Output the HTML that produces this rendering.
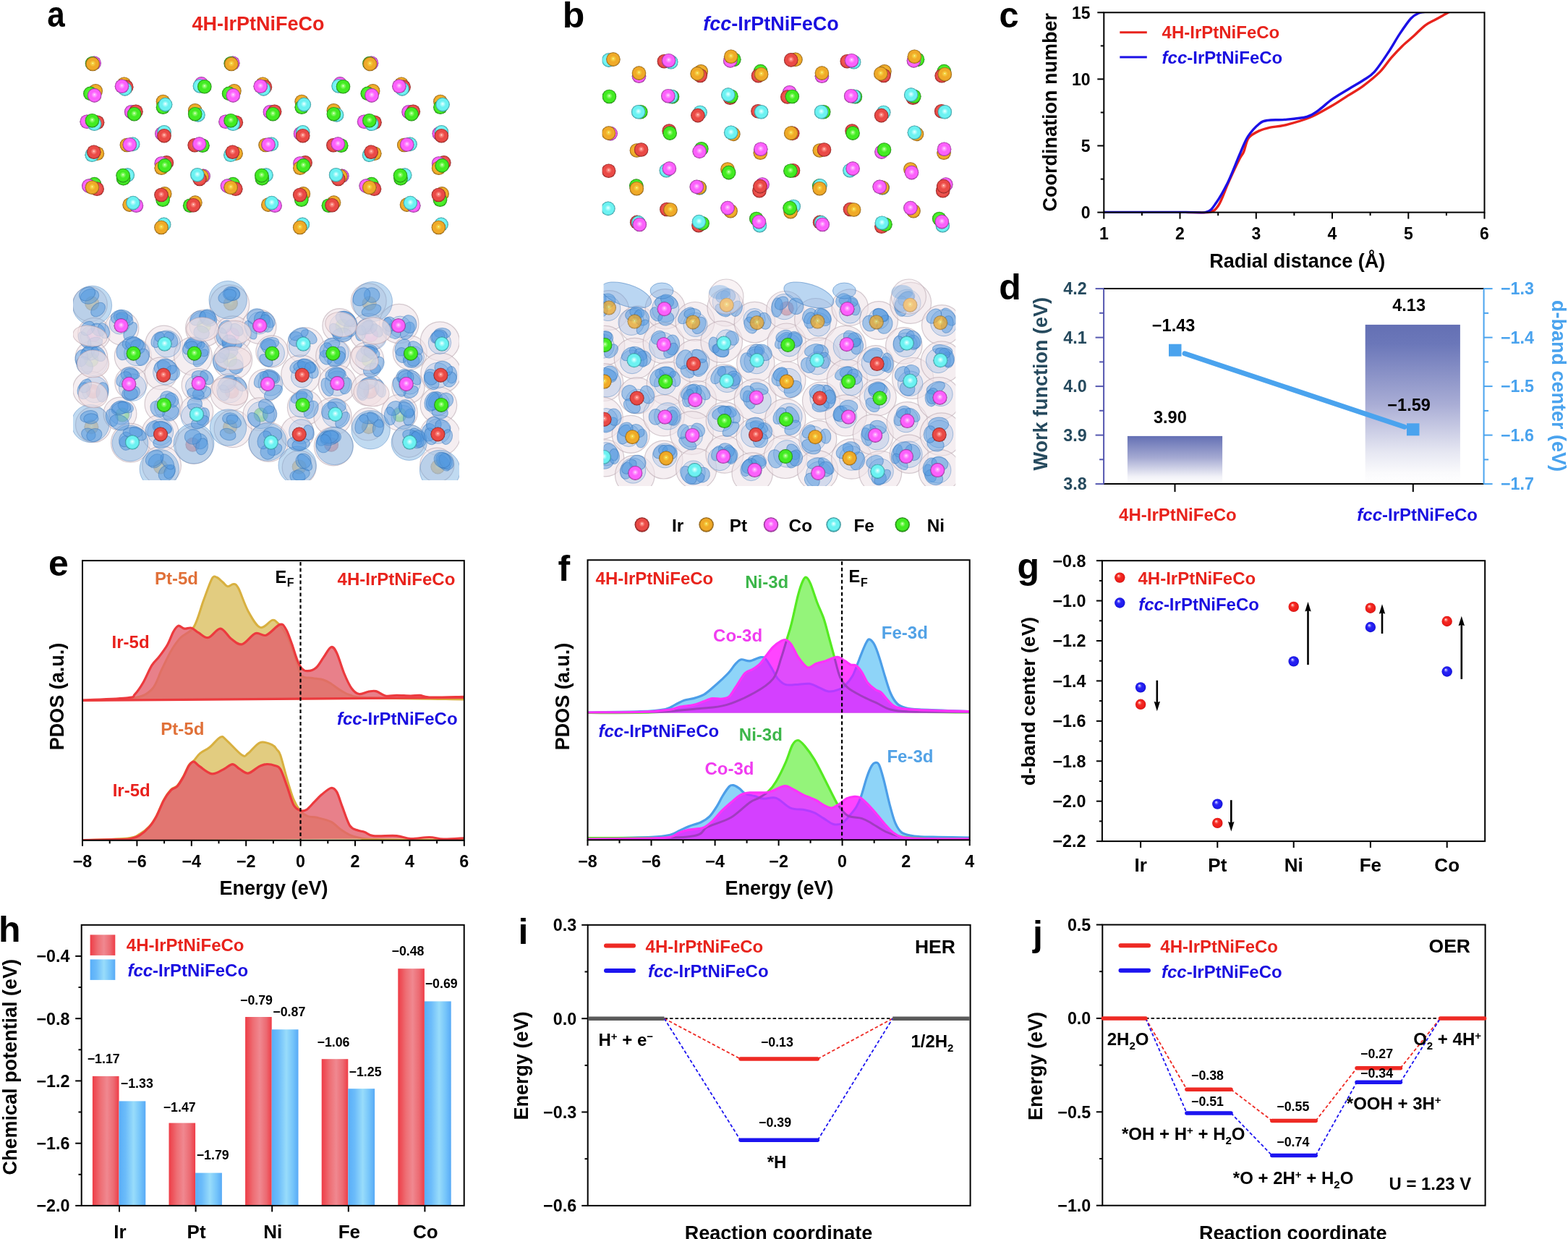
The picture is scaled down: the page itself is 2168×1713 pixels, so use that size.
<!DOCTYPE html>
<html><head><meta charset="utf-8"><title>Figure</title>
<style>
html,body{margin:0;padding:0;background:#fff;}
body{width:2168px;height:1713px;overflow:hidden;}
svg{display:block;}
svg text{font-family:'Liberation Sans', Arial, Helvetica, sans-serif;}
</style></head><body>
<svg width="2168" height="1713" viewBox="0 0 2168 1713">
<rect width="2168" height="1713" fill="#fff"/>
<defs>
<radialGradient id="ballR" cx="0.5" cy="0.5" r="0.5" fx="0.36" fy="0.3"><stop offset="0" stop-color="#ffffff"/><stop offset="0.18" stop-color="#ff8a80"/><stop offset="0.4" stop-color="#f42a24"/><stop offset="0.85" stop-color="#ec1c18"/><stop offset="1" stop-color="#c81010"/></radialGradient>
<radialGradient id="ballB" cx="0.5" cy="0.5" r="0.5" fx="0.36" fy="0.3"><stop offset="0" stop-color="#ffffff"/><stop offset="0.18" stop-color="#8a8aff"/><stop offset="0.4" stop-color="#2a24f4"/><stop offset="0.85" stop-color="#1c18ec"/><stop offset="1" stop-color="#1010c0"/></radialGradient>
<radialGradient id="atR" cx="0.5" cy="0.5" r="0.5" fx="0.5" fy="0.44"><stop offset="0" stop-color="#ffffff"/><stop offset="0.1" stop-color="#ff9c92"/><stop offset="0.45" stop-color="#ea4a46"/><stop offset="0.8" stop-color="#ea4a46"/><stop offset="0.93" stop-color="#b23331"/><stop offset="1" stop-color="#7a1c1c"/></radialGradient>
<radialGradient id="bkR" cx="0.5" cy="0.5" r="0.5" fx="0.5" fy="0.44"><stop offset="0" stop-color="#ff9c92"/><stop offset="0.3" stop-color="#f0635d"/><stop offset="0.8" stop-color="#ea4a46"/><stop offset="0.93" stop-color="#b23331"/><stop offset="1" stop-color="#7a1c1c"/></radialGradient>
<radialGradient id="lgR" cx="0.5" cy="0.5" r="0.5" fx="0.5" fy="0.42"><stop offset="0" stop-color="#ffffff"/><stop offset="0.1" stop-color="#ff9c92"/><stop offset="0.4" stop-color="#ea4a46"/><stop offset="0.75" stop-color="#ea4a46"/><stop offset="1" stop-color="#7a1c1c"/></radialGradient>
<radialGradient id="atO" cx="0.5" cy="0.5" r="0.5" fx="0.5" fy="0.44"><stop offset="0" stop-color="#ffffff"/><stop offset="0.1" stop-color="#f6dc4c"/><stop offset="0.45" stop-color="#f0aa28"/><stop offset="0.8" stop-color="#f0aa28"/><stop offset="0.93" stop-color="#b57d1c"/><stop offset="1" stop-color="#7a5010"/></radialGradient>
<radialGradient id="bkO" cx="0.5" cy="0.5" r="0.5" fx="0.5" fy="0.44"><stop offset="0" stop-color="#f6dc4c"/><stop offset="0.3" stop-color="#f2b933"/><stop offset="0.8" stop-color="#f0aa28"/><stop offset="0.93" stop-color="#b57d1c"/><stop offset="1" stop-color="#7a5010"/></radialGradient>
<radialGradient id="lgO" cx="0.5" cy="0.5" r="0.5" fx="0.5" fy="0.42"><stop offset="0" stop-color="#ffffff"/><stop offset="0.1" stop-color="#f6dc4c"/><stop offset="0.4" stop-color="#f0aa28"/><stop offset="0.75" stop-color="#f0aa28"/><stop offset="1" stop-color="#7a5010"/></radialGradient>
<radialGradient id="atP" cx="0.5" cy="0.5" r="0.5" fx="0.5" fy="0.44"><stop offset="0" stop-color="#ffffff"/><stop offset="0.1" stop-color="#ffb4ff"/><stop offset="0.45" stop-color="#fc60fc"/><stop offset="0.8" stop-color="#fc60fc"/><stop offset="0.93" stop-color="#bb43bb"/><stop offset="1" stop-color="#7a267a"/></radialGradient>
<radialGradient id="bkP" cx="0.5" cy="0.5" r="0.5" fx="0.5" fy="0.44"><stop offset="0" stop-color="#ffb4ff"/><stop offset="0.3" stop-color="#fd79fd"/><stop offset="0.8" stop-color="#fc60fc"/><stop offset="0.93" stop-color="#bb43bb"/><stop offset="1" stop-color="#7a267a"/></radialGradient>
<radialGradient id="lgP" cx="0.5" cy="0.5" r="0.5" fx="0.5" fy="0.42"><stop offset="0" stop-color="#ffffff"/><stop offset="0.1" stop-color="#ffb4ff"/><stop offset="0.4" stop-color="#fc60fc"/><stop offset="0.75" stop-color="#fc60fc"/><stop offset="1" stop-color="#7a267a"/></radialGradient>
<radialGradient id="atC" cx="0.5" cy="0.5" r="0.5" fx="0.5" fy="0.44"><stop offset="0" stop-color="#ffffff"/><stop offset="0.1" stop-color="#ccffff"/><stop offset="0.45" stop-color="#6cf2f2"/><stop offset="0.8" stop-color="#6cf2f2"/><stop offset="0.93" stop-color="#4ab8bc"/><stop offset="1" stop-color="#287e86"/></radialGradient>
<radialGradient id="bkC" cx="0.5" cy="0.5" r="0.5" fx="0.5" fy="0.44"><stop offset="0" stop-color="#ccffff"/><stop offset="0.3" stop-color="#89f6f6"/><stop offset="0.8" stop-color="#6cf2f2"/><stop offset="0.93" stop-color="#4ab8bc"/><stop offset="1" stop-color="#287e86"/></radialGradient>
<radialGradient id="lgC" cx="0.5" cy="0.5" r="0.5" fx="0.5" fy="0.42"><stop offset="0" stop-color="#ffffff"/><stop offset="0.1" stop-color="#ccffff"/><stop offset="0.4" stop-color="#6cf2f2"/><stop offset="0.75" stop-color="#6cf2f2"/><stop offset="1" stop-color="#287e86"/></radialGradient>
<radialGradient id="atG" cx="0.5" cy="0.5" r="0.5" fx="0.5" fy="0.44"><stop offset="0" stop-color="#ffffff"/><stop offset="0.1" stop-color="#a4ff84"/><stop offset="0.45" stop-color="#42ec22"/><stop offset="0.8" stop-color="#42ec22"/><stop offset="0.93" stop-color="#2dad19"/><stop offset="1" stop-color="#186e10"/></radialGradient>
<radialGradient id="bkG" cx="0.5" cy="0.5" r="0.5" fx="0.5" fy="0.44"><stop offset="0" stop-color="#a4ff84"/><stop offset="0.3" stop-color="#5ff23f"/><stop offset="0.8" stop-color="#42ec22"/><stop offset="0.93" stop-color="#2dad19"/><stop offset="1" stop-color="#186e10"/></radialGradient>
<radialGradient id="lgG" cx="0.5" cy="0.5" r="0.5" fx="0.5" fy="0.42"><stop offset="0" stop-color="#ffffff"/><stop offset="0.1" stop-color="#a4ff84"/><stop offset="0.4" stop-color="#42ec22"/><stop offset="0.75" stop-color="#42ec22"/><stop offset="1" stop-color="#186e10"/></radialGradient>
</defs>
<clipPath id="clipa2"><rect x="101" y="370" width="534" height="294"/></clipPath>
<g>
<circle cx="130.1" cy="87.2" r="9.8" fill="url(#bkP)"/>
<circle cx="127.5" cy="87.8" r="9.8" fill="url(#bkG)"/>
<circle cx="128.2" cy="88.5" r="9.8" fill="url(#atO)"/>
<circle cx="132.2" cy="125.8" r="9.8" fill="url(#bkO)"/>
<circle cx="124.9" cy="129.4" r="9.8" fill="url(#bkG)"/>
<circle cx="130.6" cy="131.9" r="9.8" fill="url(#atP)"/>
<circle cx="120.2" cy="168.3" r="9.8" fill="url(#bkP)"/>
<circle cx="134.6" cy="169.3" r="9.8" fill="url(#bkR)"/>
<circle cx="130.5" cy="171.3" r="9.8" fill="url(#bkC)"/>
<circle cx="127.4" cy="166.7" r="9.8" fill="url(#atG)"/>
<circle cx="134.4" cy="212.3" r="9.8" fill="url(#bkO)"/>
<circle cx="127.2" cy="214.3" r="9.8" fill="url(#bkC)"/>
<circle cx="129.8" cy="210.2" r="9.8" fill="url(#atR)"/>
<circle cx="130.5" cy="254.6" r="9.8" fill="url(#bkG)"/>
<circle cx="134.1" cy="261.3" r="9.8" fill="url(#bkR)"/>
<circle cx="122.8" cy="257.1" r="9.8" fill="url(#bkP)"/>
<circle cx="127.4" cy="259.2" r="9.8" fill="url(#atO)"/>
<circle cx="171.6" cy="116.2" r="9.8" fill="url(#bkO)"/>
<circle cx="174.7" cy="120.3" r="9.8" fill="url(#bkR)"/>
<circle cx="172.7" cy="122.9" r="9.8" fill="url(#bkC)"/>
<circle cx="168.5" cy="119.3" r="9.8" fill="url(#atP)"/>
<circle cx="181.7" cy="154.8" r="9.8" fill="url(#bkP)"/>
<circle cx="187.9" cy="154.3" r="9.8" fill="url(#bkR)"/>
<circle cx="185.6" cy="157.7" r="9.8" fill="url(#atG)"/>
<circle cx="175.4" cy="200.5" r="9.8" fill="url(#bkO)"/>
<circle cx="183.6" cy="199.4" r="9.8" fill="url(#bkC)"/>
<circle cx="179.3" cy="200.0" r="9.8" fill="url(#atP)"/>
<circle cx="176.3" cy="242.1" r="9.8" fill="url(#bkC)"/>
<circle cx="170.6" cy="246.7" r="9.8" fill="url(#bkG)"/>
<circle cx="170.1" cy="242.6" r="9.8" fill="url(#atG)"/>
<circle cx="179.1" cy="283.1" r="9.8" fill="url(#bkO)"/>
<circle cx="188.4" cy="284.2" r="9.8" fill="url(#bkP)"/>
<circle cx="184.0" cy="280.6" r="9.8" fill="url(#atC)"/>
<circle cx="225.5" cy="140.5" r="9.8" fill="url(#bkO)"/>
<circle cx="225.5" cy="148.2" r="9.8" fill="url(#bkG)"/>
<circle cx="228.6" cy="144.6" r="9.8" fill="url(#atC)"/>
<circle cx="223.9" cy="184.8" r="9.8" fill="url(#bkP)"/>
<circle cx="227.0" cy="182.8" r="9.8" fill="url(#bkC)"/>
<circle cx="227.0" cy="187.7" r="9.8" fill="url(#atR)"/>
<circle cx="230.4" cy="224.9" r="9.8" fill="url(#bkR)"/>
<circle cx="223.2" cy="226.0" r="9.8" fill="url(#bkP)"/>
<circle cx="223.2" cy="232.2" r="9.8" fill="url(#bkO)"/>
<circle cx="227.8" cy="228.9" r="9.8" fill="url(#atG)"/>
<circle cx="227.7" cy="267.9" r="9.8" fill="url(#bkO)"/>
<circle cx="225.1" cy="276.2" r="9.8" fill="url(#bkG)"/>
<circle cx="223.0" cy="269.5" r="9.8" fill="url(#atR)"/>
<circle cx="226.6" cy="310.4" r="9.8" fill="url(#bkC)"/>
<circle cx="223.0" cy="314.5" r="9.8" fill="url(#atO)"/>
<circle cx="278.4" cy="115.9" r="9.8" fill="url(#bkP)"/>
<circle cx="276.4" cy="119.0" r="9.8" fill="url(#bkC)"/>
<circle cx="282.8" cy="119.8" r="9.8" fill="url(#atG)"/>
<circle cx="269.7" cy="152.8" r="9.8" fill="url(#bkO)"/>
<circle cx="273.9" cy="158.9" r="9.8" fill="url(#bkC)"/>
<circle cx="269.7" cy="157.7" r="9.8" fill="url(#atG)"/>
<circle cx="269.2" cy="200.7" r="9.8" fill="url(#bkR)"/>
<circle cx="280.0" cy="201.2" r="9.8" fill="url(#bkG)"/>
<circle cx="275.6" cy="199.1" r="9.8" fill="url(#atP)"/>
<circle cx="281.1" cy="243.4" r="9.8" fill="url(#bkP)"/>
<circle cx="279.1" cy="243.9" r="9.8" fill="url(#bkO)"/>
<circle cx="276.0" cy="247.5" r="9.8" fill="url(#bkR)"/>
<circle cx="272.9" cy="241.8" r="9.8" fill="url(#atC)"/>
<circle cx="269.9" cy="280.1" r="9.8" fill="url(#bkO)"/>
<circle cx="262.7" cy="284.2" r="9.8" fill="url(#bkG)"/>
<circle cx="267.4" cy="283.7" r="9.8" fill="url(#atR)"/>
<circle cx="321.8" cy="87.2" r="9.8" fill="url(#bkP)"/>
<circle cx="319.2" cy="87.8" r="9.8" fill="url(#bkG)"/>
<circle cx="319.9" cy="88.5" r="9.8" fill="url(#atO)"/>
<circle cx="323.9" cy="125.8" r="9.8" fill="url(#bkO)"/>
<circle cx="316.6" cy="129.4" r="9.8" fill="url(#bkG)"/>
<circle cx="322.3" cy="131.9" r="9.8" fill="url(#atP)"/>
<circle cx="312.0" cy="168.3" r="9.8" fill="url(#bkP)"/>
<circle cx="326.3" cy="169.3" r="9.8" fill="url(#bkR)"/>
<circle cx="322.2" cy="171.3" r="9.8" fill="url(#bkC)"/>
<circle cx="319.1" cy="166.7" r="9.8" fill="url(#atG)"/>
<circle cx="326.1" cy="212.3" r="9.8" fill="url(#bkO)"/>
<circle cx="318.9" cy="214.3" r="9.8" fill="url(#bkC)"/>
<circle cx="321.5" cy="210.2" r="9.8" fill="url(#atR)"/>
<circle cx="322.2" cy="254.6" r="9.8" fill="url(#bkG)"/>
<circle cx="325.8" cy="261.3" r="9.8" fill="url(#bkR)"/>
<circle cx="314.5" cy="257.1" r="9.8" fill="url(#bkP)"/>
<circle cx="319.1" cy="259.2" r="9.8" fill="url(#atO)"/>
<circle cx="363.3" cy="116.2" r="9.8" fill="url(#bkO)"/>
<circle cx="366.4" cy="120.3" r="9.8" fill="url(#bkR)"/>
<circle cx="364.4" cy="122.9" r="9.8" fill="url(#bkC)"/>
<circle cx="360.2" cy="119.3" r="9.8" fill="url(#atP)"/>
<circle cx="373.4" cy="154.8" r="9.8" fill="url(#bkP)"/>
<circle cx="379.6" cy="154.3" r="9.8" fill="url(#bkR)"/>
<circle cx="377.3" cy="157.7" r="9.8" fill="url(#atG)"/>
<circle cx="367.1" cy="200.5" r="9.8" fill="url(#bkO)"/>
<circle cx="375.3" cy="199.4" r="9.8" fill="url(#bkC)"/>
<circle cx="371.0" cy="200.0" r="9.8" fill="url(#atP)"/>
<circle cx="368.0" cy="242.1" r="9.8" fill="url(#bkC)"/>
<circle cx="362.3" cy="246.7" r="9.8" fill="url(#bkG)"/>
<circle cx="361.8" cy="242.6" r="9.8" fill="url(#atG)"/>
<circle cx="370.8" cy="283.1" r="9.8" fill="url(#bkO)"/>
<circle cx="380.1" cy="284.2" r="9.8" fill="url(#bkP)"/>
<circle cx="375.7" cy="280.6" r="9.8" fill="url(#atC)"/>
<circle cx="417.2" cy="140.5" r="9.8" fill="url(#bkO)"/>
<circle cx="417.2" cy="148.2" r="9.8" fill="url(#bkG)"/>
<circle cx="420.3" cy="144.6" r="9.8" fill="url(#atC)"/>
<circle cx="415.6" cy="184.8" r="9.8" fill="url(#bkP)"/>
<circle cx="418.7" cy="182.8" r="9.8" fill="url(#bkC)"/>
<circle cx="418.7" cy="187.7" r="9.8" fill="url(#atR)"/>
<circle cx="422.1" cy="224.9" r="9.8" fill="url(#bkR)"/>
<circle cx="414.9" cy="226.0" r="9.8" fill="url(#bkP)"/>
<circle cx="414.9" cy="232.2" r="9.8" fill="url(#bkO)"/>
<circle cx="419.5" cy="228.9" r="9.8" fill="url(#atG)"/>
<circle cx="419.4" cy="267.9" r="9.8" fill="url(#bkO)"/>
<circle cx="416.8" cy="276.2" r="9.8" fill="url(#bkG)"/>
<circle cx="414.7" cy="269.5" r="9.8" fill="url(#atR)"/>
<circle cx="418.3" cy="310.4" r="9.8" fill="url(#bkC)"/>
<circle cx="414.7" cy="314.5" r="9.8" fill="url(#atO)"/>
<circle cx="470.1" cy="115.9" r="9.8" fill="url(#bkP)"/>
<circle cx="468.1" cy="119.0" r="9.8" fill="url(#bkC)"/>
<circle cx="474.5" cy="119.8" r="9.8" fill="url(#atG)"/>
<circle cx="461.4" cy="152.8" r="9.8" fill="url(#bkO)"/>
<circle cx="465.6" cy="158.9" r="9.8" fill="url(#bkC)"/>
<circle cx="461.4" cy="157.7" r="9.8" fill="url(#atG)"/>
<circle cx="460.9" cy="200.7" r="9.8" fill="url(#bkR)"/>
<circle cx="471.7" cy="201.2" r="9.8" fill="url(#bkG)"/>
<circle cx="467.3" cy="199.1" r="9.8" fill="url(#atP)"/>
<circle cx="472.8" cy="243.4" r="9.8" fill="url(#bkP)"/>
<circle cx="470.8" cy="243.9" r="9.8" fill="url(#bkO)"/>
<circle cx="467.7" cy="247.5" r="9.8" fill="url(#bkR)"/>
<circle cx="464.6" cy="241.8" r="9.8" fill="url(#atC)"/>
<circle cx="461.6" cy="280.1" r="9.8" fill="url(#bkO)"/>
<circle cx="454.4" cy="284.2" r="9.8" fill="url(#bkG)"/>
<circle cx="459.1" cy="283.7" r="9.8" fill="url(#atR)"/>
<circle cx="513.5" cy="87.2" r="9.8" fill="url(#bkP)"/>
<circle cx="510.9" cy="87.8" r="9.8" fill="url(#bkG)"/>
<circle cx="511.6" cy="88.5" r="9.8" fill="url(#atO)"/>
<circle cx="515.6" cy="125.8" r="9.8" fill="url(#bkO)"/>
<circle cx="508.3" cy="129.4" r="9.8" fill="url(#bkG)"/>
<circle cx="514.0" cy="131.9" r="9.8" fill="url(#atP)"/>
<circle cx="503.6" cy="168.3" r="9.8" fill="url(#bkP)"/>
<circle cx="518.0" cy="169.3" r="9.8" fill="url(#bkR)"/>
<circle cx="513.9" cy="171.3" r="9.8" fill="url(#bkC)"/>
<circle cx="510.8" cy="166.7" r="9.8" fill="url(#atG)"/>
<circle cx="517.8" cy="212.3" r="9.8" fill="url(#bkO)"/>
<circle cx="510.6" cy="214.3" r="9.8" fill="url(#bkC)"/>
<circle cx="513.2" cy="210.2" r="9.8" fill="url(#atR)"/>
<circle cx="513.9" cy="254.6" r="9.8" fill="url(#bkG)"/>
<circle cx="517.5" cy="261.3" r="9.8" fill="url(#bkR)"/>
<circle cx="506.2" cy="257.1" r="9.8" fill="url(#bkP)"/>
<circle cx="510.8" cy="259.2" r="9.8" fill="url(#atO)"/>
<circle cx="555.0" cy="116.2" r="9.8" fill="url(#bkO)"/>
<circle cx="558.1" cy="120.3" r="9.8" fill="url(#bkR)"/>
<circle cx="556.1" cy="122.9" r="9.8" fill="url(#bkC)"/>
<circle cx="551.9" cy="119.3" r="9.8" fill="url(#atP)"/>
<circle cx="565.1" cy="154.8" r="9.8" fill="url(#bkP)"/>
<circle cx="571.3" cy="154.3" r="9.8" fill="url(#bkR)"/>
<circle cx="569.0" cy="157.7" r="9.8" fill="url(#atG)"/>
<circle cx="558.8" cy="200.5" r="9.8" fill="url(#bkO)"/>
<circle cx="567.0" cy="199.4" r="9.8" fill="url(#bkC)"/>
<circle cx="562.7" cy="200.0" r="9.8" fill="url(#atP)"/>
<circle cx="559.7" cy="242.1" r="9.8" fill="url(#bkC)"/>
<circle cx="554.0" cy="246.7" r="9.8" fill="url(#bkG)"/>
<circle cx="553.5" cy="242.6" r="9.8" fill="url(#atG)"/>
<circle cx="562.5" cy="283.1" r="9.8" fill="url(#bkO)"/>
<circle cx="571.8" cy="284.2" r="9.8" fill="url(#bkP)"/>
<circle cx="567.4" cy="280.6" r="9.8" fill="url(#atC)"/>
<circle cx="608.9" cy="140.5" r="9.8" fill="url(#bkO)"/>
<circle cx="608.9" cy="148.2" r="9.8" fill="url(#bkG)"/>
<circle cx="612.0" cy="144.6" r="9.8" fill="url(#atC)"/>
<circle cx="607.3" cy="184.8" r="9.8" fill="url(#bkP)"/>
<circle cx="610.4" cy="182.8" r="9.8" fill="url(#bkC)"/>
<circle cx="610.4" cy="187.7" r="9.8" fill="url(#atR)"/>
<circle cx="613.8" cy="224.9" r="9.8" fill="url(#bkR)"/>
<circle cx="606.6" cy="226.0" r="9.8" fill="url(#bkP)"/>
<circle cx="606.6" cy="232.2" r="9.8" fill="url(#bkO)"/>
<circle cx="611.2" cy="228.9" r="9.8" fill="url(#atG)"/>
<circle cx="611.1" cy="267.9" r="9.8" fill="url(#bkO)"/>
<circle cx="608.5" cy="276.2" r="9.8" fill="url(#bkG)"/>
<circle cx="606.4" cy="269.5" r="9.8" fill="url(#atR)"/>
<circle cx="610.0" cy="310.4" r="9.8" fill="url(#bkC)"/>
<circle cx="606.4" cy="314.5" r="9.8" fill="url(#atO)"/>
</g>
<g clip-path="url(#clipa2)">
<circle cx="127.2" cy="419.5" r="10" fill="url(#atO)"/>
<circle cx="129.6" cy="462.9" r="10" fill="url(#atP)"/>
<circle cx="126.4" cy="497.7" r="10" fill="url(#atG)"/>
<circle cx="128.8" cy="541.2" r="10" fill="url(#atR)"/>
<circle cx="126.4" cy="590.2" r="10" fill="url(#atO)"/>
<circle cx="169.1" cy="573.6" r="10" fill="url(#atG)"/>
<circle cx="222.0" cy="645.5" r="10" fill="url(#atO)"/>
<circle cx="281.8" cy="450.8" r="10" fill="url(#atG)"/>
<circle cx="266.4" cy="614.7" r="10" fill="url(#atR)"/>
<circle cx="318.9" cy="419.5" r="10" fill="url(#atO)"/>
<circle cx="321.3" cy="462.9" r="10" fill="url(#atP)"/>
<circle cx="318.1" cy="497.7" r="10" fill="url(#atG)"/>
<circle cx="320.5" cy="541.2" r="10" fill="url(#atR)"/>
<circle cx="318.1" cy="590.2" r="10" fill="url(#atO)"/>
<circle cx="360.8" cy="573.6" r="10" fill="url(#atG)"/>
<circle cx="413.7" cy="645.5" r="10" fill="url(#atO)"/>
<circle cx="473.5" cy="450.8" r="10" fill="url(#atG)"/>
<circle cx="458.1" cy="614.7" r="10" fill="url(#atR)"/>
<circle cx="510.6" cy="419.5" r="10" fill="url(#atO)"/>
<circle cx="513.0" cy="462.9" r="10" fill="url(#atP)"/>
<circle cx="509.8" cy="497.7" r="10" fill="url(#atG)"/>
<circle cx="512.2" cy="541.2" r="10" fill="url(#atR)"/>
<circle cx="509.8" cy="590.2" r="10" fill="url(#atO)"/>
<circle cx="552.5" cy="573.6" r="10" fill="url(#atG)"/>
<circle cx="605.4" cy="645.5" r="10" fill="url(#atO)"/>
<circle cx="124.4" cy="420.7" r="23.9" fill="#efe3e8" fill-opacity="0.62" stroke="#b4a2ac" stroke-opacity="0.55" stroke-width="1.2"/>
<circle cx="129.9" cy="461.8" r="22.4" fill="#efe3e8" fill-opacity="0.62" stroke="#b4a2ac" stroke-opacity="0.55" stroke-width="1.2"/>
<circle cx="126.5" cy="494.0" r="22.3" fill="#efe3e8" fill-opacity="0.62" stroke="#b4a2ac" stroke-opacity="0.55" stroke-width="1.2"/>
<circle cx="125.4" cy="537.9" r="24.6" fill="#efe3e8" fill-opacity="0.62" stroke="#b4a2ac" stroke-opacity="0.55" stroke-width="1.2"/>
<circle cx="129.0" cy="587.2" r="24.5" fill="#efe3e8" fill-opacity="0.62" stroke="#b4a2ac" stroke-opacity="0.55" stroke-width="1.2"/>
<circle cx="168.5" cy="453.9" r="23.3" fill="#efe3e8" fill-opacity="0.62" stroke="#b4a2ac" stroke-opacity="0.55" stroke-width="1.2"/>
<circle cx="183.8" cy="492.5" r="25.5" fill="#efe3e8" fill-opacity="0.62" stroke="#b4a2ac" stroke-opacity="0.55" stroke-width="1.2"/>
<circle cx="181.2" cy="529.3" r="22.3" fill="#efe3e8" fill-opacity="0.62" stroke="#b4a2ac" stroke-opacity="0.55" stroke-width="1.2"/>
<circle cx="166.0" cy="572.1" r="22.9" fill="#efe3e8" fill-opacity="0.62" stroke="#b4a2ac" stroke-opacity="0.55" stroke-width="1.2"/>
<circle cx="180.4" cy="612.3" r="26.9" fill="#efe3e8" fill-opacity="0.62" stroke="#b4a2ac" stroke-opacity="0.55" stroke-width="1.2"/>
<circle cx="226.6" cy="476.0" r="25.8" fill="#efe3e8" fill-opacity="0.62" stroke="#b4a2ac" stroke-opacity="0.55" stroke-width="1.2"/>
<circle cx="222.5" cy="516.3" r="22.4" fill="#efe3e8" fill-opacity="0.62" stroke="#b4a2ac" stroke-opacity="0.55" stroke-width="1.2"/>
<circle cx="226.2" cy="558.4" r="26.1" fill="#efe3e8" fill-opacity="0.62" stroke="#b4a2ac" stroke-opacity="0.55" stroke-width="1.2"/>
<circle cx="221.6" cy="598.9" r="25.5" fill="#efe3e8" fill-opacity="0.62" stroke="#b4a2ac" stroke-opacity="0.55" stroke-width="1.2"/>
<circle cx="223.6" cy="643.5" r="26.8" fill="#efe3e8" fill-opacity="0.62" stroke="#b4a2ac" stroke-opacity="0.55" stroke-width="1.2"/>
<circle cx="282.0" cy="453.8" r="25.4" fill="#efe3e8" fill-opacity="0.62" stroke="#b4a2ac" stroke-opacity="0.55" stroke-width="1.2"/>
<circle cx="267.0" cy="492.5" r="26.4" fill="#efe3e8" fill-opacity="0.62" stroke="#b4a2ac" stroke-opacity="0.55" stroke-width="1.2"/>
<circle cx="273.9" cy="532.2" r="22.7" fill="#efe3e8" fill-opacity="0.62" stroke="#b4a2ac" stroke-opacity="0.55" stroke-width="1.2"/>
<circle cx="271.8" cy="569.1" r="22.9" fill="#efe3e8" fill-opacity="0.62" stroke="#b4a2ac" stroke-opacity="0.55" stroke-width="1.2"/>
<circle cx="268.5" cy="615.3" r="26.0" fill="#efe3e8" fill-opacity="0.62" stroke="#b4a2ac" stroke-opacity="0.55" stroke-width="1.2"/>
<circle cx="317.4" cy="421.1" r="27.3" fill="#efe3e8" fill-opacity="0.62" stroke="#b4a2ac" stroke-opacity="0.55" stroke-width="1.2"/>
<circle cx="321.9" cy="462.5" r="25.6" fill="#efe3e8" fill-opacity="0.62" stroke="#b4a2ac" stroke-opacity="0.55" stroke-width="1.2"/>
<circle cx="321.7" cy="497.5" r="27.0" fill="#efe3e8" fill-opacity="0.62" stroke="#b4a2ac" stroke-opacity="0.55" stroke-width="1.2"/>
<circle cx="317.0" cy="542.8" r="26.0" fill="#efe3e8" fill-opacity="0.62" stroke="#b4a2ac" stroke-opacity="0.55" stroke-width="1.2"/>
<circle cx="322.0" cy="592.8" r="25.9" fill="#efe3e8" fill-opacity="0.62" stroke="#b4a2ac" stroke-opacity="0.55" stroke-width="1.2"/>
<circle cx="358.3" cy="451.6" r="23.7" fill="#efe3e8" fill-opacity="0.62" stroke="#b4a2ac" stroke-opacity="0.55" stroke-width="1.2"/>
<circle cx="376.0" cy="486.0" r="22.1" fill="#efe3e8" fill-opacity="0.62" stroke="#b4a2ac" stroke-opacity="0.55" stroke-width="1.2"/>
<circle cx="366.5" cy="533.1" r="22.7" fill="#efe3e8" fill-opacity="0.62" stroke="#b4a2ac" stroke-opacity="0.55" stroke-width="1.2"/>
<circle cx="358.8" cy="572.7" r="22.8" fill="#efe3e8" fill-opacity="0.62" stroke="#b4a2ac" stroke-opacity="0.55" stroke-width="1.2"/>
<circle cx="371.3" cy="611.2" r="27.2" fill="#efe3e8" fill-opacity="0.62" stroke="#b4a2ac" stroke-opacity="0.55" stroke-width="1.2"/>
<circle cx="422.4" cy="478.2" r="25.3" fill="#efe3e8" fill-opacity="0.62" stroke="#b4a2ac" stroke-opacity="0.55" stroke-width="1.2"/>
<circle cx="415.9" cy="518.0" r="27.2" fill="#efe3e8" fill-opacity="0.62" stroke="#b4a2ac" stroke-opacity="0.55" stroke-width="1.2"/>
<circle cx="421.6" cy="563.6" r="24.2" fill="#efe3e8" fill-opacity="0.62" stroke="#b4a2ac" stroke-opacity="0.55" stroke-width="1.2"/>
<circle cx="411.1" cy="598.4" r="22.9" fill="#efe3e8" fill-opacity="0.62" stroke="#b4a2ac" stroke-opacity="0.55" stroke-width="1.2"/>
<circle cx="413.6" cy="646.2" r="23.4" fill="#efe3e8" fill-opacity="0.62" stroke="#b4a2ac" stroke-opacity="0.55" stroke-width="1.2"/>
<circle cx="469.5" cy="450.2" r="23.6" fill="#efe3e8" fill-opacity="0.62" stroke="#b4a2ac" stroke-opacity="0.55" stroke-width="1.2"/>
<circle cx="460.9" cy="492.3" r="24.2" fill="#efe3e8" fill-opacity="0.62" stroke="#b4a2ac" stroke-opacity="0.55" stroke-width="1.2"/>
<circle cx="466.4" cy="531.0" r="26.1" fill="#efe3e8" fill-opacity="0.62" stroke="#b4a2ac" stroke-opacity="0.55" stroke-width="1.2"/>
<circle cx="460.0" cy="576.0" r="26.1" fill="#efe3e8" fill-opacity="0.62" stroke="#b4a2ac" stroke-opacity="0.55" stroke-width="1.2"/>
<circle cx="461.1" cy="617.1" r="26.7" fill="#efe3e8" fill-opacity="0.62" stroke="#b4a2ac" stroke-opacity="0.55" stroke-width="1.2"/>
<circle cx="509.8" cy="416.3" r="24.4" fill="#efe3e8" fill-opacity="0.62" stroke="#b4a2ac" stroke-opacity="0.55" stroke-width="1.2"/>
<circle cx="509.5" cy="459.4" r="25.8" fill="#efe3e8" fill-opacity="0.62" stroke="#b4a2ac" stroke-opacity="0.55" stroke-width="1.2"/>
<circle cx="507.1" cy="496.4" r="23.3" fill="#efe3e8" fill-opacity="0.62" stroke="#b4a2ac" stroke-opacity="0.55" stroke-width="1.2"/>
<circle cx="508.2" cy="538.4" r="22.3" fill="#efe3e8" fill-opacity="0.62" stroke="#b4a2ac" stroke-opacity="0.55" stroke-width="1.2"/>
<circle cx="508.7" cy="586.4" r="22.6" fill="#efe3e8" fill-opacity="0.62" stroke="#b4a2ac" stroke-opacity="0.55" stroke-width="1.2"/>
<circle cx="551.8" cy="447.5" r="27.2" fill="#efe3e8" fill-opacity="0.62" stroke="#b4a2ac" stroke-opacity="0.55" stroke-width="1.2"/>
<circle cx="566.8" cy="487.6" r="23.5" fill="#efe3e8" fill-opacity="0.62" stroke="#b4a2ac" stroke-opacity="0.55" stroke-width="1.2"/>
<circle cx="564.5" cy="534.9" r="22.7" fill="#efe3e8" fill-opacity="0.62" stroke="#b4a2ac" stroke-opacity="0.55" stroke-width="1.2"/>
<circle cx="552.4" cy="570.3" r="24.8" fill="#efe3e8" fill-opacity="0.62" stroke="#b4a2ac" stroke-opacity="0.55" stroke-width="1.2"/>
<circle cx="565.1" cy="609.7" r="22.6" fill="#efe3e8" fill-opacity="0.62" stroke="#b4a2ac" stroke-opacity="0.55" stroke-width="1.2"/>
<circle cx="608.3" cy="471.8" r="27.0" fill="#efe3e8" fill-opacity="0.62" stroke="#b4a2ac" stroke-opacity="0.55" stroke-width="1.2"/>
<circle cx="609.6" cy="515.9" r="27.7" fill="#efe3e8" fill-opacity="0.62" stroke="#b4a2ac" stroke-opacity="0.55" stroke-width="1.2"/>
<circle cx="606.4" cy="560.1" r="25.3" fill="#efe3e8" fill-opacity="0.62" stroke="#b4a2ac" stroke-opacity="0.55" stroke-width="1.2"/>
<circle cx="608.3" cy="602.1" r="27.9" fill="#efe3e8" fill-opacity="0.62" stroke="#b4a2ac" stroke-opacity="0.55" stroke-width="1.2"/>
<circle cx="604.3" cy="642.8" r="23.6" fill="#efe3e8" fill-opacity="0.62" stroke="#b4a2ac" stroke-opacity="0.55" stroke-width="1.2"/>
<circle cx="127.5" cy="422.3" r="27.1" fill="#6aa6de" fill-opacity="0.42" stroke="#5a8cc4" stroke-opacity="0.5" stroke-width="1"/>
<circle cx="126.8" cy="466.0" r="15.6" fill="#8cb2e2" fill-opacity="0.32" stroke="#5a8cc4" stroke-opacity="0.5" stroke-width="1"/>
<circle cx="129.9" cy="500.8" r="18.9" fill="#8cb2e2" fill-opacity="0.32" stroke="#5a8cc4" stroke-opacity="0.5" stroke-width="1"/>
<circle cx="131.2" cy="538.5" r="18.1" fill="#8cb2e2" fill-opacity="0.32" stroke="#5a8cc4" stroke-opacity="0.5" stroke-width="1"/>
<circle cx="125.0" cy="585.5" r="26.1" fill="#6aa6de" fill-opacity="0.42" stroke="#5a8cc4" stroke-opacity="0.5" stroke-width="1"/>
<circle cx="165.3" cy="447.9" r="14.1" fill="#8cb2e2" fill-opacity="0.32" stroke="#5a8cc4" stroke-opacity="0.5" stroke-width="1"/>
<circle cx="189.2" cy="488.2" r="17.5" fill="#8cb2e2" fill-opacity="0.32" stroke="#5a8cc4" stroke-opacity="0.5" stroke-width="1"/>
<circle cx="183.2" cy="535.6" r="18.7" fill="#8cb2e2" fill-opacity="0.32" stroke="#5a8cc4" stroke-opacity="0.5" stroke-width="1"/>
<circle cx="166.3" cy="570.9" r="15.8" fill="#8cb2e2" fill-opacity="0.32" stroke="#5a8cc4" stroke-opacity="0.5" stroke-width="1"/>
<circle cx="180.0" cy="612.8" r="24.8" fill="#6aa6de" fill-opacity="0.42" stroke="#5a8cc4" stroke-opacity="0.5" stroke-width="1"/>
<circle cx="231.0" cy="475.4" r="18.5" fill="#8cb2e2" fill-opacity="0.32" stroke="#5a8cc4" stroke-opacity="0.5" stroke-width="1"/>
<circle cx="229.0" cy="514.5" r="17.3" fill="#8cb2e2" fill-opacity="0.32" stroke="#5a8cc4" stroke-opacity="0.5" stroke-width="1"/>
<circle cx="230.9" cy="562.7" r="17.3" fill="#8cb2e2" fill-opacity="0.32" stroke="#5a8cc4" stroke-opacity="0.5" stroke-width="1"/>
<circle cx="221.8" cy="597.3" r="17.8" fill="#8cb2e2" fill-opacity="0.32" stroke="#5a8cc4" stroke-opacity="0.5" stroke-width="1"/>
<circle cx="220.3" cy="648.5" r="27.2" fill="#6aa6de" fill-opacity="0.42" stroke="#5a8cc4" stroke-opacity="0.5" stroke-width="1"/>
<circle cx="280.8" cy="449.8" r="18.9" fill="#8cb2e2" fill-opacity="0.32" stroke="#5a8cc4" stroke-opacity="0.5" stroke-width="1"/>
<circle cx="270.9" cy="485.4" r="18.7" fill="#8cb2e2" fill-opacity="0.32" stroke="#5a8cc4" stroke-opacity="0.5" stroke-width="1"/>
<circle cx="271.1" cy="534.1" r="14.6" fill="#8cb2e2" fill-opacity="0.32" stroke="#5a8cc4" stroke-opacity="0.5" stroke-width="1"/>
<circle cx="268.4" cy="576.1" r="18.0" fill="#8cb2e2" fill-opacity="0.32" stroke="#5a8cc4" stroke-opacity="0.5" stroke-width="1"/>
<circle cx="268.0" cy="613.2" r="27.9" fill="#6aa6de" fill-opacity="0.42" stroke="#5a8cc4" stroke-opacity="0.5" stroke-width="1"/>
<circle cx="315.2" cy="414.6" r="26.2" fill="#6aa6de" fill-opacity="0.42" stroke="#5a8cc4" stroke-opacity="0.5" stroke-width="1"/>
<circle cx="322.8" cy="463.2" r="18.9" fill="#8cb2e2" fill-opacity="0.32" stroke="#5a8cc4" stroke-opacity="0.5" stroke-width="1"/>
<circle cx="317.4" cy="501.4" r="18.7" fill="#8cb2e2" fill-opacity="0.32" stroke="#5a8cc4" stroke-opacity="0.5" stroke-width="1"/>
<circle cx="317.6" cy="538.7" r="18.1" fill="#8cb2e2" fill-opacity="0.32" stroke="#5a8cc4" stroke-opacity="0.5" stroke-width="1"/>
<circle cx="315.5" cy="591.1" r="25.2" fill="#6aa6de" fill-opacity="0.42" stroke="#5a8cc4" stroke-opacity="0.5" stroke-width="1"/>
<circle cx="358.4" cy="446.6" r="15.3" fill="#8cb2e2" fill-opacity="0.32" stroke="#5a8cc4" stroke-opacity="0.5" stroke-width="1"/>
<circle cx="374.8" cy="488.3" r="18.6" fill="#8cb2e2" fill-opacity="0.32" stroke="#5a8cc4" stroke-opacity="0.5" stroke-width="1"/>
<circle cx="374.0" cy="530.2" r="16.9" fill="#8cb2e2" fill-opacity="0.32" stroke="#5a8cc4" stroke-opacity="0.5" stroke-width="1"/>
<circle cx="360.8" cy="573.9" r="18.6" fill="#8cb2e2" fill-opacity="0.32" stroke="#5a8cc4" stroke-opacity="0.5" stroke-width="1"/>
<circle cx="369.9" cy="611.0" r="26.1" fill="#6aa6de" fill-opacity="0.42" stroke="#5a8cc4" stroke-opacity="0.5" stroke-width="1"/>
<circle cx="414.3" cy="478.6" r="14.9" fill="#8cb2e2" fill-opacity="0.32" stroke="#5a8cc4" stroke-opacity="0.5" stroke-width="1"/>
<circle cx="417.4" cy="521.0" r="14.9" fill="#8cb2e2" fill-opacity="0.32" stroke="#5a8cc4" stroke-opacity="0.5" stroke-width="1"/>
<circle cx="416.8" cy="560.1" r="16.8" fill="#8cb2e2" fill-opacity="0.32" stroke="#5a8cc4" stroke-opacity="0.5" stroke-width="1"/>
<circle cx="416.5" cy="596.6" r="16.8" fill="#8cb2e2" fill-opacity="0.32" stroke="#5a8cc4" stroke-opacity="0.5" stroke-width="1"/>
<circle cx="411.2" cy="643.3" r="26.2" fill="#6aa6de" fill-opacity="0.42" stroke="#5a8cc4" stroke-opacity="0.5" stroke-width="1"/>
<circle cx="473.6" cy="451.4" r="17.9" fill="#8cb2e2" fill-opacity="0.32" stroke="#5a8cc4" stroke-opacity="0.5" stroke-width="1"/>
<circle cx="464.5" cy="488.1" r="17.8" fill="#8cb2e2" fill-opacity="0.32" stroke="#5a8cc4" stroke-opacity="0.5" stroke-width="1"/>
<circle cx="466.4" cy="530.2" r="17.1" fill="#8cb2e2" fill-opacity="0.32" stroke="#5a8cc4" stroke-opacity="0.5" stroke-width="1"/>
<circle cx="463.1" cy="573.1" r="17.5" fill="#8cb2e2" fill-opacity="0.32" stroke="#5a8cc4" stroke-opacity="0.5" stroke-width="1"/>
<circle cx="462.5" cy="616.7" r="25.9" fill="#6aa6de" fill-opacity="0.42" stroke="#5a8cc4" stroke-opacity="0.5" stroke-width="1"/>
<circle cx="515.0" cy="417.1" r="27.5" fill="#6aa6de" fill-opacity="0.42" stroke="#5a8cc4" stroke-opacity="0.5" stroke-width="1"/>
<circle cx="517.4" cy="466.3" r="16.8" fill="#8cb2e2" fill-opacity="0.32" stroke="#5a8cc4" stroke-opacity="0.5" stroke-width="1"/>
<circle cx="506.0" cy="497.1" r="14.7" fill="#8cb2e2" fill-opacity="0.32" stroke="#5a8cc4" stroke-opacity="0.5" stroke-width="1"/>
<circle cx="509.6" cy="536.9" r="14.4" fill="#8cb2e2" fill-opacity="0.32" stroke="#5a8cc4" stroke-opacity="0.5" stroke-width="1"/>
<circle cx="512.6" cy="594.2" r="26.7" fill="#6aa6de" fill-opacity="0.42" stroke="#5a8cc4" stroke-opacity="0.5" stroke-width="1"/>
<circle cx="553.1" cy="451.9" r="14.8" fill="#8cb2e2" fill-opacity="0.32" stroke="#5a8cc4" stroke-opacity="0.5" stroke-width="1"/>
<circle cx="571.8" cy="493.4" r="14.7" fill="#8cb2e2" fill-opacity="0.32" stroke="#5a8cc4" stroke-opacity="0.5" stroke-width="1"/>
<circle cx="566.2" cy="530.0" r="15.1" fill="#8cb2e2" fill-opacity="0.32" stroke="#5a8cc4" stroke-opacity="0.5" stroke-width="1"/>
<circle cx="557.4" cy="576.9" r="16.4" fill="#8cb2e2" fill-opacity="0.32" stroke="#5a8cc4" stroke-opacity="0.5" stroke-width="1"/>
<circle cx="565.7" cy="611.8" r="24.6" fill="#6aa6de" fill-opacity="0.42" stroke="#5a8cc4" stroke-opacity="0.5" stroke-width="1"/>
<circle cx="608.0" cy="473.8" r="15.7" fill="#8cb2e2" fill-opacity="0.32" stroke="#5a8cc4" stroke-opacity="0.5" stroke-width="1"/>
<circle cx="604.6" cy="519.2" r="17.6" fill="#8cb2e2" fill-opacity="0.32" stroke="#5a8cc4" stroke-opacity="0.5" stroke-width="1"/>
<circle cx="605.4" cy="558.2" r="16.2" fill="#8cb2e2" fill-opacity="0.32" stroke="#5a8cc4" stroke-opacity="0.5" stroke-width="1"/>
<circle cx="605.5" cy="596.1" r="17.1" fill="#8cb2e2" fill-opacity="0.32" stroke="#5a8cc4" stroke-opacity="0.5" stroke-width="1"/>
<circle cx="608.3" cy="650.2" r="27.9" fill="#6aa6de" fill-opacity="0.42" stroke="#5a8cc4" stroke-opacity="0.5" stroke-width="1"/>
<ellipse cx="123.9" cy="409.9" rx="13.0" ry="9.9" transform="rotate(-19 123.9 409.9)" fill="#4f98e0" fill-opacity="0.5" stroke="#3a78bc" stroke-opacity="0.5" stroke-width="1"/>
<ellipse cx="120.6" cy="406.4" rx="11.6" ry="8.9" transform="rotate(333 120.6 406.4)" fill="#4f98e0" fill-opacity="0.5" stroke="#3a78bc" stroke-opacity="0.5" stroke-width="1"/>
<ellipse cx="135.6" cy="428.1" rx="11.3" ry="8.0" transform="rotate(136 135.6 428.1)" fill="#4f98e0" fill-opacity="0.5" stroke="#3a78bc" stroke-opacity="0.5" stroke-width="1"/>
<ellipse cx="135.4" cy="455.9" rx="10.4" ry="7.9" transform="rotate(39 135.4 455.9)" fill="#4f98e0" fill-opacity="0.5" stroke="#3a78bc" stroke-opacity="0.5" stroke-width="1"/>
<ellipse cx="131.4" cy="473.3" rx="10.5" ry="7.0" transform="rotate(170 131.4 473.3)" fill="#4f98e0" fill-opacity="0.5" stroke="#3a78bc" stroke-opacity="0.5" stroke-width="1"/>
<ellipse cx="117.0" cy="470.1" rx="12.5" ry="7.2" transform="rotate(240 117.0 470.1)" fill="#4f98e0" fill-opacity="0.5" stroke="#3a78bc" stroke-opacity="0.5" stroke-width="1"/>
<ellipse cx="143.3" cy="457.3" rx="11.0" ry="7.6" transform="rotate(428 143.3 457.3)" fill="#4f98e0" fill-opacity="0.5" stroke="#3a78bc" stroke-opacity="0.5" stroke-width="1"/>
<ellipse cx="121.2" cy="454.1" rx="10.8" ry="8.6" transform="rotate(316 121.2 454.1)" fill="#4f98e0" fill-opacity="0.5" stroke="#3a78bc" stroke-opacity="0.5" stroke-width="1"/>
<ellipse cx="120.8" cy="488.2" rx="10.1" ry="7.9" transform="rotate(-31 120.8 488.2)" fill="#4f98e0" fill-opacity="0.5" stroke="#3a78bc" stroke-opacity="0.5" stroke-width="1"/>
<ellipse cx="124.9" cy="487.7" rx="11.9" ry="10.3" transform="rotate(-8 124.9 487.7)" fill="#4f98e0" fill-opacity="0.5" stroke="#3a78bc" stroke-opacity="0.5" stroke-width="1"/>
<ellipse cx="112.7" cy="495.1" rx="11.7" ry="8.7" transform="rotate(-79 112.7 495.1)" fill="#4f98e0" fill-opacity="0.5" stroke="#3a78bc" stroke-opacity="0.5" stroke-width="1"/>
<ellipse cx="117.0" cy="505.2" rx="12.8" ry="10.4" transform="rotate(232 117.0 505.2)" fill="#4f98e0" fill-opacity="0.5" stroke="#3a78bc" stroke-opacity="0.5" stroke-width="1"/>
<ellipse cx="136.0" cy="489.3" rx="11.6" ry="8.2" transform="rotate(49 136.0 489.3)" fill="#4f98e0" fill-opacity="0.5" stroke="#3a78bc" stroke-opacity="0.5" stroke-width="1"/>
<ellipse cx="141.5" cy="542.3" rx="13.5" ry="8.5" transform="rotate(95 141.5 542.3)" fill="#4f98e0" fill-opacity="0.5" stroke="#3a78bc" stroke-opacity="0.5" stroke-width="1"/>
<ellipse cx="115.8" cy="540.3" rx="11.5" ry="8.8" transform="rotate(-86 115.8 540.3)" fill="#4f98e0" fill-opacity="0.5" stroke="#3a78bc" stroke-opacity="0.5" stroke-width="1"/>
<ellipse cx="118.1" cy="533.5" rx="10.2" ry="7.6" transform="rotate(306 118.1 533.5)" fill="#4f98e0" fill-opacity="0.5" stroke="#3a78bc" stroke-opacity="0.5" stroke-width="1"/>
<ellipse cx="123.0" cy="575.8" rx="12.2" ry="7.9" transform="rotate(-13 123.0 575.8)" fill="#4f98e0" fill-opacity="0.5" stroke="#3a78bc" stroke-opacity="0.5" stroke-width="1"/>
<ellipse cx="122.3" cy="600.6" rx="10.0" ry="8.3" transform="rotate(201 122.3 600.6)" fill="#4f98e0" fill-opacity="0.5" stroke="#3a78bc" stroke-opacity="0.5" stroke-width="1"/>
<ellipse cx="130.4" cy="601.5" rx="10.8" ry="8.8" transform="rotate(160 130.4 601.5)" fill="#4f98e0" fill-opacity="0.5" stroke="#3a78bc" stroke-opacity="0.5" stroke-width="1"/>
<ellipse cx="125.9" cy="578.8" rx="10.2" ry="7.1" transform="rotate(-2 125.9 578.8)" fill="#4f98e0" fill-opacity="0.5" stroke="#3a78bc" stroke-opacity="0.5" stroke-width="1"/>
<ellipse cx="180.2" cy="457.8" rx="13.4" ry="7.5" transform="rotate(120 180.2 457.8)" fill="#4f98e0" fill-opacity="0.5" stroke="#3a78bc" stroke-opacity="0.5" stroke-width="1"/>
<ellipse cx="170.2" cy="438.0" rx="13.1" ry="9.5" transform="rotate(372 170.2 438.0)" fill="#4f98e0" fill-opacity="0.5" stroke="#3a78bc" stroke-opacity="0.5" stroke-width="1"/>
<ellipse cx="172.4" cy="440.8" rx="12.5" ry="7.5" transform="rotate(27 172.4 440.8)" fill="#4f98e0" fill-opacity="0.5" stroke="#3a78bc" stroke-opacity="0.5" stroke-width="1"/>
<ellipse cx="164.9" cy="438.5" rx="11.7" ry="9.5" transform="rotate(347 164.9 438.5)" fill="#4f98e0" fill-opacity="0.5" stroke="#3a78bc" stroke-opacity="0.5" stroke-width="1"/>
<ellipse cx="171.1" cy="484.8" rx="13.2" ry="9.9" transform="rotate(-74 171.1 484.8)" fill="#4f98e0" fill-opacity="0.5" stroke="#3a78bc" stroke-opacity="0.5" stroke-width="1"/>
<ellipse cx="181.8" cy="474.6" rx="12.7" ry="9.4" transform="rotate(-11 181.8 474.6)" fill="#4f98e0" fill-opacity="0.5" stroke="#3a78bc" stroke-opacity="0.5" stroke-width="1"/>
<ellipse cx="190.7" cy="479.3" rx="10.4" ry="9.9" transform="rotate(33 190.7 479.3)" fill="#4f98e0" fill-opacity="0.5" stroke="#3a78bc" stroke-opacity="0.5" stroke-width="1"/>
<ellipse cx="186.1" cy="476.0" rx="12.5" ry="9.4" transform="rotate(7 186.1 476.0)" fill="#4f98e0" fill-opacity="0.5" stroke="#3a78bc" stroke-opacity="0.5" stroke-width="1"/>
<ellipse cx="197.0" cy="493.9" rx="12.0" ry="8.9" transform="rotate(113 197.0 493.9)" fill="#4f98e0" fill-opacity="0.5" stroke="#3a78bc" stroke-opacity="0.5" stroke-width="1"/>
<ellipse cx="178.9" cy="517.5" rx="11.9" ry="9.8" transform="rotate(2 178.9 517.5)" fill="#4f98e0" fill-opacity="0.5" stroke="#3a78bc" stroke-opacity="0.5" stroke-width="1"/>
<ellipse cx="179.6" cy="544.5" rx="10.9" ry="9.3" transform="rotate(175 179.6 544.5)" fill="#4f98e0" fill-opacity="0.5" stroke="#3a78bc" stroke-opacity="0.5" stroke-width="1"/>
<ellipse cx="181.9" cy="517.0" rx="11.1" ry="7.2" transform="rotate(14 181.9 517.0)" fill="#4f98e0" fill-opacity="0.5" stroke="#3a78bc" stroke-opacity="0.5" stroke-width="1"/>
<ellipse cx="182.3" cy="542.9" rx="11.3" ry="9.3" transform="rotate(161 182.3 542.9)" fill="#4f98e0" fill-opacity="0.5" stroke="#3a78bc" stroke-opacity="0.5" stroke-width="1"/>
<ellipse cx="171.2" cy="524.2" rx="11.9" ry="8.7" transform="rotate(314 171.2 524.2)" fill="#4f98e0" fill-opacity="0.5" stroke="#3a78bc" stroke-opacity="0.5" stroke-width="1"/>
<ellipse cx="165.4" cy="564.0" rx="12.0" ry="9.5" transform="rotate(-21 165.4 564.0)" fill="#4f98e0" fill-opacity="0.5" stroke="#3a78bc" stroke-opacity="0.5" stroke-width="1"/>
<ellipse cx="154.7" cy="577.5" rx="12.2" ry="8.1" transform="rotate(-105 154.7 577.5)" fill="#4f98e0" fill-opacity="0.5" stroke="#3a78bc" stroke-opacity="0.5" stroke-width="1"/>
<ellipse cx="173.7" cy="562.7" rx="11.2" ry="7.3" transform="rotate(23 173.7 562.7)" fill="#4f98e0" fill-opacity="0.5" stroke="#3a78bc" stroke-opacity="0.5" stroke-width="1"/>
<ellipse cx="165.0" cy="584.1" rx="13.7" ry="10.3" transform="rotate(201 165.0 584.1)" fill="#4f98e0" fill-opacity="0.5" stroke="#3a78bc" stroke-opacity="0.5" stroke-width="1"/>
<ellipse cx="168.0" cy="564.1" rx="13.0" ry="7.9" transform="rotate(-7 168.0 564.1)" fill="#4f98e0" fill-opacity="0.5" stroke="#3a78bc" stroke-opacity="0.5" stroke-width="1"/>
<ellipse cx="190.6" cy="599.5" rx="12.8" ry="7.8" transform="rotate(32 190.6 599.5)" fill="#4f98e0" fill-opacity="0.5" stroke="#3a78bc" stroke-opacity="0.5" stroke-width="1"/>
<ellipse cx="173.9" cy="612.4" rx="10.0" ry="8.7" transform="rotate(265 173.9 612.4)" fill="#4f98e0" fill-opacity="0.5" stroke="#3a78bc" stroke-opacity="0.5" stroke-width="1"/>
<ellipse cx="173.0" cy="607.5" rx="10.6" ry="8.2" transform="rotate(-68 173.0 607.5)" fill="#4f98e0" fill-opacity="0.5" stroke="#3a78bc" stroke-opacity="0.5" stroke-width="1"/>
<ellipse cx="183.5" cy="598.1" rx="13.4" ry="7.4" transform="rotate(2 183.5 598.1)" fill="#4f98e0" fill-opacity="0.5" stroke="#3a78bc" stroke-opacity="0.5" stroke-width="1"/>
<ellipse cx="236.3" cy="469.4" rx="11.5" ry="8.4" transform="rotate(415 236.3 469.4)" fill="#4f98e0" fill-opacity="0.5" stroke="#3a78bc" stroke-opacity="0.5" stroke-width="1"/>
<ellipse cx="218.1" cy="469.7" rx="11.7" ry="8.0" transform="rotate(302 218.1 469.7)" fill="#4f98e0" fill-opacity="0.5" stroke="#3a78bc" stroke-opacity="0.5" stroke-width="1"/>
<ellipse cx="227.1" cy="466.0" rx="13.3" ry="8.0" transform="rotate(-3 227.1 466.0)" fill="#4f98e0" fill-opacity="0.5" stroke="#3a78bc" stroke-opacity="0.5" stroke-width="1"/>
<ellipse cx="224.7" cy="508.6" rx="11.5" ry="10.3" transform="rotate(-7 224.7 508.6)" fill="#4f98e0" fill-opacity="0.5" stroke="#3a78bc" stroke-opacity="0.5" stroke-width="1"/>
<ellipse cx="230.9" cy="506.9" rx="13.7" ry="10.3" transform="rotate(382 230.9 506.9)" fill="#4f98e0" fill-opacity="0.5" stroke="#3a78bc" stroke-opacity="0.5" stroke-width="1"/>
<ellipse cx="238.9" cy="515.3" rx="10.2" ry="9.6" transform="rotate(75 238.9 515.3)" fill="#4f98e0" fill-opacity="0.5" stroke="#3a78bc" stroke-opacity="0.5" stroke-width="1"/>
<ellipse cx="236.0" cy="570.8" rx="11.9" ry="10.2" transform="rotate(140 236.0 570.8)" fill="#4f98e0" fill-opacity="0.5" stroke="#3a78bc" stroke-opacity="0.5" stroke-width="1"/>
<ellipse cx="232.3" cy="550.8" rx="11.0" ry="9.6" transform="rotate(31 232.3 550.8)" fill="#4f98e0" fill-opacity="0.5" stroke="#3a78bc" stroke-opacity="0.5" stroke-width="1"/>
<ellipse cx="218.1" cy="565.7" rx="11.9" ry="9.3" transform="rotate(236 218.1 565.7)" fill="#4f98e0" fill-opacity="0.5" stroke="#3a78bc" stroke-opacity="0.5" stroke-width="1"/>
<ellipse cx="237.6" cy="553.0" rx="10.3" ry="8.8" transform="rotate(57 237.6 553.0)" fill="#4f98e0" fill-opacity="0.5" stroke="#3a78bc" stroke-opacity="0.5" stroke-width="1"/>
<ellipse cx="211.0" cy="592.6" rx="11.7" ry="8.9" transform="rotate(-54 211.0 592.6)" fill="#4f98e0" fill-opacity="0.5" stroke="#3a78bc" stroke-opacity="0.5" stroke-width="1"/>
<ellipse cx="224.9" cy="590.9" rx="12.2" ry="8.1" transform="rotate(17 224.9 590.9)" fill="#4f98e0" fill-opacity="0.5" stroke="#3a78bc" stroke-opacity="0.5" stroke-width="1"/>
<ellipse cx="224.4" cy="591.7" rx="13.5" ry="8.3" transform="rotate(15 224.4 591.7)" fill="#4f98e0" fill-opacity="0.5" stroke="#3a78bc" stroke-opacity="0.5" stroke-width="1"/>
<ellipse cx="224.6" cy="610.8" rx="13.0" ry="8.7" transform="rotate(166 224.6 610.8)" fill="#4f98e0" fill-opacity="0.5" stroke="#3a78bc" stroke-opacity="0.5" stroke-width="1"/>
<ellipse cx="230.5" cy="654.0" rx="12.5" ry="10.0" transform="rotate(135 230.5 654.0)" fill="#4f98e0" fill-opacity="0.5" stroke="#3a78bc" stroke-opacity="0.5" stroke-width="1"/>
<ellipse cx="215.2" cy="637.3" rx="11.0" ry="8.4" transform="rotate(-39 215.2 637.3)" fill="#4f98e0" fill-opacity="0.5" stroke="#3a78bc" stroke-opacity="0.5" stroke-width="1"/>
<ellipse cx="234.6" cy="652.0" rx="10.1" ry="7.1" transform="rotate(117 234.6 652.0)" fill="#4f98e0" fill-opacity="0.5" stroke="#3a78bc" stroke-opacity="0.5" stroke-width="1"/>
<ellipse cx="231.4" cy="638.3" rx="12.3" ry="7.0" transform="rotate(412 231.4 638.3)" fill="#4f98e0" fill-opacity="0.5" stroke="#3a78bc" stroke-opacity="0.5" stroke-width="1"/>
<ellipse cx="213.7" cy="633.6" rx="13.3" ry="10.0" transform="rotate(-35 213.7 633.6)" fill="#4f98e0" fill-opacity="0.5" stroke="#3a78bc" stroke-opacity="0.5" stroke-width="1"/>
<ellipse cx="287.5" cy="440.1" rx="12.7" ry="10.3" transform="rotate(28 287.5 440.1)" fill="#4f98e0" fill-opacity="0.5" stroke="#3a78bc" stroke-opacity="0.5" stroke-width="1"/>
<ellipse cx="273.6" cy="439.9" rx="11.8" ry="8.9" transform="rotate(323 273.6 439.9)" fill="#4f98e0" fill-opacity="0.5" stroke="#3a78bc" stroke-opacity="0.5" stroke-width="1"/>
<ellipse cx="287.2" cy="438.2" rx="10.9" ry="10.2" transform="rotate(23 287.2 438.2)" fill="#4f98e0" fill-opacity="0.5" stroke="#3a78bc" stroke-opacity="0.5" stroke-width="1"/>
<ellipse cx="278.6" cy="460.0" rx="11.0" ry="9.2" transform="rotate(199 278.6 460.0)" fill="#4f98e0" fill-opacity="0.5" stroke="#3a78bc" stroke-opacity="0.5" stroke-width="1"/>
<ellipse cx="277.5" cy="495.0" rx="13.8" ry="7.7" transform="rotate(126 277.5 495.0)" fill="#4f98e0" fill-opacity="0.5" stroke="#3a78bc" stroke-opacity="0.5" stroke-width="1"/>
<ellipse cx="268.9" cy="476.5" rx="14.0" ry="8.0" transform="rotate(1 268.9 476.5)" fill="#4f98e0" fill-opacity="0.5" stroke="#3a78bc" stroke-opacity="0.5" stroke-width="1"/>
<ellipse cx="268.0" cy="474.7" rx="11.0" ry="8.8" transform="rotate(-3 268.0 474.7)" fill="#4f98e0" fill-opacity="0.5" stroke="#3a78bc" stroke-opacity="0.5" stroke-width="1"/>
<ellipse cx="280.3" cy="483.0" rx="10.2" ry="7.7" transform="rotate(64 280.3 483.0)" fill="#4f98e0" fill-opacity="0.5" stroke="#3a78bc" stroke-opacity="0.5" stroke-width="1"/>
<ellipse cx="263.0" cy="481.1" rx="10.9" ry="8.5" transform="rotate(323 263.0 481.1)" fill="#4f98e0" fill-opacity="0.5" stroke="#3a78bc" stroke-opacity="0.5" stroke-width="1"/>
<ellipse cx="276.5" cy="521.1" rx="11.4" ry="8.5" transform="rotate(12 276.5 521.1)" fill="#4f98e0" fill-opacity="0.5" stroke="#3a78bc" stroke-opacity="0.5" stroke-width="1"/>
<ellipse cx="279.0" cy="543.2" rx="13.0" ry="8.8" transform="rotate(161 279.0 543.2)" fill="#4f98e0" fill-opacity="0.5" stroke="#3a78bc" stroke-opacity="0.5" stroke-width="1"/>
<ellipse cx="285.8" cy="521.8" rx="10.9" ry="7.8" transform="rotate(54 285.8 521.8)" fill="#4f98e0" fill-opacity="0.5" stroke="#3a78bc" stroke-opacity="0.5" stroke-width="1"/>
<ellipse cx="270.5" cy="544.2" rx="12.0" ry="7.7" transform="rotate(196 270.5 544.2)" fill="#4f98e0" fill-opacity="0.5" stroke="#3a78bc" stroke-opacity="0.5" stroke-width="1"/>
<ellipse cx="269.3" cy="558.6" rx="10.2" ry="9.1" transform="rotate(-10 269.3 558.6)" fill="#4f98e0" fill-opacity="0.5" stroke="#3a78bc" stroke-opacity="0.5" stroke-width="1"/>
<ellipse cx="280.5" cy="575.9" rx="12.4" ry="8.5" transform="rotate(110 280.5 575.9)" fill="#4f98e0" fill-opacity="0.5" stroke="#3a78bc" stroke-opacity="0.5" stroke-width="1"/>
<ellipse cx="276.6" cy="583.5" rx="12.8" ry="8.1" transform="rotate(156 276.6 583.5)" fill="#4f98e0" fill-opacity="0.5" stroke="#3a78bc" stroke-opacity="0.5" stroke-width="1"/>
<ellipse cx="276.4" cy="610.1" rx="10.7" ry="10.3" transform="rotate(425 276.4 610.1)" fill="#4f98e0" fill-opacity="0.5" stroke="#3a78bc" stroke-opacity="0.5" stroke-width="1"/>
<ellipse cx="279.1" cy="617.3" rx="11.5" ry="8.3" transform="rotate(101 279.1 617.3)" fill="#4f98e0" fill-opacity="0.5" stroke="#3a78bc" stroke-opacity="0.5" stroke-width="1"/>
<ellipse cx="266.8" cy="604.0" rx="11.4" ry="10.3" transform="rotate(2 266.8 604.0)" fill="#4f98e0" fill-opacity="0.5" stroke="#3a78bc" stroke-opacity="0.5" stroke-width="1"/>
<ellipse cx="319.9" cy="406.0" rx="11.5" ry="9.7" transform="rotate(4 319.9 406.0)" fill="#4f98e0" fill-opacity="0.5" stroke="#3a78bc" stroke-opacity="0.5" stroke-width="1"/>
<ellipse cx="321.0" cy="406.4" rx="10.8" ry="8.9" transform="rotate(9 321.0 406.4)" fill="#4f98e0" fill-opacity="0.5" stroke="#3a78bc" stroke-opacity="0.5" stroke-width="1"/>
<ellipse cx="314.2" cy="409.6" rx="12.9" ry="8.7" transform="rotate(-25 314.2 409.6)" fill="#4f98e0" fill-opacity="0.5" stroke="#3a78bc" stroke-opacity="0.5" stroke-width="1"/>
<ellipse cx="327.3" cy="455.9" rx="10.1" ry="7.2" transform="rotate(41 327.3 455.9)" fill="#4f98e0" fill-opacity="0.5" stroke="#3a78bc" stroke-opacity="0.5" stroke-width="1"/>
<ellipse cx="320.7" cy="476.4" rx="13.6" ry="8.2" transform="rotate(183 320.7 476.4)" fill="#4f98e0" fill-opacity="0.5" stroke="#3a78bc" stroke-opacity="0.5" stroke-width="1"/>
<ellipse cx="306.8" cy="465.3" rx="12.5" ry="7.9" transform="rotate(-100 306.8 465.3)" fill="#4f98e0" fill-opacity="0.5" stroke="#3a78bc" stroke-opacity="0.5" stroke-width="1"/>
<ellipse cx="317.0" cy="472.6" rx="10.0" ry="9.6" transform="rotate(204 317.0 472.6)" fill="#4f98e0" fill-opacity="0.5" stroke="#3a78bc" stroke-opacity="0.5" stroke-width="1"/>
<ellipse cx="311.5" cy="452.0" rx="10.1" ry="7.8" transform="rotate(318 311.5 452.0)" fill="#4f98e0" fill-opacity="0.5" stroke="#3a78bc" stroke-opacity="0.5" stroke-width="1"/>
<ellipse cx="304.8" cy="500.6" rx="13.2" ry="10.2" transform="rotate(258 304.8 500.6)" fill="#4f98e0" fill-opacity="0.5" stroke="#3a78bc" stroke-opacity="0.5" stroke-width="1"/>
<ellipse cx="326.2" cy="506.6" rx="10.0" ry="10.3" transform="rotate(138 326.2 506.6)" fill="#4f98e0" fill-opacity="0.5" stroke="#3a78bc" stroke-opacity="0.5" stroke-width="1"/>
<ellipse cx="315.8" cy="487.5" rx="13.4" ry="8.6" transform="rotate(-13 315.8 487.5)" fill="#4f98e0" fill-opacity="0.5" stroke="#3a78bc" stroke-opacity="0.5" stroke-width="1"/>
<ellipse cx="308.1" cy="490.9" rx="11.6" ry="7.6" transform="rotate(304 308.1 490.9)" fill="#4f98e0" fill-opacity="0.5" stroke="#3a78bc" stroke-opacity="0.5" stroke-width="1"/>
<ellipse cx="315.4" cy="533.5" rx="12.2" ry="8.1" transform="rotate(-34 315.4 533.5)" fill="#4f98e0" fill-opacity="0.5" stroke="#3a78bc" stroke-opacity="0.5" stroke-width="1"/>
<ellipse cx="331.6" cy="531.2" rx="11.1" ry="7.3" transform="rotate(408 331.6 531.2)" fill="#4f98e0" fill-opacity="0.5" stroke="#3a78bc" stroke-opacity="0.5" stroke-width="1"/>
<ellipse cx="309.0" cy="543.1" rx="10.9" ry="8.5" transform="rotate(-99 309.0 543.1)" fill="#4f98e0" fill-opacity="0.5" stroke="#3a78bc" stroke-opacity="0.5" stroke-width="1"/>
<ellipse cx="314.3" cy="529.2" rx="13.4" ry="9.3" transform="rotate(333 314.3 529.2)" fill="#4f98e0" fill-opacity="0.5" stroke="#3a78bc" stroke-opacity="0.5" stroke-width="1"/>
<ellipse cx="315.2" cy="600.5" rx="11.1" ry="7.9" transform="rotate(196 315.2 600.5)" fill="#4f98e0" fill-opacity="0.5" stroke="#3a78bc" stroke-opacity="0.5" stroke-width="1"/>
<ellipse cx="318.3" cy="578.6" rx="10.7" ry="7.8" transform="rotate(1 318.3 578.6)" fill="#4f98e0" fill-opacity="0.5" stroke="#3a78bc" stroke-opacity="0.5" stroke-width="1"/>
<ellipse cx="323.4" cy="582.4" rx="11.0" ry="7.9" transform="rotate(34 323.4 582.4)" fill="#4f98e0" fill-opacity="0.5" stroke="#3a78bc" stroke-opacity="0.5" stroke-width="1"/>
<ellipse cx="353.9" cy="437.5" rx="12.6" ry="10.5" transform="rotate(-22 353.9 437.5)" fill="#4f98e0" fill-opacity="0.5" stroke="#3a78bc" stroke-opacity="0.5" stroke-width="1"/>
<ellipse cx="346.5" cy="456.3" rx="13.7" ry="7.1" transform="rotate(-115 346.5 456.3)" fill="#4f98e0" fill-opacity="0.5" stroke="#3a78bc" stroke-opacity="0.5" stroke-width="1"/>
<ellipse cx="362.3" cy="441.1" rx="10.8" ry="10.4" transform="rotate(18 362.3 441.1)" fill="#4f98e0" fill-opacity="0.5" stroke="#3a78bc" stroke-opacity="0.5" stroke-width="1"/>
<ellipse cx="370.8" cy="442.2" rx="11.8" ry="7.9" transform="rotate(55 370.8 442.2)" fill="#4f98e0" fill-opacity="0.5" stroke="#3a78bc" stroke-opacity="0.5" stroke-width="1"/>
<ellipse cx="368.3" cy="447.1" rx="12.4" ry="9.2" transform="rotate(430 368.3 447.1)" fill="#4f98e0" fill-opacity="0.5" stroke="#3a78bc" stroke-opacity="0.5" stroke-width="1"/>
<ellipse cx="371.5" cy="478.8" rx="10.2" ry="10.5" transform="rotate(-26 371.5 478.8)" fill="#4f98e0" fill-opacity="0.5" stroke="#3a78bc" stroke-opacity="0.5" stroke-width="1"/>
<ellipse cx="372.6" cy="475.3" rx="13.3" ry="8.4" transform="rotate(-16 372.6 475.3)" fill="#4f98e0" fill-opacity="0.5" stroke="#3a78bc" stroke-opacity="0.5" stroke-width="1"/>
<ellipse cx="367.9" cy="498.3" rx="10.3" ry="7.1" transform="rotate(-139 367.9 498.3)" fill="#4f98e0" fill-opacity="0.5" stroke="#3a78bc" stroke-opacity="0.5" stroke-width="1"/>
<ellipse cx="375.1" cy="520.9" rx="12.2" ry="9.2" transform="rotate(27 375.1 520.9)" fill="#4f98e0" fill-opacity="0.5" stroke="#3a78bc" stroke-opacity="0.5" stroke-width="1"/>
<ellipse cx="372.0" cy="521.2" rx="12.8" ry="8.4" transform="rotate(11 372.0 521.2)" fill="#4f98e0" fill-opacity="0.5" stroke="#3a78bc" stroke-opacity="0.5" stroke-width="1"/>
<ellipse cx="361.1" cy="524.8" rx="12.3" ry="8.3" transform="rotate(-55 361.1 524.8)" fill="#4f98e0" fill-opacity="0.5" stroke="#3a78bc" stroke-opacity="0.5" stroke-width="1"/>
<ellipse cx="378.0" cy="542.7" rx="14.0" ry="8.3" transform="rotate(146 378.0 542.7)" fill="#4f98e0" fill-opacity="0.5" stroke="#3a78bc" stroke-opacity="0.5" stroke-width="1"/>
<ellipse cx="351.2" cy="580.2" rx="10.6" ry="7.4" transform="rotate(-124 351.2 580.2)" fill="#4f98e0" fill-opacity="0.5" stroke="#3a78bc" stroke-opacity="0.5" stroke-width="1"/>
<ellipse cx="373.2" cy="572.4" rx="11.5" ry="9.7" transform="rotate(85 373.2 572.4)" fill="#4f98e0" fill-opacity="0.5" stroke="#3a78bc" stroke-opacity="0.5" stroke-width="1"/>
<ellipse cx="368.4" cy="562.0" rx="11.6" ry="9.0" transform="rotate(33 368.4 562.0)" fill="#4f98e0" fill-opacity="0.5" stroke="#3a78bc" stroke-opacity="0.5" stroke-width="1"/>
<ellipse cx="379.9" cy="621.4" rx="10.6" ry="7.6" transform="rotate(152 379.9 621.4)" fill="#4f98e0" fill-opacity="0.5" stroke="#3a78bc" stroke-opacity="0.5" stroke-width="1"/>
<ellipse cx="376.9" cy="600.5" rx="13.0" ry="9.8" transform="rotate(11 376.9 600.5)" fill="#4f98e0" fill-opacity="0.5" stroke="#3a78bc" stroke-opacity="0.5" stroke-width="1"/>
<ellipse cx="370.2" cy="624.9" rx="10.2" ry="10.2" transform="rotate(199 370.2 624.9)" fill="#4f98e0" fill-opacity="0.5" stroke="#3a78bc" stroke-opacity="0.5" stroke-width="1"/>
<ellipse cx="365.8" cy="608.3" rx="12.8" ry="9.4" transform="rotate(-70 365.8 608.3)" fill="#4f98e0" fill-opacity="0.5" stroke="#3a78bc" stroke-opacity="0.5" stroke-width="1"/>
<ellipse cx="427.2" cy="465.6" rx="12.5" ry="7.7" transform="rotate(398 427.2 465.6)" fill="#4f98e0" fill-opacity="0.5" stroke="#3a78bc" stroke-opacity="0.5" stroke-width="1"/>
<ellipse cx="409.0" cy="468.7" rx="10.2" ry="10.3" transform="rotate(-56 409.0 468.7)" fill="#4f98e0" fill-opacity="0.5" stroke="#3a78bc" stroke-opacity="0.5" stroke-width="1"/>
<ellipse cx="413.6" cy="461.9" rx="13.3" ry="7.7" transform="rotate(-23 413.6 461.9)" fill="#4f98e0" fill-opacity="0.5" stroke="#3a78bc" stroke-opacity="0.5" stroke-width="1"/>
<ellipse cx="411.6" cy="507.2" rx="11.3" ry="8.4" transform="rotate(332 411.6 507.2)" fill="#4f98e0" fill-opacity="0.5" stroke="#3a78bc" stroke-opacity="0.5" stroke-width="1"/>
<ellipse cx="424.3" cy="506.2" rx="13.1" ry="9.3" transform="rotate(28 424.3 506.2)" fill="#4f98e0" fill-opacity="0.5" stroke="#3a78bc" stroke-opacity="0.5" stroke-width="1"/>
<ellipse cx="417.8" cy="507.5" rx="12.0" ry="7.6" transform="rotate(0 417.8 507.5)" fill="#4f98e0" fill-opacity="0.5" stroke="#3a78bc" stroke-opacity="0.5" stroke-width="1"/>
<ellipse cx="430.9" cy="511.8" rx="11.9" ry="8.6" transform="rotate(63 430.9 511.8)" fill="#4f98e0" fill-opacity="0.5" stroke="#3a78bc" stroke-opacity="0.5" stroke-width="1"/>
<ellipse cx="423.6" cy="506.0" rx="13.2" ry="8.4" transform="rotate(385 423.6 506.0)" fill="#4f98e0" fill-opacity="0.5" stroke="#3a78bc" stroke-opacity="0.5" stroke-width="1"/>
<ellipse cx="413.6" cy="549.3" rx="12.0" ry="7.1" transform="rotate(-25 413.6 549.3)" fill="#4f98e0" fill-opacity="0.5" stroke="#3a78bc" stroke-opacity="0.5" stroke-width="1"/>
<ellipse cx="430.2" cy="566.5" rx="13.1" ry="8.8" transform="rotate(120 430.2 566.5)" fill="#4f98e0" fill-opacity="0.5" stroke="#3a78bc" stroke-opacity="0.5" stroke-width="1"/>
<ellipse cx="420.9" cy="548.1" rx="11.5" ry="10.3" transform="rotate(12 420.9 548.1)" fill="#4f98e0" fill-opacity="0.5" stroke="#3a78bc" stroke-opacity="0.5" stroke-width="1"/>
<ellipse cx="426.6" cy="598.1" rx="10.4" ry="7.5" transform="rotate(80 426.6 598.1)" fill="#4f98e0" fill-opacity="0.5" stroke="#3a78bc" stroke-opacity="0.5" stroke-width="1"/>
<ellipse cx="410.4" cy="614.0" rx="13.2" ry="9.4" transform="rotate(194 410.4 614.0)" fill="#4f98e0" fill-opacity="0.5" stroke="#3a78bc" stroke-opacity="0.5" stroke-width="1"/>
<ellipse cx="416.2" cy="614.3" rx="12.4" ry="7.9" transform="rotate(170 416.2 614.3)" fill="#4f98e0" fill-opacity="0.5" stroke="#3a78bc" stroke-opacity="0.5" stroke-width="1"/>
<ellipse cx="411.5" cy="659.2" rx="10.6" ry="8.8" transform="rotate(189 411.5 659.2)" fill="#4f98e0" fill-opacity="0.5" stroke="#3a78bc" stroke-opacity="0.5" stroke-width="1"/>
<ellipse cx="416.4" cy="655.7" rx="12.0" ry="8.1" transform="rotate(165 416.4 655.7)" fill="#4f98e0" fill-opacity="0.5" stroke="#3a78bc" stroke-opacity="0.5" stroke-width="1"/>
<ellipse cx="419.5" cy="637.3" rx="10.6" ry="10.3" transform="rotate(35 419.5 637.3)" fill="#4f98e0" fill-opacity="0.5" stroke="#3a78bc" stroke-opacity="0.5" stroke-width="1"/>
<ellipse cx="421.6" cy="639.4" rx="13.1" ry="7.4" transform="rotate(412 421.6 639.4)" fill="#4f98e0" fill-opacity="0.5" stroke="#3a78bc" stroke-opacity="0.5" stroke-width="1"/>
<ellipse cx="484.9" cy="453.5" rx="12.1" ry="9.4" transform="rotate(103 484.9 453.5)" fill="#4f98e0" fill-opacity="0.5" stroke="#3a78bc" stroke-opacity="0.5" stroke-width="1"/>
<ellipse cx="473.3" cy="463.0" rx="13.4" ry="9.6" transform="rotate(181 473.3 463.0)" fill="#4f98e0" fill-opacity="0.5" stroke="#3a78bc" stroke-opacity="0.5" stroke-width="1"/>
<ellipse cx="464.6" cy="457.6" rx="11.5" ry="7.5" transform="rotate(-127 464.6 457.6)" fill="#4f98e0" fill-opacity="0.5" stroke="#3a78bc" stroke-opacity="0.5" stroke-width="1"/>
<ellipse cx="481.6" cy="441.0" rx="13.8" ry="8.0" transform="rotate(40 481.6 441.0)" fill="#4f98e0" fill-opacity="0.5" stroke="#3a78bc" stroke-opacity="0.5" stroke-width="1"/>
<ellipse cx="477.6" cy="440.8" rx="13.9" ry="10.0" transform="rotate(22 477.6 440.8)" fill="#4f98e0" fill-opacity="0.5" stroke="#3a78bc" stroke-opacity="0.5" stroke-width="1"/>
<ellipse cx="459.0" cy="475.3" rx="10.9" ry="8.0" transform="rotate(354 459.0 475.3)" fill="#4f98e0" fill-opacity="0.5" stroke="#3a78bc" stroke-opacity="0.5" stroke-width="1"/>
<ellipse cx="450.7" cy="494.2" rx="10.2" ry="8.7" transform="rotate(240 450.7 494.2)" fill="#4f98e0" fill-opacity="0.5" stroke="#3a78bc" stroke-opacity="0.5" stroke-width="1"/>
<ellipse cx="469.3" cy="491.3" rx="12.3" ry="8.1" transform="rotate(106 469.3 491.3)" fill="#4f98e0" fill-opacity="0.5" stroke="#3a78bc" stroke-opacity="0.5" stroke-width="1"/>
<ellipse cx="450.7" cy="483.9" rx="10.5" ry="8.3" transform="rotate(-64 450.7 483.9)" fill="#4f98e0" fill-opacity="0.5" stroke="#3a78bc" stroke-opacity="0.5" stroke-width="1"/>
<ellipse cx="465.3" cy="496.3" rx="13.2" ry="9.5" transform="rotate(147 465.3 496.3)" fill="#4f98e0" fill-opacity="0.5" stroke="#3a78bc" stroke-opacity="0.5" stroke-width="1"/>
<ellipse cx="463.2" cy="517.6" rx="13.5" ry="9.7" transform="rotate(-14 463.2 517.6)" fill="#4f98e0" fill-opacity="0.5" stroke="#3a78bc" stroke-opacity="0.5" stroke-width="1"/>
<ellipse cx="466.1" cy="517.2" rx="12.2" ry="8.2" transform="rotate(-1 466.1 517.2)" fill="#4f98e0" fill-opacity="0.5" stroke="#3a78bc" stroke-opacity="0.5" stroke-width="1"/>
<ellipse cx="452.6" cy="535.2" rx="12.9" ry="7.9" transform="rotate(250 452.6 535.2)" fill="#4f98e0" fill-opacity="0.5" stroke="#3a78bc" stroke-opacity="0.5" stroke-width="1"/>
<ellipse cx="478.0" cy="533.4" rx="11.6" ry="7.8" transform="rotate(106 478.0 533.4)" fill="#4f98e0" fill-opacity="0.5" stroke="#3a78bc" stroke-opacity="0.5" stroke-width="1"/>
<ellipse cx="473.6" cy="580.6" rx="12.6" ry="7.7" transform="rotate(128 473.6 580.6)" fill="#4f98e0" fill-opacity="0.5" stroke="#3a78bc" stroke-opacity="0.5" stroke-width="1"/>
<ellipse cx="465.6" cy="560.9" rx="12.6" ry="9.3" transform="rotate(10 465.6 560.9)" fill="#4f98e0" fill-opacity="0.5" stroke="#3a78bc" stroke-opacity="0.5" stroke-width="1"/>
<ellipse cx="455.7" cy="567.7" rx="12.5" ry="10.5" transform="rotate(-57 455.7 567.7)" fill="#4f98e0" fill-opacity="0.5" stroke="#3a78bc" stroke-opacity="0.5" stroke-width="1"/>
<ellipse cx="456.2" cy="605.9" rx="13.4" ry="9.6" transform="rotate(348 456.2 605.9)" fill="#4f98e0" fill-opacity="0.5" stroke="#3a78bc" stroke-opacity="0.5" stroke-width="1"/>
<ellipse cx="447.9" cy="605.9" rx="11.8" ry="7.8" transform="rotate(-49 447.9 605.9)" fill="#4f98e0" fill-opacity="0.5" stroke="#3a78bc" stroke-opacity="0.5" stroke-width="1"/>
<ellipse cx="458.5" cy="603.7" rx="13.0" ry="9.4" transform="rotate(2 458.5 603.7)" fill="#4f98e0" fill-opacity="0.5" stroke="#3a78bc" stroke-opacity="0.5" stroke-width="1"/>
<ellipse cx="455.6" cy="604.4" rx="12.2" ry="8.5" transform="rotate(346 455.6 604.4)" fill="#4f98e0" fill-opacity="0.5" stroke="#3a78bc" stroke-opacity="0.5" stroke-width="1"/>
<ellipse cx="447.6" cy="613.2" rx="12.6" ry="10.4" transform="rotate(278 447.6 613.2)" fill="#4f98e0" fill-opacity="0.5" stroke="#3a78bc" stroke-opacity="0.5" stroke-width="1"/>
<ellipse cx="514.2" cy="408.0" rx="10.7" ry="10.2" transform="rotate(18 514.2 408.0)" fill="#4f98e0" fill-opacity="0.5" stroke="#3a78bc" stroke-opacity="0.5" stroke-width="1"/>
<ellipse cx="513.5" cy="429.0" rx="13.7" ry="7.7" transform="rotate(163 513.5 429.0)" fill="#4f98e0" fill-opacity="0.5" stroke="#3a78bc" stroke-opacity="0.5" stroke-width="1"/>
<ellipse cx="499.9" cy="410.3" rx="13.7" ry="10.4" transform="rotate(-50 499.9 410.3)" fill="#4f98e0" fill-opacity="0.5" stroke="#3a78bc" stroke-opacity="0.5" stroke-width="1"/>
<ellipse cx="504.6" cy="451.6" rx="12.8" ry="10.0" transform="rotate(-37 504.6 451.6)" fill="#4f98e0" fill-opacity="0.5" stroke="#3a78bc" stroke-opacity="0.5" stroke-width="1"/>
<ellipse cx="510.6" cy="452.3" rx="10.8" ry="9.2" transform="rotate(-13 510.6 452.3)" fill="#4f98e0" fill-opacity="0.5" stroke="#3a78bc" stroke-opacity="0.5" stroke-width="1"/>
<ellipse cx="498.7" cy="460.6" rx="10.6" ry="7.1" transform="rotate(-81 498.7 460.6)" fill="#4f98e0" fill-opacity="0.5" stroke="#3a78bc" stroke-opacity="0.5" stroke-width="1"/>
<ellipse cx="520.8" cy="456.9" rx="10.1" ry="7.1" transform="rotate(52 520.8 456.9)" fill="#4f98e0" fill-opacity="0.5" stroke="#3a78bc" stroke-opacity="0.5" stroke-width="1"/>
<ellipse cx="504.2" cy="453.1" rx="12.9" ry="7.2" transform="rotate(318 504.2 453.1)" fill="#4f98e0" fill-opacity="0.5" stroke="#3a78bc" stroke-opacity="0.5" stroke-width="1"/>
<ellipse cx="514.4" cy="511.7" rx="12.1" ry="9.3" transform="rotate(162 514.4 511.7)" fill="#4f98e0" fill-opacity="0.5" stroke="#3a78bc" stroke-opacity="0.5" stroke-width="1"/>
<ellipse cx="510.3" cy="484.4" rx="11.5" ry="7.9" transform="rotate(362 510.3 484.4)" fill="#4f98e0" fill-opacity="0.5" stroke="#3a78bc" stroke-opacity="0.5" stroke-width="1"/>
<ellipse cx="505.9" cy="489.4" rx="13.8" ry="10.2" transform="rotate(-25 505.9 489.4)" fill="#4f98e0" fill-opacity="0.5" stroke="#3a78bc" stroke-opacity="0.5" stroke-width="1"/>
<ellipse cx="521.3" cy="504.8" rx="12.5" ry="8.7" transform="rotate(121 521.3 504.8)" fill="#4f98e0" fill-opacity="0.5" stroke="#3a78bc" stroke-opacity="0.5" stroke-width="1"/>
<ellipse cx="514.1" cy="487.8" rx="11.3" ry="7.9" transform="rotate(24 514.1 487.8)" fill="#4f98e0" fill-opacity="0.5" stroke="#3a78bc" stroke-opacity="0.5" stroke-width="1"/>
<ellipse cx="501.5" cy="540.8" rx="12.9" ry="8.3" transform="rotate(-88 501.5 540.8)" fill="#4f98e0" fill-opacity="0.5" stroke="#3a78bc" stroke-opacity="0.5" stroke-width="1"/>
<ellipse cx="525.7" cy="537.0" rx="12.5" ry="7.1" transform="rotate(73 525.7 537.0)" fill="#4f98e0" fill-opacity="0.5" stroke="#3a78bc" stroke-opacity="0.5" stroke-width="1"/>
<ellipse cx="508.9" cy="530.1" rx="13.1" ry="8.2" transform="rotate(-17 508.9 530.1)" fill="#4f98e0" fill-opacity="0.5" stroke="#3a78bc" stroke-opacity="0.5" stroke-width="1"/>
<ellipse cx="502.2" cy="538.8" rx="13.4" ry="7.3" transform="rotate(284 502.2 538.8)" fill="#4f98e0" fill-opacity="0.5" stroke="#3a78bc" stroke-opacity="0.5" stroke-width="1"/>
<ellipse cx="518.9" cy="580.2" rx="13.9" ry="7.0" transform="rotate(42 518.9 580.2)" fill="#4f98e0" fill-opacity="0.5" stroke="#3a78bc" stroke-opacity="0.5" stroke-width="1"/>
<ellipse cx="509.9" cy="578.3" rx="13.2" ry="7.6" transform="rotate(0 509.9 578.3)" fill="#4f98e0" fill-opacity="0.5" stroke="#3a78bc" stroke-opacity="0.5" stroke-width="1"/>
<ellipse cx="500.0" cy="586.3" rx="13.8" ry="8.0" transform="rotate(-68 500.0 586.3)" fill="#4f98e0" fill-opacity="0.5" stroke="#3a78bc" stroke-opacity="0.5" stroke-width="1"/>
<ellipse cx="522.9" cy="591.9" rx="12.0" ry="7.4" transform="rotate(98 522.9 591.9)" fill="#4f98e0" fill-opacity="0.5" stroke="#3a78bc" stroke-opacity="0.5" stroke-width="1"/>
<ellipse cx="536.0" cy="451.2" rx="12.2" ry="7.4" transform="rotate(267 536.0 451.2)" fill="#4f98e0" fill-opacity="0.5" stroke="#3a78bc" stroke-opacity="0.5" stroke-width="1"/>
<ellipse cx="563.4" cy="457.4" rx="13.0" ry="8.5" transform="rotate(120 563.4 457.4)" fill="#4f98e0" fill-opacity="0.5" stroke="#3a78bc" stroke-opacity="0.5" stroke-width="1"/>
<ellipse cx="543.4" cy="458.1" rx="11.7" ry="8.9" transform="rotate(224 543.4 458.1)" fill="#4f98e0" fill-opacity="0.5" stroke="#3a78bc" stroke-opacity="0.5" stroke-width="1"/>
<ellipse cx="565.6" cy="448.1" rx="12.5" ry="10.3" transform="rotate(81 565.6 448.1)" fill="#4f98e0" fill-opacity="0.5" stroke="#3a78bc" stroke-opacity="0.5" stroke-width="1"/>
<ellipse cx="538.5" cy="448.1" rx="10.1" ry="9.0" transform="rotate(-80 538.5 448.1)" fill="#4f98e0" fill-opacity="0.5" stroke="#3a78bc" stroke-opacity="0.5" stroke-width="1"/>
<ellipse cx="556.7" cy="480.4" rx="12.6" ry="9.6" transform="rotate(-54 556.7 480.4)" fill="#4f98e0" fill-opacity="0.5" stroke="#3a78bc" stroke-opacity="0.5" stroke-width="1"/>
<ellipse cx="555.7" cy="491.0" rx="10.5" ry="8.6" transform="rotate(-101 555.7 491.0)" fill="#4f98e0" fill-opacity="0.5" stroke="#3a78bc" stroke-opacity="0.5" stroke-width="1"/>
<ellipse cx="568.8" cy="498.8" rx="11.2" ry="9.5" transform="rotate(176 568.8 498.8)" fill="#4f98e0" fill-opacity="0.5" stroke="#3a78bc" stroke-opacity="0.5" stroke-width="1"/>
<ellipse cx="573.6" cy="496.9" rx="11.0" ry="8.1" transform="rotate(146 573.6 496.9)" fill="#4f98e0" fill-opacity="0.5" stroke="#3a78bc" stroke-opacity="0.5" stroke-width="1"/>
<ellipse cx="574.5" cy="481.1" rx="11.3" ry="7.7" transform="rotate(41 574.5 481.1)" fill="#4f98e0" fill-opacity="0.5" stroke="#3a78bc" stroke-opacity="0.5" stroke-width="1"/>
<ellipse cx="568.3" cy="542.1" rx="10.8" ry="7.5" transform="rotate(149 568.3 542.1)" fill="#4f98e0" fill-opacity="0.5" stroke="#3a78bc" stroke-opacity="0.5" stroke-width="1"/>
<ellipse cx="558.6" cy="520.8" rx="10.4" ry="10.2" transform="rotate(-17 558.6 520.8)" fill="#4f98e0" fill-opacity="0.5" stroke="#3a78bc" stroke-opacity="0.5" stroke-width="1"/>
<ellipse cx="572.7" cy="521.8" rx="11.9" ry="7.0" transform="rotate(50 572.7 521.8)" fill="#4f98e0" fill-opacity="0.5" stroke="#3a78bc" stroke-opacity="0.5" stroke-width="1"/>
<ellipse cx="552.2" cy="535.0" rx="13.9" ry="8.0" transform="rotate(247 552.2 535.0)" fill="#4f98e0" fill-opacity="0.5" stroke="#3a78bc" stroke-opacity="0.5" stroke-width="1"/>
<ellipse cx="561.0" cy="522.0" rx="11.0" ry="10.0" transform="rotate(-5 561.0 522.0)" fill="#4f98e0" fill-opacity="0.5" stroke="#3a78bc" stroke-opacity="0.5" stroke-width="1"/>
<ellipse cx="565.6" cy="576.7" rx="11.7" ry="7.8" transform="rotate(103 565.6 576.7)" fill="#4f98e0" fill-opacity="0.5" stroke="#3a78bc" stroke-opacity="0.5" stroke-width="1"/>
<ellipse cx="562.5" cy="564.3" rx="12.8" ry="10.0" transform="rotate(407 562.5 564.3)" fill="#4f98e0" fill-opacity="0.5" stroke="#3a78bc" stroke-opacity="0.5" stroke-width="1"/>
<ellipse cx="545.1" cy="564.5" rx="11.3" ry="9.2" transform="rotate(321 545.1 564.5)" fill="#4f98e0" fill-opacity="0.5" stroke="#3a78bc" stroke-opacity="0.5" stroke-width="1"/>
<ellipse cx="539.3" cy="575.1" rx="12.5" ry="7.9" transform="rotate(-96 539.3 575.1)" fill="#4f98e0" fill-opacity="0.5" stroke="#3a78bc" stroke-opacity="0.5" stroke-width="1"/>
<ellipse cx="561.9" cy="566.6" rx="12.5" ry="8.4" transform="rotate(53 561.9 566.6)" fill="#4f98e0" fill-opacity="0.5" stroke="#3a78bc" stroke-opacity="0.5" stroke-width="1"/>
<ellipse cx="576.4" cy="601.3" rx="11.3" ry="7.0" transform="rotate(404 576.4 601.3)" fill="#4f98e0" fill-opacity="0.5" stroke="#3a78bc" stroke-opacity="0.5" stroke-width="1"/>
<ellipse cx="574.5" cy="606.3" rx="11.0" ry="7.8" transform="rotate(417 574.5 606.3)" fill="#4f98e0" fill-opacity="0.5" stroke="#3a78bc" stroke-opacity="0.5" stroke-width="1"/>
<ellipse cx="576.1" cy="608.5" rx="11.4" ry="10.0" transform="rotate(432 576.1 608.5)" fill="#4f98e0" fill-opacity="0.5" stroke="#3a78bc" stroke-opacity="0.5" stroke-width="1"/>
<ellipse cx="569.5" cy="603.1" rx="13.2" ry="8.3" transform="rotate(20 569.5 603.1)" fill="#4f98e0" fill-opacity="0.5" stroke="#3a78bc" stroke-opacity="0.5" stroke-width="1"/>
<ellipse cx="578.9" cy="606.7" rx="11.8" ry="10.5" transform="rotate(69 578.9 606.7)" fill="#4f98e0" fill-opacity="0.5" stroke="#3a78bc" stroke-opacity="0.5" stroke-width="1"/>
<ellipse cx="611.7" cy="460.7" rx="11.4" ry="7.2" transform="rotate(3 611.7 460.7)" fill="#4f98e0" fill-opacity="0.5" stroke="#3a78bc" stroke-opacity="0.5" stroke-width="1"/>
<ellipse cx="604.9" cy="465.9" rx="10.1" ry="8.5" transform="rotate(-32 604.9 465.9)" fill="#4f98e0" fill-opacity="0.5" stroke="#3a78bc" stroke-opacity="0.5" stroke-width="1"/>
<ellipse cx="607.6" cy="465.6" rx="10.9" ry="9.6" transform="rotate(-19 607.6 465.6)" fill="#4f98e0" fill-opacity="0.5" stroke="#3a78bc" stroke-opacity="0.5" stroke-width="1"/>
<ellipse cx="624.2" cy="518.2" rx="11.8" ry="7.6" transform="rotate(448 624.2 518.2)" fill="#4f98e0" fill-opacity="0.5" stroke="#3a78bc" stroke-opacity="0.5" stroke-width="1"/>
<ellipse cx="621.9" cy="524.5" rx="10.8" ry="9.2" transform="rotate(115 621.9 524.5)" fill="#4f98e0" fill-opacity="0.5" stroke="#3a78bc" stroke-opacity="0.5" stroke-width="1"/>
<ellipse cx="613.3" cy="509.6" rx="12.7" ry="9.9" transform="rotate(383 613.3 509.6)" fill="#4f98e0" fill-opacity="0.5" stroke="#3a78bc" stroke-opacity="0.5" stroke-width="1"/>
<ellipse cx="596.6" cy="526.5" rx="13.0" ry="9.3" transform="rotate(239 596.6 526.5)" fill="#4f98e0" fill-opacity="0.5" stroke="#3a78bc" stroke-opacity="0.5" stroke-width="1"/>
<ellipse cx="596.0" cy="521.3" rx="10.9" ry="9.5" transform="rotate(259 596.0 521.3)" fill="#4f98e0" fill-opacity="0.5" stroke="#3a78bc" stroke-opacity="0.5" stroke-width="1"/>
<ellipse cx="600.7" cy="553.4" rx="10.7" ry="7.0" transform="rotate(-56 600.7 553.4)" fill="#4f98e0" fill-opacity="0.5" stroke="#3a78bc" stroke-opacity="0.5" stroke-width="1"/>
<ellipse cx="608.2" cy="570.2" rx="11.2" ry="8.7" transform="rotate(191 608.2 570.2)" fill="#4f98e0" fill-opacity="0.5" stroke="#3a78bc" stroke-opacity="0.5" stroke-width="1"/>
<ellipse cx="600.5" cy="554.3" rx="13.7" ry="10.0" transform="rotate(-60 600.5 554.3)" fill="#4f98e0" fill-opacity="0.5" stroke="#3a78bc" stroke-opacity="0.5" stroke-width="1"/>
<ellipse cx="597.1" cy="555.2" rx="13.6" ry="9.7" transform="rotate(-70 597.1 555.2)" fill="#4f98e0" fill-opacity="0.5" stroke="#3a78bc" stroke-opacity="0.5" stroke-width="1"/>
<ellipse cx="616.5" cy="553.3" rx="10.0" ry="10.3" transform="rotate(44 616.5 553.3)" fill="#4f98e0" fill-opacity="0.5" stroke="#3a78bc" stroke-opacity="0.5" stroke-width="1"/>
<ellipse cx="593.0" cy="597.8" rx="12.3" ry="10.0" transform="rotate(-78 593.0 597.8)" fill="#4f98e0" fill-opacity="0.5" stroke="#3a78bc" stroke-opacity="0.5" stroke-width="1"/>
<ellipse cx="595.5" cy="603.2" rx="11.6" ry="8.9" transform="rotate(-105 595.5 603.2)" fill="#4f98e0" fill-opacity="0.5" stroke="#3a78bc" stroke-opacity="0.5" stroke-width="1"/>
<ellipse cx="599.8" cy="586.7" rx="10.4" ry="10.2" transform="rotate(338 599.8 586.7)" fill="#4f98e0" fill-opacity="0.5" stroke="#3a78bc" stroke-opacity="0.5" stroke-width="1"/>
<ellipse cx="612.4" cy="589.7" rx="11.2" ry="8.7" transform="rotate(33 612.4 589.7)" fill="#4f98e0" fill-opacity="0.5" stroke="#3a78bc" stroke-opacity="0.5" stroke-width="1"/>
<ellipse cx="617.9" cy="604.1" rx="10.5" ry="7.4" transform="rotate(106 617.9 604.1)" fill="#4f98e0" fill-opacity="0.5" stroke="#3a78bc" stroke-opacity="0.5" stroke-width="1"/>
<ellipse cx="613.7" cy="640.2" rx="12.0" ry="7.2" transform="rotate(57 613.7 640.2)" fill="#4f98e0" fill-opacity="0.5" stroke="#3a78bc" stroke-opacity="0.5" stroke-width="1"/>
<ellipse cx="613.9" cy="637.0" rx="12.2" ry="10.0" transform="rotate(45 613.9 637.0)" fill="#4f98e0" fill-opacity="0.5" stroke="#3a78bc" stroke-opacity="0.5" stroke-width="1"/>
<ellipse cx="617.3" cy="638.0" rx="11.9" ry="9.0" transform="rotate(58 617.3 638.0)" fill="#4f98e0" fill-opacity="0.5" stroke="#3a78bc" stroke-opacity="0.5" stroke-width="1"/>
<ellipse cx="611.5" cy="636.0" rx="11.7" ry="10.4" transform="rotate(393 611.5 636.0)" fill="#4f98e0" fill-opacity="0.5" stroke="#3a78bc" stroke-opacity="0.5" stroke-width="1"/>
<ellipse cx="124.5" cy="464.5" rx="23.8" ry="14.1" transform="rotate(9 124.5 464.5)" fill="#f1dfe2" fill-opacity="0.72" stroke="#b89ca4" stroke-opacity="0.5" stroke-width="1.1"/>
<ellipse cx="128.6" cy="502.9" rx="22.0" ry="18.9" transform="rotate(1 128.6 502.9)" fill="#f1dfe2" fill-opacity="0.72" stroke="#b89ca4" stroke-opacity="0.5" stroke-width="1.1"/>
<ellipse cx="128.6" cy="546.0" rx="20.2" ry="17.6" transform="rotate(10 128.6 546.0)" fill="#f1dfe2" fill-opacity="0.72" stroke="#b89ca4" stroke-opacity="0.5" stroke-width="1.1"/>
<ellipse cx="279.9" cy="455.1" rx="22.2" ry="16.4" transform="rotate(2 279.9 455.1)" fill="#f1dfe2" fill-opacity="0.72" stroke="#b89ca4" stroke-opacity="0.5" stroke-width="1.1"/>
<ellipse cx="324.5" cy="459.4" rx="22.6" ry="16.1" transform="rotate(4 324.5 459.4)" fill="#f1dfe2" fill-opacity="0.72" stroke="#b89ca4" stroke-opacity="0.5" stroke-width="1.1"/>
<ellipse cx="322.0" cy="495.2" rx="25.0" ry="16.0" transform="rotate(0 322.0 495.2)" fill="#f1dfe2" fill-opacity="0.72" stroke="#b89ca4" stroke-opacity="0.5" stroke-width="1.1"/>
<ellipse cx="317.8" cy="541.3" rx="25.8" ry="17.3" transform="rotate(23 317.8 541.3)" fill="#f1dfe2" fill-opacity="0.72" stroke="#b89ca4" stroke-opacity="0.5" stroke-width="1.1"/>
<ellipse cx="471.5" cy="448.6" rx="21.8" ry="16.9" transform="rotate(11 471.5 448.6)" fill="#f1dfe2" fill-opacity="0.72" stroke="#b89ca4" stroke-opacity="0.5" stroke-width="1.1"/>
<ellipse cx="516.4" cy="457.4" rx="24.3" ry="18.4" transform="rotate(4 516.4 457.4)" fill="#f1dfe2" fill-opacity="0.72" stroke="#b89ca4" stroke-opacity="0.5" stroke-width="1.1"/>
<ellipse cx="504.4" cy="495.3" rx="20.0" ry="14.9" transform="rotate(34 504.4 495.3)" fill="#f1dfe2" fill-opacity="0.72" stroke="#b89ca4" stroke-opacity="0.5" stroke-width="1.1"/>
<ellipse cx="513.5" cy="543.1" rx="24.7" ry="18.5" transform="rotate(9 513.5 543.1)" fill="#f1dfe2" fill-opacity="0.72" stroke="#b89ca4" stroke-opacity="0.5" stroke-width="1.1"/>
<circle cx="167.5" cy="450.3" r="10" fill="url(#atP)"/>
<circle cx="184.6" cy="488.7" r="10" fill="url(#atG)"/>
<circle cx="178.3" cy="531.0" r="10" fill="url(#atP)"/>
<circle cx="183.0" cy="611.6" r="10" fill="url(#atC)"/>
<circle cx="227.6" cy="475.6" r="10" fill="url(#atC)"/>
<circle cx="226.0" cy="518.7" r="10" fill="url(#atR)"/>
<circle cx="226.8" cy="559.9" r="10" fill="url(#atG)"/>
<circle cx="222.0" cy="600.5" r="10" fill="url(#atR)"/>
<circle cx="268.7" cy="488.7" r="10" fill="url(#atG)"/>
<circle cx="274.6" cy="530.1" r="10" fill="url(#atP)"/>
<circle cx="271.9" cy="572.8" r="10" fill="url(#atC)"/>
<circle cx="359.2" cy="450.3" r="10" fill="url(#atP)"/>
<circle cx="376.3" cy="488.7" r="10" fill="url(#atG)"/>
<circle cx="370.0" cy="531.0" r="10" fill="url(#atP)"/>
<circle cx="374.7" cy="611.6" r="10" fill="url(#atC)"/>
<circle cx="419.3" cy="475.6" r="10" fill="url(#atC)"/>
<circle cx="417.7" cy="518.7" r="10" fill="url(#atR)"/>
<circle cx="418.5" cy="559.9" r="10" fill="url(#atG)"/>
<circle cx="413.7" cy="600.5" r="10" fill="url(#atR)"/>
<circle cx="460.4" cy="488.7" r="10" fill="url(#atG)"/>
<circle cx="466.3" cy="530.1" r="10" fill="url(#atP)"/>
<circle cx="463.6" cy="572.8" r="10" fill="url(#atC)"/>
<circle cx="550.9" cy="450.3" r="10" fill="url(#atP)"/>
<circle cx="568.0" cy="488.7" r="10" fill="url(#atG)"/>
<circle cx="561.7" cy="531.0" r="10" fill="url(#atP)"/>
<circle cx="566.4" cy="611.6" r="10" fill="url(#atC)"/>
<circle cx="611.0" cy="475.6" r="10" fill="url(#atC)"/>
<circle cx="609.4" cy="518.7" r="10" fill="url(#atR)"/>
<circle cx="610.2" cy="559.9" r="10" fill="url(#atG)"/>
<circle cx="605.4" cy="600.5" r="10" fill="url(#atR)"/>
</g>
<text x="265.4" y="41.6" font-size="27" fill="#e8231c" text-anchor="start" font-weight="bold" >4H-IrPtNiFeCo</text>
<text transform="translate(65.3,36.6) scale(0.88,1)" font-size="50" fill="#000" font-weight="bold">a</text>
<clipPath id="clipb1"><rect x="832.6" y="60" width="500" height="280"/></clipPath>
<clipPath id="clipb2"><rect x="834.6" y="385" width="486.7" height="287"/></clipPath>
<g clip-path="url(#clipb1)">
<circle cx="841.7" cy="83.1" r="9.8" fill="url(#bkC)"/>
<circle cx="847.9" cy="82.1" r="9.8" fill="url(#atO)"/>
<circle cx="842.4" cy="133.5" r="9.8" fill="url(#atG)"/>
<circle cx="844.2" cy="184.6" r="9.8" fill="url(#bkP)"/>
<circle cx="841.6" cy="184.1" r="9.8" fill="url(#atO)"/>
<circle cx="841.6" cy="236.2" r="9.8" fill="url(#atR)"/>
<circle cx="840.8" cy="288.4" r="9.8" fill="url(#atC)"/>
<circle cx="883.5" cy="105.2" r="9.8" fill="url(#bkP)"/>
<circle cx="883.5" cy="101.1" r="9.8" fill="url(#atO)"/>
<circle cx="885.8" cy="154.8" r="9.8" fill="url(#bkG)"/>
<circle cx="882.7" cy="154.8" r="9.8" fill="url(#atC)"/>
<circle cx="880.4" cy="208.0" r="9.8" fill="url(#bkO)"/>
<circle cx="886.6" cy="207.0" r="9.8" fill="url(#atR)"/>
<circle cx="879.8" cy="257.1" r="9.8" fill="url(#bkG)"/>
<circle cx="880.3" cy="260.7" r="9.8" fill="url(#atO)"/>
<circle cx="880.7" cy="307.4" r="9.8" fill="url(#bkR)"/>
<circle cx="882.7" cy="307.9" r="9.8" fill="url(#bkC)"/>
<circle cx="884.3" cy="310.5" r="9.8" fill="url(#atP)"/>
<circle cx="918.4" cy="84.7" r="9.8" fill="url(#bkR)"/>
<circle cx="927.7" cy="85.8" r="9.8" fill="url(#bkC)"/>
<circle cx="924.6" cy="83.7" r="9.8" fill="url(#atP)"/>
<circle cx="929.5" cy="133.7" r="9.8" fill="url(#bkG)"/>
<circle cx="927.9" cy="133.2" r="9.8" fill="url(#bkC)"/>
<circle cx="923.8" cy="132.7" r="9.8" fill="url(#atP)"/>
<circle cx="925.2" cy="181.0" r="9.8" fill="url(#bkR)"/>
<circle cx="926.2" cy="184.1" r="9.8" fill="url(#atG)"/>
<circle cx="921.3" cy="235.7" r="9.8" fill="url(#bkC)"/>
<circle cx="925.4" cy="233.1" r="9.8" fill="url(#atP)"/>
<circle cx="921.9" cy="289.5" r="9.8" fill="url(#bkR)"/>
<circle cx="927.0" cy="290.0" r="9.8" fill="url(#atO)"/>
<circle cx="969.2" cy="98.8" r="9.8" fill="url(#bkO)"/>
<circle cx="968.2" cy="104.5" r="9.8" fill="url(#bkR)"/>
<circle cx="964.1" cy="101.9" r="9.8" fill="url(#atO)"/>
<circle cx="968.0" cy="155.5" r="9.8" fill="url(#bkC)"/>
<circle cx="964.9" cy="159.6" r="9.8" fill="url(#atR)"/>
<circle cx="969.8" cy="205.8" r="9.8" fill="url(#bkG)"/>
<circle cx="967.2" cy="209.4" r="9.8" fill="url(#atP)"/>
<circle cx="967.2" cy="259.7" r="9.8" fill="url(#bkC)"/>
<circle cx="966.9" cy="259.4" r="9.8" fill="url(#bkO)"/>
<circle cx="963.3" cy="258.4" r="9.8" fill="url(#atP)"/>
<circle cx="966.0" cy="311.7" r="9.8" fill="url(#bkR)"/>
<circle cx="971.1" cy="308.7" r="9.8" fill="url(#bkG)"/>
<circle cx="966.5" cy="306.6" r="9.8" fill="url(#atC)"/>
<circle cx="1014.8" cy="82.3" r="9.8" fill="url(#bkG)"/>
<circle cx="1009.7" cy="83.9" r="9.8" fill="url(#bkP)"/>
<circle cx="1010.7" cy="78.2" r="9.8" fill="url(#atO)"/>
<circle cx="1009.4" cy="135.2" r="9.8" fill="url(#bkR)"/>
<circle cx="1010.9" cy="133.2" r="9.8" fill="url(#bkG)"/>
<circle cx="1006.8" cy="131.1" r="9.8" fill="url(#atC)"/>
<circle cx="1013.8" cy="185.4" r="9.8" fill="url(#bkO)"/>
<circle cx="1010.7" cy="183.3" r="9.8" fill="url(#atC)"/>
<circle cx="1006.0" cy="234.0" r="9.8" fill="url(#bkO)"/>
<circle cx="1007.6" cy="238.6" r="9.8" fill="url(#atG)"/>
<circle cx="1010.1" cy="291.7" r="9.8" fill="url(#bkO)"/>
<circle cx="1006.0" cy="287.6" r="9.8" fill="url(#atP)"/>
<circle cx="1051.6" cy="98.6" r="9.8" fill="url(#bkG)"/>
<circle cx="1048.5" cy="104.8" r="9.8" fill="url(#bkR)"/>
<circle cx="1052.6" cy="102.7" r="9.8" fill="url(#atO)"/>
<circle cx="1048.0" cy="153.8" r="9.8" fill="url(#bkR)"/>
<circle cx="1052.6" cy="154.8" r="9.8" fill="url(#atC)"/>
<circle cx="1051.3" cy="211.3" r="9.8" fill="url(#bkO)"/>
<circle cx="1051.8" cy="206.2" r="9.8" fill="url(#atP)"/>
<circle cx="1054.1" cy="255.0" r="9.8" fill="url(#bkP)"/>
<circle cx="1050.0" cy="263.8" r="9.8" fill="url(#bkR)"/>
<circle cx="1051.0" cy="257.6" r="9.8" fill="url(#atR)"/>
<circle cx="1045.8" cy="302.5" r="9.8" fill="url(#bkG)"/>
<circle cx="1050.4" cy="311.7" r="9.8" fill="url(#bkC)"/>
<circle cx="1049.4" cy="306.6" r="9.8" fill="url(#atP)"/>
<circle cx="1099.9" cy="82.4" r="9.8" fill="url(#bkO)"/>
<circle cx="1093.7" cy="82.9" r="9.8" fill="url(#atR)"/>
<circle cx="1091.7" cy="127.8" r="9.8" fill="url(#bkP)"/>
<circle cx="1088.8" cy="134.0" r="9.8" fill="url(#bkR)"/>
<circle cx="1095.3" cy="133.5" r="9.8" fill="url(#atG)"/>
<circle cx="1095.7" cy="184.4" r="9.8" fill="url(#bkR)"/>
<circle cx="1093.7" cy="184.1" r="9.8" fill="url(#atO)"/>
<circle cx="1096.5" cy="235.7" r="9.8" fill="url(#bkR)"/>
<circle cx="1092.9" cy="236.2" r="9.8" fill="url(#atG)"/>
<circle cx="1097.2" cy="285.5" r="9.8" fill="url(#bkC)"/>
<circle cx="1093.1" cy="292.7" r="9.8" fill="url(#bkO)"/>
<circle cx="1092.1" cy="287.6" r="9.8" fill="url(#atG)"/>
<circle cx="1136.4" cy="105.2" r="9.8" fill="url(#bkP)"/>
<circle cx="1136.4" cy="101.1" r="9.8" fill="url(#atO)"/>
<circle cx="1138.7" cy="154.8" r="9.8" fill="url(#bkG)"/>
<circle cx="1135.6" cy="154.8" r="9.8" fill="url(#atC)"/>
<circle cx="1133.3" cy="208.0" r="9.8" fill="url(#bkO)"/>
<circle cx="1139.5" cy="207.0" r="9.8" fill="url(#atR)"/>
<circle cx="1132.7" cy="257.1" r="9.8" fill="url(#bkG)"/>
<circle cx="1133.9" cy="256.8" r="9.8" fill="url(#bkC)"/>
<circle cx="1133.2" cy="260.7" r="9.8" fill="url(#atO)"/>
<circle cx="1133.6" cy="307.4" r="9.8" fill="url(#bkR)"/>
<circle cx="1135.6" cy="307.9" r="9.8" fill="url(#bkC)"/>
<circle cx="1137.2" cy="310.5" r="9.8" fill="url(#atP)"/>
<circle cx="1171.3" cy="84.7" r="9.8" fill="url(#bkR)"/>
<circle cx="1180.6" cy="85.8" r="9.8" fill="url(#bkC)"/>
<circle cx="1177.5" cy="83.7" r="9.8" fill="url(#atP)"/>
<circle cx="1182.4" cy="133.7" r="9.8" fill="url(#bkG)"/>
<circle cx="1180.8" cy="133.2" r="9.8" fill="url(#bkC)"/>
<circle cx="1176.7" cy="132.7" r="9.8" fill="url(#atP)"/>
<circle cx="1178.1" cy="181.0" r="9.8" fill="url(#bkR)"/>
<circle cx="1179.1" cy="184.1" r="9.8" fill="url(#atG)"/>
<circle cx="1175.0" cy="235.7" r="9.8" fill="url(#bkC)"/>
<circle cx="1179.1" cy="233.1" r="9.8" fill="url(#atP)"/>
<circle cx="1175.5" cy="289.5" r="9.8" fill="url(#bkR)"/>
<circle cx="1180.6" cy="290.0" r="9.8" fill="url(#atO)"/>
<circle cx="1222.9" cy="98.8" r="9.8" fill="url(#bkO)"/>
<circle cx="1221.9" cy="104.5" r="9.8" fill="url(#bkR)"/>
<circle cx="1217.8" cy="101.9" r="9.8" fill="url(#atO)"/>
<circle cx="1221.7" cy="155.5" r="9.8" fill="url(#bkC)"/>
<circle cx="1218.6" cy="159.6" r="9.8" fill="url(#atR)"/>
<circle cx="1218.9" cy="210.1" r="9.8" fill="url(#bkP)"/>
<circle cx="1222.5" cy="207.0" r="9.8" fill="url(#atG)"/>
<circle cx="1220.1" cy="259.7" r="9.8" fill="url(#bkC)"/>
<circle cx="1219.8" cy="259.4" r="9.8" fill="url(#bkO)"/>
<circle cx="1216.2" cy="258.4" r="9.8" fill="url(#atP)"/>
<circle cx="1218.9" cy="313.3" r="9.8" fill="url(#bkR)"/>
<circle cx="1224.0" cy="310.3" r="9.8" fill="url(#bkG)"/>
<circle cx="1219.4" cy="308.2" r="9.8" fill="url(#atC)"/>
<circle cx="1268.5" cy="82.3" r="9.8" fill="url(#bkG)"/>
<circle cx="1263.4" cy="83.9" r="9.8" fill="url(#bkP)"/>
<circle cx="1264.4" cy="78.2" r="9.8" fill="url(#atO)"/>
<circle cx="1262.3" cy="135.2" r="9.8" fill="url(#bkR)"/>
<circle cx="1263.8" cy="133.2" r="9.8" fill="url(#bkG)"/>
<circle cx="1259.7" cy="131.1" r="9.8" fill="url(#atC)"/>
<circle cx="1267.5" cy="185.4" r="9.8" fill="url(#bkO)"/>
<circle cx="1264.4" cy="183.3" r="9.8" fill="url(#atC)"/>
<circle cx="1258.9" cy="234.0" r="9.8" fill="url(#bkO)"/>
<circle cx="1260.5" cy="238.6" r="9.8" fill="url(#atP)"/>
<circle cx="1263.0" cy="291.7" r="9.8" fill="url(#bkO)"/>
<circle cx="1258.9" cy="287.6" r="9.8" fill="url(#atP)"/>
<circle cx="1305.3" cy="98.6" r="9.8" fill="url(#bkG)"/>
<circle cx="1302.2" cy="104.8" r="9.8" fill="url(#bkR)"/>
<circle cx="1306.3" cy="102.7" r="9.8" fill="url(#atO)"/>
<circle cx="1301.7" cy="153.8" r="9.8" fill="url(#bkR)"/>
<circle cx="1306.3" cy="154.8" r="9.8" fill="url(#atC)"/>
<circle cx="1305.0" cy="211.3" r="9.8" fill="url(#bkO)"/>
<circle cx="1305.5" cy="206.2" r="9.8" fill="url(#atP)"/>
<circle cx="1307.8" cy="255.0" r="9.8" fill="url(#bkP)"/>
<circle cx="1303.7" cy="263.8" r="9.8" fill="url(#bkR)"/>
<circle cx="1304.7" cy="257.6" r="9.8" fill="url(#atR)"/>
<circle cx="1298.7" cy="302.5" r="9.8" fill="url(#bkG)"/>
<circle cx="1303.3" cy="311.7" r="9.8" fill="url(#bkC)"/>
<circle cx="1302.3" cy="306.6" r="9.8" fill="url(#atP)"/>
</g>
<g clip-path="url(#clipb2)">
<circle cx="1087.7" cy="426.4" r="10" fill="url(#atR)"/>
<circle cx="842.4" cy="429.0" r="27.3" fill="#efe3e8" fill-opacity="0.62" stroke="#b4a2ac" stroke-opacity="0.55" stroke-width="1.2"/>
<circle cx="836.5" cy="477.7" r="27.3" fill="#efe3e8" fill-opacity="0.62" stroke="#b4a2ac" stroke-opacity="0.55" stroke-width="1.2"/>
<circle cx="835.7" cy="528.6" r="25.9" fill="#efe3e8" fill-opacity="0.62" stroke="#b4a2ac" stroke-opacity="0.55" stroke-width="1.2"/>
<circle cx="832.4" cy="578.1" r="29.0" fill="#efe3e8" fill-opacity="0.62" stroke="#b4a2ac" stroke-opacity="0.55" stroke-width="1.2"/>
<circle cx="837.3" cy="633.4" r="25.5" fill="#efe3e8" fill-opacity="0.62" stroke="#b4a2ac" stroke-opacity="0.55" stroke-width="1.2"/>
<circle cx="881.4" cy="448.3" r="25.2" fill="#efe3e8" fill-opacity="0.62" stroke="#b4a2ac" stroke-opacity="0.55" stroke-width="1.2"/>
<circle cx="877.6" cy="495.6" r="28.3" fill="#efe3e8" fill-opacity="0.62" stroke="#b4a2ac" stroke-opacity="0.55" stroke-width="1.2"/>
<circle cx="880.8" cy="547.0" r="25.1" fill="#efe3e8" fill-opacity="0.62" stroke="#b4a2ac" stroke-opacity="0.55" stroke-width="1.2"/>
<circle cx="872.2" cy="600.4" r="26.0" fill="#efe3e8" fill-opacity="0.62" stroke="#b4a2ac" stroke-opacity="0.55" stroke-width="1.2"/>
<circle cx="877.8" cy="656.7" r="27.3" fill="#efe3e8" fill-opacity="0.62" stroke="#b4a2ac" stroke-opacity="0.55" stroke-width="1.2"/>
<circle cx="919.7" cy="427.2" r="27.6" fill="#efe3e8" fill-opacity="0.62" stroke="#b4a2ac" stroke-opacity="0.55" stroke-width="1.2"/>
<circle cx="917.5" cy="474.4" r="28.3" fill="#efe3e8" fill-opacity="0.62" stroke="#b4a2ac" stroke-opacity="0.55" stroke-width="1.2"/>
<circle cx="924.2" cy="530.3" r="30.0" fill="#efe3e8" fill-opacity="0.62" stroke="#b4a2ac" stroke-opacity="0.55" stroke-width="1.2"/>
<circle cx="917.9" cy="574.4" r="28.5" fill="#efe3e8" fill-opacity="0.62" stroke="#b4a2ac" stroke-opacity="0.55" stroke-width="1.2"/>
<circle cx="917.6" cy="635.6" r="26.4" fill="#efe3e8" fill-opacity="0.62" stroke="#b4a2ac" stroke-opacity="0.55" stroke-width="1.2"/>
<circle cx="960.9" cy="444.5" r="27.0" fill="#efe3e8" fill-opacity="0.62" stroke="#b4a2ac" stroke-opacity="0.55" stroke-width="1.2"/>
<circle cx="961.7" cy="499.1" r="29.8" fill="#efe3e8" fill-opacity="0.62" stroke="#b4a2ac" stroke-opacity="0.55" stroke-width="1.2"/>
<circle cx="964.5" cy="552.7" r="26.0" fill="#efe3e8" fill-opacity="0.62" stroke="#b4a2ac" stroke-opacity="0.55" stroke-width="1.2"/>
<circle cx="956.5" cy="598.5" r="29.9" fill="#efe3e8" fill-opacity="0.62" stroke="#b4a2ac" stroke-opacity="0.55" stroke-width="1.2"/>
<circle cx="962.7" cy="648.3" r="28.1" fill="#efe3e8" fill-opacity="0.62" stroke="#b4a2ac" stroke-opacity="0.55" stroke-width="1.2"/>
<circle cx="1003.4" cy="425.4" r="25.4" fill="#efe3e8" fill-opacity="0.62" stroke="#b4a2ac" stroke-opacity="0.55" stroke-width="1.2"/>
<circle cx="997.7" cy="472.6" r="28.8" fill="#efe3e8" fill-opacity="0.62" stroke="#b4a2ac" stroke-opacity="0.55" stroke-width="1.2"/>
<circle cx="1001.2" cy="529.2" r="25.5" fill="#efe3e8" fill-opacity="0.62" stroke="#b4a2ac" stroke-opacity="0.55" stroke-width="1.2"/>
<circle cx="1002.1" cy="581.7" r="25.9" fill="#efe3e8" fill-opacity="0.62" stroke="#b4a2ac" stroke-opacity="0.55" stroke-width="1.2"/>
<circle cx="1001.9" cy="628.1" r="26.0" fill="#efe3e8" fill-opacity="0.62" stroke="#b4a2ac" stroke-opacity="0.55" stroke-width="1.2"/>
<circle cx="1043.5" cy="445.6" r="28.2" fill="#efe3e8" fill-opacity="0.62" stroke="#b4a2ac" stroke-opacity="0.55" stroke-width="1.2"/>
<circle cx="1044.8" cy="502.1" r="26.1" fill="#efe3e8" fill-opacity="0.62" stroke="#b4a2ac" stroke-opacity="0.55" stroke-width="1.2"/>
<circle cx="1044.2" cy="552.8" r="29.0" fill="#efe3e8" fill-opacity="0.62" stroke="#b4a2ac" stroke-opacity="0.55" stroke-width="1.2"/>
<circle cx="1044.2" cy="603.9" r="26.1" fill="#efe3e8" fill-opacity="0.62" stroke="#b4a2ac" stroke-opacity="0.55" stroke-width="1.2"/>
<circle cx="1040.2" cy="654.0" r="28.2" fill="#efe3e8" fill-opacity="0.62" stroke="#b4a2ac" stroke-opacity="0.55" stroke-width="1.2"/>
<circle cx="1085.8" cy="428.6" r="26.1" fill="#efe3e8" fill-opacity="0.62" stroke="#b4a2ac" stroke-opacity="0.55" stroke-width="1.2"/>
<circle cx="1087.7" cy="473.6" r="26.6" fill="#efe3e8" fill-opacity="0.62" stroke="#b4a2ac" stroke-opacity="0.55" stroke-width="1.2"/>
<circle cx="1088.4" cy="525.5" r="25.5" fill="#efe3e8" fill-opacity="0.62" stroke="#b4a2ac" stroke-opacity="0.55" stroke-width="1.2"/>
<circle cx="1085.9" cy="579.3" r="28.0" fill="#efe3e8" fill-opacity="0.62" stroke="#b4a2ac" stroke-opacity="0.55" stroke-width="1.2"/>
<circle cx="1086.0" cy="631.7" r="29.8" fill="#efe3e8" fill-opacity="0.62" stroke="#b4a2ac" stroke-opacity="0.55" stroke-width="1.2"/>
<circle cx="1127.9" cy="441.8" r="29.3" fill="#efe3e8" fill-opacity="0.62" stroke="#b4a2ac" stroke-opacity="0.55" stroke-width="1.2"/>
<circle cx="1132.1" cy="496.3" r="29.5" fill="#efe3e8" fill-opacity="0.62" stroke="#b4a2ac" stroke-opacity="0.55" stroke-width="1.2"/>
<circle cx="1135.4" cy="554.0" r="25.9" fill="#efe3e8" fill-opacity="0.62" stroke="#b4a2ac" stroke-opacity="0.55" stroke-width="1.2"/>
<circle cx="1130.8" cy="607.3" r="26.0" fill="#efe3e8" fill-opacity="0.62" stroke="#b4a2ac" stroke-opacity="0.55" stroke-width="1.2"/>
<circle cx="1130.6" cy="650.8" r="28.0" fill="#efe3e8" fill-opacity="0.62" stroke="#b4a2ac" stroke-opacity="0.55" stroke-width="1.2"/>
<circle cx="1175.2" cy="425.1" r="25.2" fill="#efe3e8" fill-opacity="0.62" stroke="#b4a2ac" stroke-opacity="0.55" stroke-width="1.2"/>
<circle cx="1168.8" cy="478.8" r="28.5" fill="#efe3e8" fill-opacity="0.62" stroke="#b4a2ac" stroke-opacity="0.55" stroke-width="1.2"/>
<circle cx="1171.4" cy="525.0" r="28.0" fill="#efe3e8" fill-opacity="0.62" stroke="#b4a2ac" stroke-opacity="0.55" stroke-width="1.2"/>
<circle cx="1169.7" cy="574.4" r="28.6" fill="#efe3e8" fill-opacity="0.62" stroke="#b4a2ac" stroke-opacity="0.55" stroke-width="1.2"/>
<circle cx="1177.4" cy="634.4" r="27.8" fill="#efe3e8" fill-opacity="0.62" stroke="#b4a2ac" stroke-opacity="0.55" stroke-width="1.2"/>
<circle cx="1215.1" cy="443.0" r="26.4" fill="#efe3e8" fill-opacity="0.62" stroke="#b4a2ac" stroke-opacity="0.55" stroke-width="1.2"/>
<circle cx="1210.8" cy="502.7" r="25.1" fill="#efe3e8" fill-opacity="0.62" stroke="#b4a2ac" stroke-opacity="0.55" stroke-width="1.2"/>
<circle cx="1213.9" cy="549.5" r="25.3" fill="#efe3e8" fill-opacity="0.62" stroke="#b4a2ac" stroke-opacity="0.55" stroke-width="1.2"/>
<circle cx="1207.3" cy="600.8" r="27.9" fill="#efe3e8" fill-opacity="0.62" stroke="#b4a2ac" stroke-opacity="0.55" stroke-width="1.2"/>
<circle cx="1217.2" cy="653.0" r="29.5" fill="#efe3e8" fill-opacity="0.62" stroke="#b4a2ac" stroke-opacity="0.55" stroke-width="1.2"/>
<circle cx="1259.1" cy="418.8" r="28.5" fill="#efe3e8" fill-opacity="0.62" stroke="#b4a2ac" stroke-opacity="0.55" stroke-width="1.2"/>
<circle cx="1249.8" cy="477.9" r="25.2" fill="#efe3e8" fill-opacity="0.62" stroke="#b4a2ac" stroke-opacity="0.55" stroke-width="1.2"/>
<circle cx="1262.1" cy="523.0" r="28.5" fill="#efe3e8" fill-opacity="0.62" stroke="#b4a2ac" stroke-opacity="0.55" stroke-width="1.2"/>
<circle cx="1254.4" cy="583.9" r="28.2" fill="#efe3e8" fill-opacity="0.62" stroke="#b4a2ac" stroke-opacity="0.55" stroke-width="1.2"/>
<circle cx="1256.9" cy="627.7" r="26.6" fill="#efe3e8" fill-opacity="0.62" stroke="#b4a2ac" stroke-opacity="0.55" stroke-width="1.2"/>
<circle cx="1302.2" cy="449.4" r="27.7" fill="#efe3e8" fill-opacity="0.62" stroke="#b4a2ac" stroke-opacity="0.55" stroke-width="1.2"/>
<circle cx="1301.9" cy="500.6" r="28.7" fill="#efe3e8" fill-opacity="0.62" stroke="#b4a2ac" stroke-opacity="0.55" stroke-width="1.2"/>
<circle cx="1298.3" cy="551.2" r="29.6" fill="#efe3e8" fill-opacity="0.62" stroke="#b4a2ac" stroke-opacity="0.55" stroke-width="1.2"/>
<circle cx="1301.7" cy="600.4" r="29.5" fill="#efe3e8" fill-opacity="0.62" stroke="#b4a2ac" stroke-opacity="0.55" stroke-width="1.2"/>
<circle cx="1299.2" cy="650.7" r="29.0" fill="#efe3e8" fill-opacity="0.62" stroke="#b4a2ac" stroke-opacity="0.55" stroke-width="1.2"/>
<circle cx="840.7" cy="426.4" r="17.1" fill="#8cb2e2" fill-opacity="0.32" stroke="#5a8cc4" stroke-opacity="0.5" stroke-width="1"/>
<circle cx="832.2" cy="478.4" r="17.0" fill="#8cb2e2" fill-opacity="0.32" stroke="#5a8cc4" stroke-opacity="0.5" stroke-width="1"/>
<circle cx="839.4" cy="529.9" r="19.0" fill="#8cb2e2" fill-opacity="0.32" stroke="#5a8cc4" stroke-opacity="0.5" stroke-width="1"/>
<circle cx="838.0" cy="580.5" r="15.9" fill="#8cb2e2" fill-opacity="0.32" stroke="#5a8cc4" stroke-opacity="0.5" stroke-width="1"/>
<circle cx="838.2" cy="627.7" r="16.2" fill="#8cb2e2" fill-opacity="0.32" stroke="#5a8cc4" stroke-opacity="0.5" stroke-width="1"/>
<circle cx="872.8" cy="445.6" r="17.8" fill="#8cb2e2" fill-opacity="0.32" stroke="#5a8cc4" stroke-opacity="0.5" stroke-width="1"/>
<circle cx="874.0" cy="500.3" r="16.4" fill="#8cb2e2" fill-opacity="0.32" stroke="#5a8cc4" stroke-opacity="0.5" stroke-width="1"/>
<circle cx="881.7" cy="554.7" r="16.5" fill="#8cb2e2" fill-opacity="0.32" stroke="#5a8cc4" stroke-opacity="0.5" stroke-width="1"/>
<circle cx="869.4" cy="602.2" r="15.3" fill="#8cb2e2" fill-opacity="0.32" stroke="#5a8cc4" stroke-opacity="0.5" stroke-width="1"/>
<circle cx="875.3" cy="650.7" r="17.4" fill="#8cb2e2" fill-opacity="0.32" stroke="#5a8cc4" stroke-opacity="0.5" stroke-width="1"/>
<circle cx="920.2" cy="426.6" r="18.5" fill="#8cb2e2" fill-opacity="0.32" stroke="#5a8cc4" stroke-opacity="0.5" stroke-width="1"/>
<circle cx="916.1" cy="477.9" r="18.5" fill="#8cb2e2" fill-opacity="0.32" stroke="#5a8cc4" stroke-opacity="0.5" stroke-width="1"/>
<circle cx="919.5" cy="530.7" r="15.0" fill="#8cb2e2" fill-opacity="0.32" stroke="#5a8cc4" stroke-opacity="0.5" stroke-width="1"/>
<circle cx="923.2" cy="575.4" r="18.6" fill="#8cb2e2" fill-opacity="0.32" stroke="#5a8cc4" stroke-opacity="0.5" stroke-width="1"/>
<circle cx="919.2" cy="629.9" r="16.9" fill="#8cb2e2" fill-opacity="0.32" stroke="#5a8cc4" stroke-opacity="0.5" stroke-width="1"/>
<circle cx="961.5" cy="448.9" r="16.5" fill="#8cb2e2" fill-opacity="0.32" stroke="#5a8cc4" stroke-opacity="0.5" stroke-width="1"/>
<circle cx="963.4" cy="500.9" r="17.6" fill="#8cb2e2" fill-opacity="0.32" stroke="#5a8cc4" stroke-opacity="0.5" stroke-width="1"/>
<circle cx="960.7" cy="550.7" r="14.8" fill="#8cb2e2" fill-opacity="0.32" stroke="#5a8cc4" stroke-opacity="0.5" stroke-width="1"/>
<circle cx="956.4" cy="603.2" r="15.1" fill="#8cb2e2" fill-opacity="0.32" stroke="#5a8cc4" stroke-opacity="0.5" stroke-width="1"/>
<circle cx="958.7" cy="653.5" r="16.5" fill="#8cb2e2" fill-opacity="0.32" stroke="#5a8cc4" stroke-opacity="0.5" stroke-width="1"/>
<circle cx="1004.2" cy="417.4" r="18.9" fill="#8cb2e2" fill-opacity="0.32" stroke="#5a8cc4" stroke-opacity="0.5" stroke-width="1"/>
<circle cx="1004.5" cy="470.0" r="14.2" fill="#8cb2e2" fill-opacity="0.32" stroke="#5a8cc4" stroke-opacity="0.5" stroke-width="1"/>
<circle cx="1005.4" cy="524.9" r="17.5" fill="#8cb2e2" fill-opacity="0.32" stroke="#5a8cc4" stroke-opacity="0.5" stroke-width="1"/>
<circle cx="996.8" cy="578.5" r="18.0" fill="#8cb2e2" fill-opacity="0.32" stroke="#5a8cc4" stroke-opacity="0.5" stroke-width="1"/>
<circle cx="995.2" cy="634.4" r="16.3" fill="#8cb2e2" fill-opacity="0.32" stroke="#5a8cc4" stroke-opacity="0.5" stroke-width="1"/>
<circle cx="1043.0" cy="441.7" r="15.2" fill="#8cb2e2" fill-opacity="0.32" stroke="#5a8cc4" stroke-opacity="0.5" stroke-width="1"/>
<circle cx="1046.1" cy="499.6" r="17.1" fill="#8cb2e2" fill-opacity="0.32" stroke="#5a8cc4" stroke-opacity="0.5" stroke-width="1"/>
<circle cx="1048.9" cy="554.3" r="17.3" fill="#8cb2e2" fill-opacity="0.32" stroke="#5a8cc4" stroke-opacity="0.5" stroke-width="1"/>
<circle cx="1042.0" cy="600.9" r="17.4" fill="#8cb2e2" fill-opacity="0.32" stroke="#5a8cc4" stroke-opacity="0.5" stroke-width="1"/>
<circle cx="1038.5" cy="649.8" r="14.9" fill="#8cb2e2" fill-opacity="0.32" stroke="#5a8cc4" stroke-opacity="0.5" stroke-width="1"/>
<circle cx="1084.5" cy="424.1" r="17.6" fill="#8cb2e2" fill-opacity="0.32" stroke="#5a8cc4" stroke-opacity="0.5" stroke-width="1"/>
<circle cx="1091.3" cy="477.2" r="15.7" fill="#8cb2e2" fill-opacity="0.32" stroke="#5a8cc4" stroke-opacity="0.5" stroke-width="1"/>
<circle cx="1090.3" cy="526.5" r="17.1" fill="#8cb2e2" fill-opacity="0.32" stroke="#5a8cc4" stroke-opacity="0.5" stroke-width="1"/>
<circle cx="1091.0" cy="575.6" r="18.0" fill="#8cb2e2" fill-opacity="0.32" stroke="#5a8cc4" stroke-opacity="0.5" stroke-width="1"/>
<circle cx="1088.3" cy="627.4" r="18.7" fill="#8cb2e2" fill-opacity="0.32" stroke="#5a8cc4" stroke-opacity="0.5" stroke-width="1"/>
<circle cx="1131.7" cy="448.7" r="16.3" fill="#8cb2e2" fill-opacity="0.32" stroke="#5a8cc4" stroke-opacity="0.5" stroke-width="1"/>
<circle cx="1130.3" cy="502.1" r="15.9" fill="#8cb2e2" fill-opacity="0.32" stroke="#5a8cc4" stroke-opacity="0.5" stroke-width="1"/>
<circle cx="1137.9" cy="550.1" r="18.0" fill="#8cb2e2" fill-opacity="0.32" stroke="#5a8cc4" stroke-opacity="0.5" stroke-width="1"/>
<circle cx="1124.2" cy="606.4" r="17.3" fill="#8cb2e2" fill-opacity="0.32" stroke="#5a8cc4" stroke-opacity="0.5" stroke-width="1"/>
<circle cx="1132.6" cy="656.2" r="18.1" fill="#8cb2e2" fill-opacity="0.32" stroke="#5a8cc4" stroke-opacity="0.5" stroke-width="1"/>
<circle cx="1175.5" cy="432.0" r="15.1" fill="#8cb2e2" fill-opacity="0.32" stroke="#5a8cc4" stroke-opacity="0.5" stroke-width="1"/>
<circle cx="1171.1" cy="479.1" r="18.9" fill="#8cb2e2" fill-opacity="0.32" stroke="#5a8cc4" stroke-opacity="0.5" stroke-width="1"/>
<circle cx="1177.2" cy="531.2" r="15.6" fill="#8cb2e2" fill-opacity="0.32" stroke="#5a8cc4" stroke-opacity="0.5" stroke-width="1"/>
<circle cx="1168.9" cy="576.0" r="15.7" fill="#8cb2e2" fill-opacity="0.32" stroke="#5a8cc4" stroke-opacity="0.5" stroke-width="1"/>
<circle cx="1177.3" cy="633.4" r="16.8" fill="#8cb2e2" fill-opacity="0.32" stroke="#5a8cc4" stroke-opacity="0.5" stroke-width="1"/>
<circle cx="1214.9" cy="441.0" r="14.1" fill="#8cb2e2" fill-opacity="0.32" stroke="#5a8cc4" stroke-opacity="0.5" stroke-width="1"/>
<circle cx="1209.3" cy="501.5" r="18.0" fill="#8cb2e2" fill-opacity="0.32" stroke="#5a8cc4" stroke-opacity="0.5" stroke-width="1"/>
<circle cx="1212.9" cy="547.0" r="17.9" fill="#8cb2e2" fill-opacity="0.32" stroke="#5a8cc4" stroke-opacity="0.5" stroke-width="1"/>
<circle cx="1212.4" cy="605.3" r="16.6" fill="#8cb2e2" fill-opacity="0.32" stroke="#5a8cc4" stroke-opacity="0.5" stroke-width="1"/>
<circle cx="1217.9" cy="651.6" r="17.4" fill="#8cb2e2" fill-opacity="0.32" stroke="#5a8cc4" stroke-opacity="0.5" stroke-width="1"/>
<circle cx="1254.3" cy="418.9" r="18.7" fill="#8cb2e2" fill-opacity="0.32" stroke="#5a8cc4" stroke-opacity="0.5" stroke-width="1"/>
<circle cx="1251.6" cy="476.9" r="16.6" fill="#8cb2e2" fill-opacity="0.32" stroke="#5a8cc4" stroke-opacity="0.5" stroke-width="1"/>
<circle cx="1258.6" cy="530.2" r="17.2" fill="#8cb2e2" fill-opacity="0.32" stroke="#5a8cc4" stroke-opacity="0.5" stroke-width="1"/>
<circle cx="1252.6" cy="580.9" r="16.8" fill="#8cb2e2" fill-opacity="0.32" stroke="#5a8cc4" stroke-opacity="0.5" stroke-width="1"/>
<circle cx="1256.9" cy="628.2" r="18.2" fill="#8cb2e2" fill-opacity="0.32" stroke="#5a8cc4" stroke-opacity="0.5" stroke-width="1"/>
<circle cx="1305.0" cy="446.4" r="18.3" fill="#8cb2e2" fill-opacity="0.32" stroke="#5a8cc4" stroke-opacity="0.5" stroke-width="1"/>
<circle cx="1297.3" cy="498.7" r="16.9" fill="#8cb2e2" fill-opacity="0.32" stroke="#5a8cc4" stroke-opacity="0.5" stroke-width="1"/>
<circle cx="1300.6" cy="545.0" r="16.5" fill="#8cb2e2" fill-opacity="0.32" stroke="#5a8cc4" stroke-opacity="0.5" stroke-width="1"/>
<circle cx="1298.9" cy="600.1" r="18.8" fill="#8cb2e2" fill-opacity="0.32" stroke="#5a8cc4" stroke-opacity="0.5" stroke-width="1"/>
<circle cx="1296.9" cy="650.0" r="18.0" fill="#8cb2e2" fill-opacity="0.32" stroke="#5a8cc4" stroke-opacity="0.5" stroke-width="1"/>
<ellipse cx="828.7" cy="419.0" rx="13.7" ry="7.9" transform="rotate(-63 828.7 419.0)" fill="#4f98e0" fill-opacity="0.5" stroke="#3a78bc" stroke-opacity="0.5" stroke-width="1"/>
<ellipse cx="839.3" cy="416.2" rx="11.7" ry="9.9" transform="rotate(-16 839.3 416.2)" fill="#4f98e0" fill-opacity="0.5" stroke="#3a78bc" stroke-opacity="0.5" stroke-width="1"/>
<ellipse cx="831.1" cy="427.2" rx="10.8" ry="9.2" transform="rotate(262 831.1 427.2)" fill="#4f98e0" fill-opacity="0.5" stroke="#3a78bc" stroke-opacity="0.5" stroke-width="1"/>
<ellipse cx="836.8" cy="466.8" rx="10.9" ry="9.4" transform="rotate(2 836.8 466.8)" fill="#4f98e0" fill-opacity="0.5" stroke="#3a78bc" stroke-opacity="0.5" stroke-width="1"/>
<ellipse cx="833.8" cy="466.2" rx="12.5" ry="7.4" transform="rotate(-13 833.8 466.2)" fill="#4f98e0" fill-opacity="0.5" stroke="#3a78bc" stroke-opacity="0.5" stroke-width="1"/>
<ellipse cx="845.0" cy="485.4" rx="11.0" ry="7.7" transform="rotate(134 845.0 485.4)" fill="#4f98e0" fill-opacity="0.5" stroke="#3a78bc" stroke-opacity="0.5" stroke-width="1"/>
<ellipse cx="826.8" cy="470.6" rx="12.1" ry="7.6" transform="rotate(-56 826.8 470.6)" fill="#4f98e0" fill-opacity="0.5" stroke="#3a78bc" stroke-opacity="0.5" stroke-width="1"/>
<ellipse cx="825.5" cy="525.4" rx="10.9" ry="8.9" transform="rotate(282 825.5 525.4)" fill="#4f98e0" fill-opacity="0.5" stroke="#3a78bc" stroke-opacity="0.5" stroke-width="1"/>
<ellipse cx="839.5" cy="518.6" rx="13.7" ry="9.2" transform="rotate(24 839.5 518.6)" fill="#4f98e0" fill-opacity="0.5" stroke="#3a78bc" stroke-opacity="0.5" stroke-width="1"/>
<ellipse cx="844.0" cy="516.0" rx="10.8" ry="9.7" transform="rotate(36 844.0 516.0)" fill="#4f98e0" fill-opacity="0.5" stroke="#3a78bc" stroke-opacity="0.5" stroke-width="1"/>
<ellipse cx="842.6" cy="587.5" rx="12.9" ry="7.9" transform="rotate(138 842.6 587.5)" fill="#4f98e0" fill-opacity="0.5" stroke="#3a78bc" stroke-opacity="0.5" stroke-width="1"/>
<ellipse cx="849.3" cy="576.7" rx="11.7" ry="9.8" transform="rotate(78 849.3 576.7)" fill="#4f98e0" fill-opacity="0.5" stroke="#3a78bc" stroke-opacity="0.5" stroke-width="1"/>
<ellipse cx="826.7" cy="577.9" rx="10.8" ry="9.4" transform="rotate(-78 826.7 577.9)" fill="#4f98e0" fill-opacity="0.5" stroke="#3a78bc" stroke-opacity="0.5" stroke-width="1"/>
<ellipse cx="844.7" cy="625.0" rx="13.0" ry="8.8" transform="rotate(55 844.7 625.0)" fill="#4f98e0" fill-opacity="0.5" stroke="#3a78bc" stroke-opacity="0.5" stroke-width="1"/>
<ellipse cx="838.3" cy="640.6" rx="10.4" ry="7.1" transform="rotate(158 838.3 640.6)" fill="#4f98e0" fill-opacity="0.5" stroke="#3a78bc" stroke-opacity="0.5" stroke-width="1"/>
<ellipse cx="825.0" cy="630.4" rx="10.7" ry="7.7" transform="rotate(-81 825.0 630.4)" fill="#4f98e0" fill-opacity="0.5" stroke="#3a78bc" stroke-opacity="0.5" stroke-width="1"/>
<ellipse cx="849.3" cy="631.0" rx="10.4" ry="7.2" transform="rotate(447 849.3 631.0)" fill="#4f98e0" fill-opacity="0.5" stroke="#3a78bc" stroke-opacity="0.5" stroke-width="1"/>
<ellipse cx="876.2" cy="435.1" rx="11.6" ry="8.5" transform="rotate(-8 876.2 435.1)" fill="#4f98e0" fill-opacity="0.5" stroke="#3a78bc" stroke-opacity="0.5" stroke-width="1"/>
<ellipse cx="880.8" cy="432.2" rx="10.2" ry="7.7" transform="rotate(15 880.8 432.2)" fill="#4f98e0" fill-opacity="0.5" stroke="#3a78bc" stroke-opacity="0.5" stroke-width="1"/>
<ellipse cx="887.1" cy="438.9" rx="11.5" ry="10.2" transform="rotate(59 887.1 438.9)" fill="#4f98e0" fill-opacity="0.5" stroke="#3a78bc" stroke-opacity="0.5" stroke-width="1"/>
<ellipse cx="888.9" cy="452.3" rx="11.3" ry="7.3" transform="rotate(124 888.9 452.3)" fill="#4f98e0" fill-opacity="0.5" stroke="#3a78bc" stroke-opacity="0.5" stroke-width="1"/>
<ellipse cx="882.3" cy="488.8" rx="13.0" ry="8.0" transform="rotate(30 882.3 488.8)" fill="#4f98e0" fill-opacity="0.5" stroke="#3a78bc" stroke-opacity="0.5" stroke-width="1"/>
<ellipse cx="889.9" cy="495.5" rx="10.6" ry="10.3" transform="rotate(78 889.9 495.5)" fill="#4f98e0" fill-opacity="0.5" stroke="#3a78bc" stroke-opacity="0.5" stroke-width="1"/>
<ellipse cx="869.8" cy="489.4" rx="11.7" ry="7.6" transform="rotate(-38 869.8 489.4)" fill="#4f98e0" fill-opacity="0.5" stroke="#3a78bc" stroke-opacity="0.5" stroke-width="1"/>
<ellipse cx="886.1" cy="494.6" rx="13.2" ry="8.1" transform="rotate(69 886.1 494.6)" fill="#4f98e0" fill-opacity="0.5" stroke="#3a78bc" stroke-opacity="0.5" stroke-width="1"/>
<ellipse cx="870.1" cy="543.3" rx="10.9" ry="10.3" transform="rotate(-55 870.1 543.3)" fill="#4f98e0" fill-opacity="0.5" stroke="#3a78bc" stroke-opacity="0.5" stroke-width="1"/>
<ellipse cx="873.8" cy="561.5" rx="12.3" ry="8.9" transform="rotate(212 873.8 561.5)" fill="#4f98e0" fill-opacity="0.5" stroke="#3a78bc" stroke-opacity="0.5" stroke-width="1"/>
<ellipse cx="894.8" cy="545.6" rx="12.6" ry="9.5" transform="rotate(71 894.8 545.6)" fill="#4f98e0" fill-opacity="0.5" stroke="#3a78bc" stroke-opacity="0.5" stroke-width="1"/>
<ellipse cx="886.9" cy="606.0" rx="13.0" ry="7.9" transform="rotate(98 886.9 606.0)" fill="#4f98e0" fill-opacity="0.5" stroke="#3a78bc" stroke-opacity="0.5" stroke-width="1"/>
<ellipse cx="881.5" cy="595.5" rx="10.4" ry="7.9" transform="rotate(39 881.5 595.5)" fill="#4f98e0" fill-opacity="0.5" stroke="#3a78bc" stroke-opacity="0.5" stroke-width="1"/>
<ellipse cx="862.8" cy="600.5" rx="13.9" ry="9.0" transform="rotate(288 862.8 600.5)" fill="#4f98e0" fill-opacity="0.5" stroke="#3a78bc" stroke-opacity="0.5" stroke-width="1"/>
<ellipse cx="865.3" cy="593.6" rx="10.3" ry="9.1" transform="rotate(320 865.3 593.6)" fill="#4f98e0" fill-opacity="0.5" stroke="#3a78bc" stroke-opacity="0.5" stroke-width="1"/>
<ellipse cx="881.6" cy="639.7" rx="11.5" ry="10.4" transform="rotate(13 881.6 639.7)" fill="#4f98e0" fill-opacity="0.5" stroke="#3a78bc" stroke-opacity="0.5" stroke-width="1"/>
<ellipse cx="866.2" cy="650.7" rx="11.7" ry="8.7" transform="rotate(285 866.2 650.7)" fill="#4f98e0" fill-opacity="0.5" stroke="#3a78bc" stroke-opacity="0.5" stroke-width="1"/>
<ellipse cx="869.9" cy="645.2" rx="11.9" ry="7.9" transform="rotate(-44 869.9 645.2)" fill="#4f98e0" fill-opacity="0.5" stroke="#3a78bc" stroke-opacity="0.5" stroke-width="1"/>
<ellipse cx="918.5" cy="418.0" rx="13.1" ry="9.1" transform="rotate(359 918.5 418.0)" fill="#4f98e0" fill-opacity="0.5" stroke="#3a78bc" stroke-opacity="0.5" stroke-width="1"/>
<ellipse cx="907.6" cy="434.3" rx="10.2" ry="8.1" transform="rotate(237 907.6 434.3)" fill="#4f98e0" fill-opacity="0.5" stroke="#3a78bc" stroke-opacity="0.5" stroke-width="1"/>
<ellipse cx="925.3" cy="416.7" rx="12.9" ry="8.1" transform="rotate(32 925.3 416.7)" fill="#4f98e0" fill-opacity="0.5" stroke="#3a78bc" stroke-opacity="0.5" stroke-width="1"/>
<ellipse cx="920.8" cy="440.3" rx="11.0" ry="9.6" transform="rotate(171 920.8 440.3)" fill="#4f98e0" fill-opacity="0.5" stroke="#3a78bc" stroke-opacity="0.5" stroke-width="1"/>
<ellipse cx="929.6" cy="476.9" rx="13.9" ry="9.9" transform="rotate(93 929.6 476.9)" fill="#4f98e0" fill-opacity="0.5" stroke="#3a78bc" stroke-opacity="0.5" stroke-width="1"/>
<ellipse cx="927.4" cy="484.6" rx="11.8" ry="7.7" transform="rotate(131 927.4 484.6)" fill="#4f98e0" fill-opacity="0.5" stroke="#3a78bc" stroke-opacity="0.5" stroke-width="1"/>
<ellipse cx="910.2" cy="466.7" rx="10.5" ry="8.6" transform="rotate(-39 910.2 466.7)" fill="#4f98e0" fill-opacity="0.5" stroke="#3a78bc" stroke-opacity="0.5" stroke-width="1"/>
<ellipse cx="918.9" cy="516.2" rx="13.1" ry="8.9" transform="rotate(-6 918.9 516.2)" fill="#4f98e0" fill-opacity="0.5" stroke="#3a78bc" stroke-opacity="0.5" stroke-width="1"/>
<ellipse cx="933.0" cy="523.7" rx="11.0" ry="7.4" transform="rotate(433 933.0 523.7)" fill="#4f98e0" fill-opacity="0.5" stroke="#3a78bc" stroke-opacity="0.5" stroke-width="1"/>
<ellipse cx="922.9" cy="515.1" rx="11.4" ry="8.0" transform="rotate(372 922.9 515.1)" fill="#4f98e0" fill-opacity="0.5" stroke="#3a78bc" stroke-opacity="0.5" stroke-width="1"/>
<ellipse cx="908.7" cy="522.6" rx="12.5" ry="9.6" transform="rotate(293 908.7 522.6)" fill="#4f98e0" fill-opacity="0.5" stroke="#3a78bc" stroke-opacity="0.5" stroke-width="1"/>
<ellipse cx="906.5" cy="576.4" rx="10.8" ry="9.4" transform="rotate(271 906.5 576.4)" fill="#4f98e0" fill-opacity="0.5" stroke="#3a78bc" stroke-opacity="0.5" stroke-width="1"/>
<ellipse cx="929.9" cy="577.2" rx="10.1" ry="7.1" transform="rotate(93 929.9 577.2)" fill="#4f98e0" fill-opacity="0.5" stroke="#3a78bc" stroke-opacity="0.5" stroke-width="1"/>
<ellipse cx="930.0" cy="575.3" rx="13.0" ry="10.2" transform="rotate(83 930.0 575.3)" fill="#4f98e0" fill-opacity="0.5" stroke="#3a78bc" stroke-opacity="0.5" stroke-width="1"/>
<ellipse cx="913.2" cy="624.6" rx="10.8" ry="8.2" transform="rotate(-41 913.2 624.6)" fill="#4f98e0" fill-opacity="0.5" stroke="#3a78bc" stroke-opacity="0.5" stroke-width="1"/>
<ellipse cx="926.0" cy="625.5" rx="10.5" ry="9.8" transform="rotate(392 926.0 625.5)" fill="#4f98e0" fill-opacity="0.5" stroke="#3a78bc" stroke-opacity="0.5" stroke-width="1"/>
<ellipse cx="922.2" cy="623.3" rx="11.7" ry="7.9" transform="rotate(367 922.2 623.3)" fill="#4f98e0" fill-opacity="0.5" stroke="#3a78bc" stroke-opacity="0.5" stroke-width="1"/>
<ellipse cx="949.0" cy="436.2" rx="14.0" ry="8.1" transform="rotate(-45 949.0 436.2)" fill="#4f98e0" fill-opacity="0.5" stroke="#3a78bc" stroke-opacity="0.5" stroke-width="1"/>
<ellipse cx="957.4" cy="433.9" rx="11.5" ry="7.3" transform="rotate(-3 957.4 433.9)" fill="#4f98e0" fill-opacity="0.5" stroke="#3a78bc" stroke-opacity="0.5" stroke-width="1"/>
<ellipse cx="966.5" cy="449.9" rx="12.3" ry="8.7" transform="rotate(118 966.5 449.9)" fill="#4f98e0" fill-opacity="0.5" stroke="#3a78bc" stroke-opacity="0.5" stroke-width="1"/>
<ellipse cx="950.5" cy="513.8" rx="10.3" ry="7.7" transform="rotate(-142 950.5 513.8)" fill="#4f98e0" fill-opacity="0.5" stroke="#3a78bc" stroke-opacity="0.5" stroke-width="1"/>
<ellipse cx="968.3" cy="508.4" rx="12.9" ry="9.4" transform="rotate(119 968.3 508.4)" fill="#4f98e0" fill-opacity="0.5" stroke="#3a78bc" stroke-opacity="0.5" stroke-width="1"/>
<ellipse cx="966.9" cy="492.4" rx="11.5" ry="7.4" transform="rotate(37 966.9 492.4)" fill="#4f98e0" fill-opacity="0.5" stroke="#3a78bc" stroke-opacity="0.5" stroke-width="1"/>
<ellipse cx="945.7" cy="497.0" rx="13.8" ry="10.2" transform="rotate(295 945.7 497.0)" fill="#4f98e0" fill-opacity="0.5" stroke="#3a78bc" stroke-opacity="0.5" stroke-width="1"/>
<ellipse cx="972.0" cy="542.6" rx="11.8" ry="7.8" transform="rotate(46 972.0 542.6)" fill="#4f98e0" fill-opacity="0.5" stroke="#3a78bc" stroke-opacity="0.5" stroke-width="1"/>
<ellipse cx="959.7" cy="540.9" rx="10.3" ry="9.9" transform="rotate(353 959.7 540.9)" fill="#4f98e0" fill-opacity="0.5" stroke="#3a78bc" stroke-opacity="0.5" stroke-width="1"/>
<ellipse cx="952.9" cy="541.9" rx="13.0" ry="8.3" transform="rotate(-37 952.9 541.9)" fill="#4f98e0" fill-opacity="0.5" stroke="#3a78bc" stroke-opacity="0.5" stroke-width="1"/>
<ellipse cx="951.6" cy="550.3" rx="12.4" ry="7.6" transform="rotate(-75 951.6 550.3)" fill="#4f98e0" fill-opacity="0.5" stroke="#3a78bc" stroke-opacity="0.5" stroke-width="1"/>
<ellipse cx="965.1" cy="594.6" rx="10.1" ry="8.8" transform="rotate(407 965.1 594.6)" fill="#4f98e0" fill-opacity="0.5" stroke="#3a78bc" stroke-opacity="0.5" stroke-width="1"/>
<ellipse cx="950.8" cy="613.0" rx="13.2" ry="7.2" transform="rotate(-150 950.8 613.0)" fill="#4f98e0" fill-opacity="0.5" stroke="#3a78bc" stroke-opacity="0.5" stroke-width="1"/>
<ellipse cx="944.6" cy="596.7" rx="10.3" ry="7.3" transform="rotate(-68 944.6 596.7)" fill="#4f98e0" fill-opacity="0.5" stroke="#3a78bc" stroke-opacity="0.5" stroke-width="1"/>
<ellipse cx="971.5" cy="656.6" rx="10.6" ry="9.6" transform="rotate(120 971.5 656.6)" fill="#4f98e0" fill-opacity="0.5" stroke="#3a78bc" stroke-opacity="0.5" stroke-width="1"/>
<ellipse cx="960.8" cy="660.4" rx="13.1" ry="8.8" transform="rotate(178 960.8 660.4)" fill="#4f98e0" fill-opacity="0.5" stroke="#3a78bc" stroke-opacity="0.5" stroke-width="1"/>
<ellipse cx="951.8" cy="656.9" rx="13.9" ry="9.4" transform="rotate(232 951.8 656.9)" fill="#4f98e0" fill-opacity="0.5" stroke="#3a78bc" stroke-opacity="0.5" stroke-width="1"/>
<ellipse cx="1006.5" cy="409.1" rx="10.2" ry="9.6" transform="rotate(8 1006.5 409.1)" fill="#4f98e0" fill-opacity="0.5" stroke="#3a78bc" stroke-opacity="0.5" stroke-width="1"/>
<ellipse cx="999.4" cy="429.0" rx="11.5" ry="7.3" transform="rotate(216 999.4 429.0)" fill="#4f98e0" fill-opacity="0.5" stroke="#3a78bc" stroke-opacity="0.5" stroke-width="1"/>
<ellipse cx="999.9" cy="410.4" rx="10.1" ry="8.3" transform="rotate(-23 999.9 410.4)" fill="#4f98e0" fill-opacity="0.5" stroke="#3a78bc" stroke-opacity="0.5" stroke-width="1"/>
<ellipse cx="1018.3" cy="426.7" rx="11.0" ry="7.6" transform="rotate(110 1018.3 426.7)" fill="#4f98e0" fill-opacity="0.5" stroke="#3a78bc" stroke-opacity="0.5" stroke-width="1"/>
<ellipse cx="995.9" cy="484.8" rx="12.1" ry="8.0" transform="rotate(206 995.9 484.8)" fill="#4f98e0" fill-opacity="0.5" stroke="#3a78bc" stroke-opacity="0.5" stroke-width="1"/>
<ellipse cx="987.6" cy="477.0" rx="11.2" ry="7.5" transform="rotate(260 987.6 477.0)" fill="#4f98e0" fill-opacity="0.5" stroke="#3a78bc" stroke-opacity="0.5" stroke-width="1"/>
<ellipse cx="1012.3" cy="467.5" rx="10.1" ry="8.7" transform="rotate(418 1012.3 467.5)" fill="#4f98e0" fill-opacity="0.5" stroke="#3a78bc" stroke-opacity="0.5" stroke-width="1"/>
<ellipse cx="996.9" cy="484.0" rx="11.4" ry="9.1" transform="rotate(203 996.9 484.0)" fill="#4f98e0" fill-opacity="0.5" stroke="#3a78bc" stroke-opacity="0.5" stroke-width="1"/>
<ellipse cx="1015.0" cy="527.0" rx="10.7" ry="8.0" transform="rotate(91 1015.0 527.0)" fill="#4f98e0" fill-opacity="0.5" stroke="#3a78bc" stroke-opacity="0.5" stroke-width="1"/>
<ellipse cx="1005.3" cy="514.5" rx="13.3" ry="8.7" transform="rotate(3 1005.3 514.5)" fill="#4f98e0" fill-opacity="0.5" stroke="#3a78bc" stroke-opacity="0.5" stroke-width="1"/>
<ellipse cx="993.1" cy="518.5" rx="13.7" ry="8.2" transform="rotate(-54 993.1 518.5)" fill="#4f98e0" fill-opacity="0.5" stroke="#3a78bc" stroke-opacity="0.5" stroke-width="1"/>
<ellipse cx="1014.4" cy="523.2" rx="10.2" ry="10.3" transform="rotate(70 1014.4 523.2)" fill="#4f98e0" fill-opacity="0.5" stroke="#3a78bc" stroke-opacity="0.5" stroke-width="1"/>
<ellipse cx="1005.4" cy="569.0" rx="13.2" ry="7.2" transform="rotate(376 1005.4 569.0)" fill="#4f98e0" fill-opacity="0.5" stroke="#3a78bc" stroke-opacity="0.5" stroke-width="1"/>
<ellipse cx="1012.7" cy="573.2" rx="13.6" ry="8.6" transform="rotate(411 1012.7 573.2)" fill="#4f98e0" fill-opacity="0.5" stroke="#3a78bc" stroke-opacity="0.5" stroke-width="1"/>
<ellipse cx="997.8" cy="571.2" rx="13.5" ry="8.5" transform="rotate(-19 997.8 571.2)" fill="#4f98e0" fill-opacity="0.5" stroke="#3a78bc" stroke-opacity="0.5" stroke-width="1"/>
<ellipse cx="1010.5" cy="593.5" rx="13.2" ry="7.5" transform="rotate(142 1010.5 593.5)" fill="#4f98e0" fill-opacity="0.5" stroke="#3a78bc" stroke-opacity="0.5" stroke-width="1"/>
<ellipse cx="1009.8" cy="628.9" rx="10.8" ry="10.2" transform="rotate(78 1009.8 628.9)" fill="#4f98e0" fill-opacity="0.5" stroke="#3a78bc" stroke-opacity="0.5" stroke-width="1"/>
<ellipse cx="1004.4" cy="622.4" rx="11.4" ry="9.2" transform="rotate(27 1004.4 622.4)" fill="#4f98e0" fill-opacity="0.5" stroke="#3a78bc" stroke-opacity="0.5" stroke-width="1"/>
<ellipse cx="1009.2" cy="628.6" rx="13.0" ry="8.9" transform="rotate(75 1009.2 628.6)" fill="#4f98e0" fill-opacity="0.5" stroke="#3a78bc" stroke-opacity="0.5" stroke-width="1"/>
<ellipse cx="992.0" cy="626.8" rx="10.8" ry="7.7" transform="rotate(-62 992.0 626.8)" fill="#4f98e0" fill-opacity="0.5" stroke="#3a78bc" stroke-opacity="0.5" stroke-width="1"/>
<ellipse cx="1038.0" cy="449.6" rx="11.7" ry="8.7" transform="rotate(248 1038.0 449.6)" fill="#4f98e0" fill-opacity="0.5" stroke="#3a78bc" stroke-opacity="0.5" stroke-width="1"/>
<ellipse cx="1057.2" cy="443.8" rx="11.6" ry="8.9" transform="rotate(437 1057.2 443.8)" fill="#4f98e0" fill-opacity="0.5" stroke="#3a78bc" stroke-opacity="0.5" stroke-width="1"/>
<ellipse cx="1041.9" cy="438.0" rx="10.3" ry="7.5" transform="rotate(330 1041.9 438.0)" fill="#4f98e0" fill-opacity="0.5" stroke="#3a78bc" stroke-opacity="0.5" stroke-width="1"/>
<ellipse cx="1046.3" cy="484.6" rx="10.5" ry="8.6" transform="rotate(359 1046.3 484.6)" fill="#4f98e0" fill-opacity="0.5" stroke="#3a78bc" stroke-opacity="0.5" stroke-width="1"/>
<ellipse cx="1043.8" cy="486.8" rx="11.2" ry="7.4" transform="rotate(346 1043.8 486.8)" fill="#4f98e0" fill-opacity="0.5" stroke="#3a78bc" stroke-opacity="0.5" stroke-width="1"/>
<ellipse cx="1055.3" cy="487.2" rx="12.9" ry="10.2" transform="rotate(398 1055.3 487.2)" fill="#4f98e0" fill-opacity="0.5" stroke="#3a78bc" stroke-opacity="0.5" stroke-width="1"/>
<ellipse cx="1033.5" cy="501.4" rx="13.8" ry="9.6" transform="rotate(-103 1033.5 501.4)" fill="#4f98e0" fill-opacity="0.5" stroke="#3a78bc" stroke-opacity="0.5" stroke-width="1"/>
<ellipse cx="1036.0" cy="552.6" rx="12.9" ry="8.2" transform="rotate(-107 1036.0 552.6)" fill="#4f98e0" fill-opacity="0.5" stroke="#3a78bc" stroke-opacity="0.5" stroke-width="1"/>
<ellipse cx="1033.5" cy="544.6" rx="11.3" ry="9.9" transform="rotate(293 1033.5 544.6)" fill="#4f98e0" fill-opacity="0.5" stroke="#3a78bc" stroke-opacity="0.5" stroke-width="1"/>
<ellipse cx="1049.8" cy="537.3" rx="12.8" ry="7.6" transform="rotate(18 1049.8 537.3)" fill="#4f98e0" fill-opacity="0.5" stroke="#3a78bc" stroke-opacity="0.5" stroke-width="1"/>
<ellipse cx="1049.4" cy="590.2" rx="12.8" ry="7.4" transform="rotate(22 1049.4 590.2)" fill="#4f98e0" fill-opacity="0.5" stroke="#3a78bc" stroke-opacity="0.5" stroke-width="1"/>
<ellipse cx="1057.5" cy="595.8" rx="11.4" ry="9.9" transform="rotate(67 1057.5 595.8)" fill="#4f98e0" fill-opacity="0.5" stroke="#3a78bc" stroke-opacity="0.5" stroke-width="1"/>
<ellipse cx="1051.6" cy="608.9" rx="10.6" ry="9.4" transform="rotate(140 1051.6 608.9)" fill="#4f98e0" fill-opacity="0.5" stroke="#3a78bc" stroke-opacity="0.5" stroke-width="1"/>
<ellipse cx="1043.7" cy="586.6" rx="12.5" ry="9.5" transform="rotate(-5 1043.7 586.6)" fill="#4f98e0" fill-opacity="0.5" stroke="#3a78bc" stroke-opacity="0.5" stroke-width="1"/>
<ellipse cx="1046.6" cy="637.5" rx="12.4" ry="7.1" transform="rotate(374 1046.6 637.5)" fill="#4f98e0" fill-opacity="0.5" stroke="#3a78bc" stroke-opacity="0.5" stroke-width="1"/>
<ellipse cx="1036.0" cy="643.9" rx="11.5" ry="8.8" transform="rotate(-50 1036.0 643.9)" fill="#4f98e0" fill-opacity="0.5" stroke="#3a78bc" stroke-opacity="0.5" stroke-width="1"/>
<ellipse cx="1049.2" cy="638.8" rx="10.6" ry="9.7" transform="rotate(387 1049.2 638.8)" fill="#4f98e0" fill-opacity="0.5" stroke="#3a78bc" stroke-opacity="0.5" stroke-width="1"/>
<ellipse cx="1032.8" cy="646.8" rx="12.0" ry="7.5" transform="rotate(287 1032.8 646.8)" fill="#4f98e0" fill-opacity="0.5" stroke="#3a78bc" stroke-opacity="0.5" stroke-width="1"/>
<ellipse cx="1074.5" cy="425.1" rx="13.3" ry="7.7" transform="rotate(276 1074.5 425.1)" fill="#4f98e0" fill-opacity="0.5" stroke="#3a78bc" stroke-opacity="0.5" stroke-width="1"/>
<ellipse cx="1080.6" cy="419.1" rx="10.3" ry="7.9" transform="rotate(316 1080.6 419.1)" fill="#4f98e0" fill-opacity="0.5" stroke="#3a78bc" stroke-opacity="0.5" stroke-width="1"/>
<ellipse cx="1100.5" cy="423.3" rx="11.3" ry="10.3" transform="rotate(76 1100.5 423.3)" fill="#4f98e0" fill-opacity="0.5" stroke="#3a78bc" stroke-opacity="0.5" stroke-width="1"/>
<ellipse cx="1099.7" cy="468.6" rx="11.0" ry="9.0" transform="rotate(51 1099.7 468.6)" fill="#4f98e0" fill-opacity="0.5" stroke="#3a78bc" stroke-opacity="0.5" stroke-width="1"/>
<ellipse cx="1082.5" cy="470.5" rx="13.7" ry="7.6" transform="rotate(-46 1082.5 470.5)" fill="#4f98e0" fill-opacity="0.5" stroke="#3a78bc" stroke-opacity="0.5" stroke-width="1"/>
<ellipse cx="1098.1" cy="470.4" rx="10.6" ry="10.3" transform="rotate(413 1098.1 470.4)" fill="#4f98e0" fill-opacity="0.5" stroke="#3a78bc" stroke-opacity="0.5" stroke-width="1"/>
<ellipse cx="1083.8" cy="464.6" rx="11.5" ry="7.6" transform="rotate(-24 1083.8 464.6)" fill="#4f98e0" fill-opacity="0.5" stroke="#3a78bc" stroke-opacity="0.5" stroke-width="1"/>
<ellipse cx="1078.3" cy="521.1" rx="13.1" ry="10.3" transform="rotate(-55 1078.3 521.1)" fill="#4f98e0" fill-opacity="0.5" stroke="#3a78bc" stroke-opacity="0.5" stroke-width="1"/>
<ellipse cx="1096.4" cy="537.9" rx="13.4" ry="10.2" transform="rotate(140 1096.4 537.9)" fill="#4f98e0" fill-opacity="0.5" stroke="#3a78bc" stroke-opacity="0.5" stroke-width="1"/>
<ellipse cx="1079.1" cy="517.1" rx="10.6" ry="8.4" transform="rotate(321 1079.1 517.1)" fill="#4f98e0" fill-opacity="0.5" stroke="#3a78bc" stroke-opacity="0.5" stroke-width="1"/>
<ellipse cx="1078.0" cy="575.0" rx="12.1" ry="7.9" transform="rotate(-62 1078.0 575.0)" fill="#4f98e0" fill-opacity="0.5" stroke="#3a78bc" stroke-opacity="0.5" stroke-width="1"/>
<ellipse cx="1095.7" cy="573.2" rx="12.6" ry="7.1" transform="rotate(54 1095.7 573.2)" fill="#4f98e0" fill-opacity="0.5" stroke="#3a78bc" stroke-opacity="0.5" stroke-width="1"/>
<ellipse cx="1096.0" cy="591.3" rx="12.4" ry="8.6" transform="rotate(142 1096.0 591.3)" fill="#4f98e0" fill-opacity="0.5" stroke="#3a78bc" stroke-opacity="0.5" stroke-width="1"/>
<ellipse cx="1096.7" cy="624.7" rx="11.6" ry="8.0" transform="rotate(419 1096.7 624.7)" fill="#4f98e0" fill-opacity="0.5" stroke="#3a78bc" stroke-opacity="0.5" stroke-width="1"/>
<ellipse cx="1072.0" cy="634.4" rx="12.8" ry="9.9" transform="rotate(257 1072.0 634.4)" fill="#4f98e0" fill-opacity="0.5" stroke="#3a78bc" stroke-opacity="0.5" stroke-width="1"/>
<ellipse cx="1096.3" cy="635.2" rx="12.1" ry="8.5" transform="rotate(112 1096.3 635.2)" fill="#4f98e0" fill-opacity="0.5" stroke="#3a78bc" stroke-opacity="0.5" stroke-width="1"/>
<ellipse cx="1100.4" cy="633.2" rx="11.2" ry="9.2" transform="rotate(98 1100.4 633.2)" fill="#4f98e0" fill-opacity="0.5" stroke="#3a78bc" stroke-opacity="0.5" stroke-width="1"/>
<ellipse cx="1119.3" cy="436.8" rx="11.2" ry="9.1" transform="rotate(305 1119.3 436.8)" fill="#4f98e0" fill-opacity="0.5" stroke="#3a78bc" stroke-opacity="0.5" stroke-width="1"/>
<ellipse cx="1139.4" cy="436.7" rx="11.6" ry="7.2" transform="rotate(49 1139.4 436.7)" fill="#4f98e0" fill-opacity="0.5" stroke="#3a78bc" stroke-opacity="0.5" stroke-width="1"/>
<ellipse cx="1120.1" cy="442.9" rx="11.2" ry="8.4" transform="rotate(279 1120.1 442.9)" fill="#4f98e0" fill-opacity="0.5" stroke="#3a78bc" stroke-opacity="0.5" stroke-width="1"/>
<ellipse cx="1137.4" cy="438.3" rx="13.6" ry="10.4" transform="rotate(48 1137.4 438.3)" fill="#4f98e0" fill-opacity="0.5" stroke="#3a78bc" stroke-opacity="0.5" stroke-width="1"/>
<ellipse cx="1117.4" cy="504.9" rx="10.9" ry="9.6" transform="rotate(242 1117.4 504.9)" fill="#4f98e0" fill-opacity="0.5" stroke="#3a78bc" stroke-opacity="0.5" stroke-width="1"/>
<ellipse cx="1135.1" cy="485.7" rx="10.5" ry="8.9" transform="rotate(24 1135.1 485.7)" fill="#4f98e0" fill-opacity="0.5" stroke="#3a78bc" stroke-opacity="0.5" stroke-width="1"/>
<ellipse cx="1140.1" cy="498.3" rx="11.2" ry="8.1" transform="rotate(90 1140.1 498.3)" fill="#4f98e0" fill-opacity="0.5" stroke="#3a78bc" stroke-opacity="0.5" stroke-width="1"/>
<ellipse cx="1125.5" cy="484.5" rx="13.3" ry="8.4" transform="rotate(-16 1125.5 484.5)" fill="#4f98e0" fill-opacity="0.5" stroke="#3a78bc" stroke-opacity="0.5" stroke-width="1"/>
<ellipse cx="1134.8" cy="561.3" rx="11.8" ry="8.1" transform="rotate(173 1134.8 561.3)" fill="#4f98e0" fill-opacity="0.5" stroke="#3a78bc" stroke-opacity="0.5" stroke-width="1"/>
<ellipse cx="1146.2" cy="545.3" rx="13.5" ry="7.7" transform="rotate(68 1146.2 545.3)" fill="#4f98e0" fill-opacity="0.5" stroke="#3a78bc" stroke-opacity="0.5" stroke-width="1"/>
<ellipse cx="1130.2" cy="541.7" rx="11.3" ry="10.0" transform="rotate(339 1130.2 541.7)" fill="#4f98e0" fill-opacity="0.5" stroke="#3a78bc" stroke-opacity="0.5" stroke-width="1"/>
<ellipse cx="1146.2" cy="551.8" rx="12.8" ry="9.0" transform="rotate(96 1146.2 551.8)" fill="#4f98e0" fill-opacity="0.5" stroke="#3a78bc" stroke-opacity="0.5" stroke-width="1"/>
<ellipse cx="1141.4" cy="603.1" rx="10.2" ry="7.4" transform="rotate(85 1141.4 603.1)" fill="#4f98e0" fill-opacity="0.5" stroke="#3a78bc" stroke-opacity="0.5" stroke-width="1"/>
<ellipse cx="1121.6" cy="617.5" rx="13.5" ry="9.5" transform="rotate(203 1121.6 617.5)" fill="#4f98e0" fill-opacity="0.5" stroke="#3a78bc" stroke-opacity="0.5" stroke-width="1"/>
<ellipse cx="1118.3" cy="596.6" rx="10.3" ry="7.8" transform="rotate(-49 1118.3 596.6)" fill="#4f98e0" fill-opacity="0.5" stroke="#3a78bc" stroke-opacity="0.5" stroke-width="1"/>
<ellipse cx="1122.8" cy="664.1" rx="11.1" ry="9.5" transform="rotate(-140 1122.8 664.1)" fill="#4f98e0" fill-opacity="0.5" stroke="#3a78bc" stroke-opacity="0.5" stroke-width="1"/>
<ellipse cx="1127.8" cy="640.6" rx="12.1" ry="7.4" transform="rotate(-14 1127.8 640.6)" fill="#4f98e0" fill-opacity="0.5" stroke="#3a78bc" stroke-opacity="0.5" stroke-width="1"/>
<ellipse cx="1142.3" cy="644.1" rx="13.6" ry="7.6" transform="rotate(48 1142.3 644.1)" fill="#4f98e0" fill-opacity="0.5" stroke="#3a78bc" stroke-opacity="0.5" stroke-width="1"/>
<ellipse cx="1141.7" cy="648.6" rx="10.3" ry="10.2" transform="rotate(63 1141.7 648.6)" fill="#4f98e0" fill-opacity="0.5" stroke="#3a78bc" stroke-opacity="0.5" stroke-width="1"/>
<ellipse cx="1180.2" cy="423.9" rx="12.4" ry="8.0" transform="rotate(69 1180.2 423.9)" fill="#4f98e0" fill-opacity="0.5" stroke="#3a78bc" stroke-opacity="0.5" stroke-width="1"/>
<ellipse cx="1173.1" cy="416.6" rx="13.0" ry="7.9" transform="rotate(9 1173.1 416.6)" fill="#4f98e0" fill-opacity="0.5" stroke="#3a78bc" stroke-opacity="0.5" stroke-width="1"/>
<ellipse cx="1166.2" cy="416.1" rx="10.7" ry="10.1" transform="rotate(-25 1166.2 416.1)" fill="#4f98e0" fill-opacity="0.5" stroke="#3a78bc" stroke-opacity="0.5" stroke-width="1"/>
<ellipse cx="1181.5" cy="469.9" rx="10.0" ry="10.1" transform="rotate(420 1181.5 469.9)" fill="#4f98e0" fill-opacity="0.5" stroke="#3a78bc" stroke-opacity="0.5" stroke-width="1"/>
<ellipse cx="1184.9" cy="478.8" rx="11.3" ry="8.7" transform="rotate(100 1184.9 478.8)" fill="#4f98e0" fill-opacity="0.5" stroke="#3a78bc" stroke-opacity="0.5" stroke-width="1"/>
<ellipse cx="1178.0" cy="468.3" rx="13.3" ry="9.2" transform="rotate(43 1178.0 468.3)" fill="#4f98e0" fill-opacity="0.5" stroke="#3a78bc" stroke-opacity="0.5" stroke-width="1"/>
<ellipse cx="1173.9" cy="516.0" rx="12.7" ry="8.9" transform="rotate(4 1173.9 516.0)" fill="#4f98e0" fill-opacity="0.5" stroke="#3a78bc" stroke-opacity="0.5" stroke-width="1"/>
<ellipse cx="1166.4" cy="516.1" rx="12.9" ry="7.9" transform="rotate(-30 1166.4 516.1)" fill="#4f98e0" fill-opacity="0.5" stroke="#3a78bc" stroke-opacity="0.5" stroke-width="1"/>
<ellipse cx="1181.4" cy="521.0" rx="10.8" ry="10.4" transform="rotate(52 1181.4 521.0)" fill="#4f98e0" fill-opacity="0.5" stroke="#3a78bc" stroke-opacity="0.5" stroke-width="1"/>
<ellipse cx="1159.9" cy="571.4" rx="10.7" ry="7.5" transform="rotate(-68 1159.9 571.4)" fill="#4f98e0" fill-opacity="0.5" stroke="#3a78bc" stroke-opacity="0.5" stroke-width="1"/>
<ellipse cx="1162.4" cy="572.1" rx="11.1" ry="9.8" transform="rotate(-67 1162.4 572.1)" fill="#4f98e0" fill-opacity="0.5" stroke="#3a78bc" stroke-opacity="0.5" stroke-width="1"/>
<ellipse cx="1173.5" cy="562.2" rx="12.3" ry="8.9" transform="rotate(2 1173.5 562.2)" fill="#4f98e0" fill-opacity="0.5" stroke="#3a78bc" stroke-opacity="0.5" stroke-width="1"/>
<ellipse cx="1185.5" cy="637.3" rx="12.8" ry="9.9" transform="rotate(109 1185.5 637.3)" fill="#4f98e0" fill-opacity="0.5" stroke="#3a78bc" stroke-opacity="0.5" stroke-width="1"/>
<ellipse cx="1177.2" cy="620.2" rx="12.0" ry="9.3" transform="rotate(371 1177.2 620.2)" fill="#4f98e0" fill-opacity="0.5" stroke="#3a78bc" stroke-opacity="0.5" stroke-width="1"/>
<ellipse cx="1167.8" cy="623.6" rx="12.6" ry="9.1" transform="rotate(-34 1167.8 623.6)" fill="#4f98e0" fill-opacity="0.5" stroke="#3a78bc" stroke-opacity="0.5" stroke-width="1"/>
<ellipse cx="1218.0" cy="435.8" rx="11.5" ry="7.8" transform="rotate(33 1218.0 435.8)" fill="#4f98e0" fill-opacity="0.5" stroke="#3a78bc" stroke-opacity="0.5" stroke-width="1"/>
<ellipse cx="1223.3" cy="448.5" rx="13.0" ry="10.5" transform="rotate(105 1223.3 448.5)" fill="#4f98e0" fill-opacity="0.5" stroke="#3a78bc" stroke-opacity="0.5" stroke-width="1"/>
<ellipse cx="1202.7" cy="447.0" rx="11.0" ry="10.1" transform="rotate(-100 1202.7 447.0)" fill="#4f98e0" fill-opacity="0.5" stroke="#3a78bc" stroke-opacity="0.5" stroke-width="1"/>
<ellipse cx="1217.3" cy="435.5" rx="11.2" ry="8.5" transform="rotate(29 1217.3 435.5)" fill="#4f98e0" fill-opacity="0.5" stroke="#3a78bc" stroke-opacity="0.5" stroke-width="1"/>
<ellipse cx="1206.9" cy="491.1" rx="13.9" ry="9.1" transform="rotate(335 1206.9 491.1)" fill="#4f98e0" fill-opacity="0.5" stroke="#3a78bc" stroke-opacity="0.5" stroke-width="1"/>
<ellipse cx="1224.1" cy="503.3" rx="10.3" ry="7.8" transform="rotate(91 1224.1 503.3)" fill="#4f98e0" fill-opacity="0.5" stroke="#3a78bc" stroke-opacity="0.5" stroke-width="1"/>
<ellipse cx="1227.2" cy="501.6" rx="13.7" ry="7.8" transform="rotate(84 1227.2 501.6)" fill="#4f98e0" fill-opacity="0.5" stroke="#3a78bc" stroke-opacity="0.5" stroke-width="1"/>
<ellipse cx="1214.0" cy="539.7" rx="12.8" ry="10.0" transform="rotate(-13 1214.0 539.7)" fill="#4f98e0" fill-opacity="0.5" stroke="#3a78bc" stroke-opacity="0.5" stroke-width="1"/>
<ellipse cx="1212.1" cy="536.9" rx="11.9" ry="8.4" transform="rotate(-18 1212.1 536.9)" fill="#4f98e0" fill-opacity="0.5" stroke="#3a78bc" stroke-opacity="0.5" stroke-width="1"/>
<ellipse cx="1206.5" cy="559.8" rx="10.9" ry="8.2" transform="rotate(227 1206.5 559.8)" fill="#4f98e0" fill-opacity="0.5" stroke="#3a78bc" stroke-opacity="0.5" stroke-width="1"/>
<ellipse cx="1214.2" cy="590.7" rx="11.6" ry="9.1" transform="rotate(379 1214.2 590.7)" fill="#4f98e0" fill-opacity="0.5" stroke="#3a78bc" stroke-opacity="0.5" stroke-width="1"/>
<ellipse cx="1198.4" cy="603.9" rx="12.5" ry="7.6" transform="rotate(260 1198.4 603.9)" fill="#4f98e0" fill-opacity="0.5" stroke="#3a78bc" stroke-opacity="0.5" stroke-width="1"/>
<ellipse cx="1201.9" cy="597.8" rx="11.1" ry="10.3" transform="rotate(-64 1201.9 597.8)" fill="#4f98e0" fill-opacity="0.5" stroke="#3a78bc" stroke-opacity="0.5" stroke-width="1"/>
<ellipse cx="1209.6" cy="638.8" rx="12.0" ry="9.0" transform="rotate(-16 1209.6 638.8)" fill="#4f98e0" fill-opacity="0.5" stroke="#3a78bc" stroke-opacity="0.5" stroke-width="1"/>
<ellipse cx="1215.3" cy="661.1" rx="10.2" ry="9.5" transform="rotate(168 1215.3 661.1)" fill="#4f98e0" fill-opacity="0.5" stroke="#3a78bc" stroke-opacity="0.5" stroke-width="1"/>
<ellipse cx="1220.2" cy="659.6" rx="13.4" ry="7.4" transform="rotate(139 1220.2 659.6)" fill="#4f98e0" fill-opacity="0.5" stroke="#3a78bc" stroke-opacity="0.5" stroke-width="1"/>
<ellipse cx="1245.0" cy="426.1" rx="11.5" ry="7.9" transform="rotate(252 1245.0 426.1)" fill="#4f98e0" fill-opacity="0.5" stroke="#3a78bc" stroke-opacity="0.5" stroke-width="1"/>
<ellipse cx="1253.1" cy="412.2" rx="12.4" ry="8.7" transform="rotate(331 1253.1 412.2)" fill="#4f98e0" fill-opacity="0.5" stroke="#3a78bc" stroke-opacity="0.5" stroke-width="1"/>
<ellipse cx="1252.8" cy="413.1" rx="11.6" ry="8.7" transform="rotate(-33 1252.8 413.1)" fill="#4f98e0" fill-opacity="0.5" stroke="#3a78bc" stroke-opacity="0.5" stroke-width="1"/>
<ellipse cx="1246.2" cy="420.4" rx="11.3" ry="8.6" transform="rotate(276 1246.2 420.4)" fill="#4f98e0" fill-opacity="0.5" stroke="#3a78bc" stroke-opacity="0.5" stroke-width="1"/>
<ellipse cx="1253.2" cy="464.4" rx="11.1" ry="9.5" transform="rotate(-3 1253.2 464.4)" fill="#4f98e0" fill-opacity="0.5" stroke="#3a78bc" stroke-opacity="0.5" stroke-width="1"/>
<ellipse cx="1243.4" cy="475.6" rx="11.2" ry="8.2" transform="rotate(-96 1243.4 475.6)" fill="#4f98e0" fill-opacity="0.5" stroke="#3a78bc" stroke-opacity="0.5" stroke-width="1"/>
<ellipse cx="1262.9" cy="473.4" rx="10.1" ry="9.2" transform="rotate(83 1262.9 473.4)" fill="#4f98e0" fill-opacity="0.5" stroke="#3a78bc" stroke-opacity="0.5" stroke-width="1"/>
<ellipse cx="1263.2" cy="469.5" rx="12.7" ry="10.2" transform="rotate(62 1263.2 469.5)" fill="#4f98e0" fill-opacity="0.5" stroke="#3a78bc" stroke-opacity="0.5" stroke-width="1"/>
<ellipse cx="1254.6" cy="537.3" rx="10.5" ry="9.7" transform="rotate(-160 1254.6 537.3)" fill="#4f98e0" fill-opacity="0.5" stroke="#3a78bc" stroke-opacity="0.5" stroke-width="1"/>
<ellipse cx="1260.8" cy="513.2" rx="10.5" ry="8.7" transform="rotate(10 1260.8 513.2)" fill="#4f98e0" fill-opacity="0.5" stroke="#3a78bc" stroke-opacity="0.5" stroke-width="1"/>
<ellipse cx="1247.6" cy="517.0" rx="11.1" ry="9.5" transform="rotate(-48 1247.6 517.0)" fill="#4f98e0" fill-opacity="0.5" stroke="#3a78bc" stroke-opacity="0.5" stroke-width="1"/>
<ellipse cx="1246.0" cy="576.9" rx="12.7" ry="7.8" transform="rotate(-59 1246.0 576.9)" fill="#4f98e0" fill-opacity="0.5" stroke="#3a78bc" stroke-opacity="0.5" stroke-width="1"/>
<ellipse cx="1261.8" cy="573.8" rx="11.7" ry="7.5" transform="rotate(41 1261.8 573.8)" fill="#4f98e0" fill-opacity="0.5" stroke="#3a78bc" stroke-opacity="0.5" stroke-width="1"/>
<ellipse cx="1249.1" cy="570.0" rx="10.1" ry="8.4" transform="rotate(-24 1249.1 570.0)" fill="#4f98e0" fill-opacity="0.5" stroke="#3a78bc" stroke-opacity="0.5" stroke-width="1"/>
<ellipse cx="1262.0" cy="625.5" rx="11.5" ry="10.0" transform="rotate(418 1262.0 625.5)" fill="#4f98e0" fill-opacity="0.5" stroke="#3a78bc" stroke-opacity="0.5" stroke-width="1"/>
<ellipse cx="1240.0" cy="627.9" rx="13.5" ry="7.3" transform="rotate(-76 1240.0 627.9)" fill="#4f98e0" fill-opacity="0.5" stroke="#3a78bc" stroke-opacity="0.5" stroke-width="1"/>
<ellipse cx="1248.0" cy="621.5" rx="13.3" ry="10.1" transform="rotate(-27 1248.0 621.5)" fill="#4f98e0" fill-opacity="0.5" stroke="#3a78bc" stroke-opacity="0.5" stroke-width="1"/>
<ellipse cx="1244.6" cy="638.4" rx="13.6" ry="7.1" transform="rotate(228 1244.6 638.4)" fill="#4f98e0" fill-opacity="0.5" stroke="#3a78bc" stroke-opacity="0.5" stroke-width="1"/>
<ellipse cx="1291.4" cy="437.1" rx="11.6" ry="8.5" transform="rotate(316 1291.4 437.1)" fill="#4f98e0" fill-opacity="0.5" stroke="#3a78bc" stroke-opacity="0.5" stroke-width="1"/>
<ellipse cx="1311.7" cy="438.1" rx="13.5" ry="8.3" transform="rotate(55 1311.7 438.1)" fill="#4f98e0" fill-opacity="0.5" stroke="#3a78bc" stroke-opacity="0.5" stroke-width="1"/>
<ellipse cx="1309.8" cy="448.5" rx="12.0" ry="8.1" transform="rotate(104 1309.8 448.5)" fill="#4f98e0" fill-opacity="0.5" stroke="#3a78bc" stroke-opacity="0.5" stroke-width="1"/>
<ellipse cx="1310.9" cy="497.4" rx="11.0" ry="7.8" transform="rotate(85 1310.9 497.4)" fill="#4f98e0" fill-opacity="0.5" stroke="#3a78bc" stroke-opacity="0.5" stroke-width="1"/>
<ellipse cx="1303.2" cy="484.0" rx="13.9" ry="7.0" transform="rotate(11 1303.2 484.0)" fill="#4f98e0" fill-opacity="0.5" stroke="#3a78bc" stroke-opacity="0.5" stroke-width="1"/>
<ellipse cx="1308.7" cy="493.9" rx="13.3" ry="10.1" transform="rotate(63 1308.7 493.9)" fill="#4f98e0" fill-opacity="0.5" stroke="#3a78bc" stroke-opacity="0.5" stroke-width="1"/>
<ellipse cx="1303.4" cy="488.2" rx="10.4" ry="7.1" transform="rotate(377 1303.4 488.2)" fill="#4f98e0" fill-opacity="0.5" stroke="#3a78bc" stroke-opacity="0.5" stroke-width="1"/>
<ellipse cx="1293.8" cy="536.1" rx="13.3" ry="7.6" transform="rotate(337 1293.8 536.1)" fill="#4f98e0" fill-opacity="0.5" stroke="#3a78bc" stroke-opacity="0.5" stroke-width="1"/>
<ellipse cx="1287.1" cy="550.4" rx="11.5" ry="8.0" transform="rotate(267 1287.1 550.4)" fill="#4f98e0" fill-opacity="0.5" stroke="#3a78bc" stroke-opacity="0.5" stroke-width="1"/>
<ellipse cx="1289.3" cy="547.5" rx="11.0" ry="8.1" transform="rotate(282 1289.3 547.5)" fill="#4f98e0" fill-opacity="0.5" stroke="#3a78bc" stroke-opacity="0.5" stroke-width="1"/>
<ellipse cx="1297.6" cy="586.9" rx="14.0" ry="9.9" transform="rotate(356 1297.6 586.9)" fill="#4f98e0" fill-opacity="0.5" stroke="#3a78bc" stroke-opacity="0.5" stroke-width="1"/>
<ellipse cx="1293.5" cy="614.2" rx="12.0" ry="9.4" transform="rotate(202 1293.5 614.2)" fill="#4f98e0" fill-opacity="0.5" stroke="#3a78bc" stroke-opacity="0.5" stroke-width="1"/>
<ellipse cx="1286.0" cy="600.5" rx="11.7" ry="8.7" transform="rotate(-87 1286.0 600.5)" fill="#4f98e0" fill-opacity="0.5" stroke="#3a78bc" stroke-opacity="0.5" stroke-width="1"/>
<ellipse cx="1285.8" cy="654.4" rx="12.9" ry="7.9" transform="rotate(-112 1285.8 654.4)" fill="#4f98e0" fill-opacity="0.5" stroke="#3a78bc" stroke-opacity="0.5" stroke-width="1"/>
<ellipse cx="1291.2" cy="659.8" rx="13.0" ry="9.9" transform="rotate(208 1291.2 659.8)" fill="#4f98e0" fill-opacity="0.5" stroke="#3a78bc" stroke-opacity="0.5" stroke-width="1"/>
<ellipse cx="1285.8" cy="645.4" rx="12.8" ry="9.2" transform="rotate(294 1285.8 645.4)" fill="#4f98e0" fill-opacity="0.5" stroke="#3a78bc" stroke-opacity="0.5" stroke-width="1"/>
<ellipse cx="1299.4" cy="640.8" rx="11.5" ry="9.3" transform="rotate(378 1299.4 640.8)" fill="#4f98e0" fill-opacity="0.5" stroke="#3a78bc" stroke-opacity="0.5" stroke-width="1"/>
<circle cx="841.9" cy="425.6" r="10" fill="url(#atO)" opacity="0.75"/>
<circle cx="836.4" cy="477.0" r="10" fill="url(#atG)"/>
<circle cx="835.6" cy="527.6" r="10" fill="url(#atO)"/>
<circle cx="835.6" cy="579.7" r="10" fill="url(#atR)"/>
<circle cx="834.8" cy="631.9" r="10" fill="url(#atC)"/>
<circle cx="877.5" cy="444.6" r="10" fill="url(#atO)" opacity="0.75"/>
<circle cx="876.7" cy="498.3" r="10" fill="url(#atC)"/>
<circle cx="880.6" cy="550.5" r="10" fill="url(#atR)"/>
<circle cx="874.3" cy="604.2" r="10" fill="url(#atO)"/>
<circle cx="878.3" cy="654.0" r="10" fill="url(#atP)"/>
<circle cx="918.6" cy="427.2" r="10" fill="url(#atP)"/>
<circle cx="917.8" cy="476.2" r="10" fill="url(#atP)"/>
<circle cx="920.2" cy="527.6" r="10" fill="url(#atG)"/>
<circle cx="919.4" cy="576.6" r="10" fill="url(#atP)"/>
<circle cx="921.0" cy="633.5" r="10" fill="url(#atO)"/>
<circle cx="958.1" cy="445.4" r="10" fill="url(#atO)" opacity="0.75"/>
<circle cx="958.9" cy="503.1" r="10" fill="url(#atR)"/>
<circle cx="961.2" cy="552.9" r="10" fill="url(#atP)"/>
<circle cx="957.3" cy="601.9" r="10" fill="url(#atP)"/>
<circle cx="960.5" cy="650.1" r="10" fill="url(#atC)"/>
<circle cx="1004.7" cy="421.7" r="10" fill="url(#atO)"/>
<circle cx="1000.8" cy="474.6" r="10" fill="url(#atC)"/>
<circle cx="1004.7" cy="526.8" r="10" fill="url(#atC)"/>
<circle cx="1001.6" cy="582.1" r="10" fill="url(#atG)"/>
<circle cx="1000.0" cy="631.1" r="10" fill="url(#atP)"/>
<circle cx="1046.6" cy="446.2" r="10" fill="url(#atO)" opacity="0.75"/>
<circle cx="1046.6" cy="498.3" r="10" fill="url(#atC)"/>
<circle cx="1045.8" cy="549.7" r="10" fill="url(#atP)"/>
<circle cx="1045.0" cy="601.1" r="10" fill="url(#atR)"/>
<circle cx="1043.4" cy="650.1" r="10" fill="url(#atP)"/>
<circle cx="1089.3" cy="477.0" r="10" fill="url(#atG)"/>
<circle cx="1087.7" cy="527.6" r="10" fill="url(#atO)"/>
<circle cx="1086.9" cy="579.7" r="10" fill="url(#atG)"/>
<circle cx="1086.1" cy="631.1" r="10" fill="url(#atG)"/>
<circle cx="1130.4" cy="444.6" r="10" fill="url(#atO)" opacity="0.75"/>
<circle cx="1129.6" cy="498.3" r="10" fill="url(#atC)"/>
<circle cx="1133.5" cy="550.5" r="10" fill="url(#atR)"/>
<circle cx="1127.2" cy="604.2" r="10" fill="url(#atO)"/>
<circle cx="1131.2" cy="654.0" r="10" fill="url(#atP)"/>
<circle cx="1171.5" cy="427.2" r="10" fill="url(#atP)"/>
<circle cx="1170.7" cy="476.2" r="10" fill="url(#atP)"/>
<circle cx="1173.1" cy="527.6" r="10" fill="url(#atG)"/>
<circle cx="1173.1" cy="576.6" r="10" fill="url(#atP)"/>
<circle cx="1174.6" cy="633.5" r="10" fill="url(#atO)"/>
<circle cx="1211.8" cy="445.4" r="10" fill="url(#atO)" opacity="0.75"/>
<circle cx="1212.6" cy="503.1" r="10" fill="url(#atR)"/>
<circle cx="1216.5" cy="550.5" r="10" fill="url(#atG)"/>
<circle cx="1210.2" cy="601.9" r="10" fill="url(#atP)"/>
<circle cx="1213.4" cy="651.7" r="10" fill="url(#atC)"/>
<circle cx="1258.4" cy="421.7" r="10" fill="url(#atO)"/>
<circle cx="1253.7" cy="474.6" r="10" fill="url(#atC)"/>
<circle cx="1258.4" cy="526.8" r="10" fill="url(#atC)"/>
<circle cx="1254.5" cy="582.1" r="10" fill="url(#atP)"/>
<circle cx="1252.9" cy="631.1" r="10" fill="url(#atP)"/>
<circle cx="1300.3" cy="446.2" r="10" fill="url(#atO)" opacity="0.75"/>
<circle cx="1300.3" cy="498.3" r="10" fill="url(#atC)"/>
<circle cx="1299.5" cy="549.7" r="10" fill="url(#atP)"/>
<circle cx="1298.7" cy="601.1" r="10" fill="url(#atR)"/>
<circle cx="1296.3" cy="650.1" r="10" fill="url(#atP)"/>
</g>
<g clip-path="url(#clipb2)">
<ellipse cx="866.0" cy="408" rx="36" ry="15" transform="rotate(18 866.0 408)" fill="#5a9ee0" fill-opacity="0.42" stroke="#3a78bc" stroke-opacity="0.5" stroke-width="1"/>
<ellipse cx="915.0" cy="402" rx="16" ry="11" fill="#5a9ee0" fill-opacity="0.4" stroke="#3a78bc" stroke-opacity="0.5" stroke-width="1"/>
<circle cx="1004.0" cy="410" r="24" fill="#f0e2e6" fill-opacity="0.45" stroke="#b4a2ac" stroke-opacity="0.55" stroke-width="1.1"/>
<ellipse cx="995.0" cy="404" rx="15" ry="10" fill="#5a9ee0" fill-opacity="0.35"/>
<ellipse cx="1118.4" cy="408" rx="36" ry="15" transform="rotate(18 1118.4 408)" fill="#5a9ee0" fill-opacity="0.42" stroke="#3a78bc" stroke-opacity="0.5" stroke-width="1"/>
<ellipse cx="1167.4" cy="402" rx="16" ry="11" fill="#5a9ee0" fill-opacity="0.4" stroke="#3a78bc" stroke-opacity="0.5" stroke-width="1"/>
<circle cx="1256.4" cy="410" r="24" fill="#f0e2e6" fill-opacity="0.45" stroke="#b4a2ac" stroke-opacity="0.55" stroke-width="1.1"/>
<ellipse cx="1247.4" cy="404" rx="15" ry="10" fill="#5a9ee0" fill-opacity="0.35"/>
</g>
<text x="972.3" y="41.6" font-size="27" fill="#1a0fe0" text-anchor="start" font-weight="bold" ><tspan font-style="italic">fcc</tspan>-IrPtNiFeCo</text>
<text transform="translate(777.8,37.5) scale(1.0,1)" font-size="50" fill="#000" font-weight="bold">b</text>
<circle cx="887.7" cy="725.5" r="10.2" fill="url(#lgR)"/>
<text x="928.9" y="735.2" font-size="24.3" fill="#000" text-anchor="start" font-weight="bold" >Ir</text>
<circle cx="976.6" cy="725.5" r="10.2" fill="url(#lgO)"/>
<text x="1008.7" y="735.2" font-size="24.3" fill="#000" text-anchor="start" font-weight="bold" >Pt</text>
<circle cx="1066.0" cy="725.5" r="10.2" fill="url(#lgP)"/>
<text x="1090.6" y="735.2" font-size="24.3" fill="#000" text-anchor="start" font-weight="bold" >Co</text>
<circle cx="1152.6" cy="725.5" r="10.2" fill="url(#lgC)"/>
<text x="1180.4" y="735.2" font-size="24.3" fill="#000" text-anchor="start" font-weight="bold" >Fe</text>
<circle cx="1247.7" cy="725.5" r="10.2" fill="url(#lgG)"/>
<text x="1281.7" y="735.2" font-size="24.3" fill="#000" text-anchor="start" font-weight="bold" >Ni</text>
<clipPath id="clipc"><rect x="1526.3" y="17.3" width="526.2" height="278.3"/></clipPath>
<g clip-path="url(#clipc)" fill="none" stroke-width="3.4" stroke-linejoin="round">
<path d="M1640.0,293.6 C1645.2,293.6 1663.6,295.2 1671.1,293.6 C1678.5,292.0 1680.2,290.8 1684.7,284.0 C1689.2,277.2 1693.5,263.5 1698.3,252.8 C1703.1,242.1 1710.2,226.9 1713.8,219.8 C1717.3,212.7 1717.5,214.8 1719.6,210.0 C1721.7,205.2 1722.8,195.5 1726.4,190.7 C1730.0,185.8 1736.0,183.3 1741.0,180.9 C1746.0,178.5 1750.7,177.4 1756.5,176.1 C1762.3,174.8 1766.9,175.5 1776.0,173.2 C1785.1,170.9 1799.9,167.0 1810.9,162.5 C1821.9,158.0 1833.2,151.0 1842.0,146.0 C1850.8,141.0 1856.3,136.9 1863.4,132.4 C1870.5,127.9 1877.4,124.3 1884.8,118.8 C1892.2,113.3 1901.5,105.9 1908.0,99.4 C1914.5,92.9 1918.4,85.9 1923.6,79.9 C1928.8,73.9 1933.9,68.4 1939.1,63.4 C1944.3,58.4 1949.5,54.5 1954.7,49.8 C1959.9,45.1 1965.0,39.2 1970.2,35.3 C1975.4,31.4 1980.3,29.6 1985.8,26.5 C1991.3,23.4 1999.2,19.1 2003.2,16.8 C2007.2,14.6 2008.9,13.6 2010.0,13.0" stroke="#e8231c"/>
<path d="M1526.3,293.4 C1545.2,293.4 1616.3,293.4 1640.0,293.4 C1663.7,293.4 1661.2,295.4 1668.2,293.2 C1675.2,291.0 1676.8,287.1 1681.8,280.0 C1686.8,272.9 1693.0,261.9 1698.3,250.9 C1703.6,239.9 1709.3,224.4 1713.8,214.0 C1718.3,203.6 1721.0,195.8 1725.5,188.7 C1730.0,181.6 1736.5,174.9 1741.0,171.2 C1745.5,167.5 1746.9,167.4 1752.7,166.4 C1758.5,165.4 1767.0,166.2 1776.0,165.4 C1785.0,164.6 1799.2,163.6 1807.0,161.5 C1814.8,159.4 1816.8,156.9 1822.6,152.8 C1828.4,148.8 1834.9,142.2 1842.0,137.2 C1849.1,132.2 1858.2,127.1 1865.3,122.7 C1872.4,118.3 1879.0,114.9 1884.8,111.0 C1890.6,107.1 1894.5,105.9 1900.3,99.4 C1906.1,92.9 1913.9,81.0 1919.7,72.2 C1925.5,63.5 1930.1,54.7 1935.3,46.9 C1940.5,39.1 1946.3,30.4 1950.8,25.5 C1955.3,20.6 1958.9,19.4 1962.5,17.8 C1966.1,16.2 1970.6,16.3 1972.2,16.0" stroke="#1c10e6"/>
</g>
<rect x="1526.3" y="17.3" width="526.2" height="276.3" fill="none" stroke="#000" stroke-width="2" />
<line x1="1517.3" y1="293.6" x2="1526.3" y2="293.6" stroke="#000" stroke-width="2" />
<text x="1507.5" y="301.9" font-size="23" fill="#000" text-anchor="end" font-weight="bold" >0</text>
<line x1="1517.3" y1="201.5" x2="1526.3" y2="201.5" stroke="#000" stroke-width="2" />
<text x="1507.5" y="209.8" font-size="23" fill="#000" text-anchor="end" font-weight="bold" >5</text>
<line x1="1517.3" y1="109.4" x2="1526.3" y2="109.4" stroke="#000" stroke-width="2" />
<text x="1507.5" y="117.7" font-size="23" fill="#000" text-anchor="end" font-weight="bold" >10</text>
<line x1="1517.3" y1="17.3" x2="1526.3" y2="17.3" stroke="#000" stroke-width="2" />
<text x="1507.5" y="25.6" font-size="23" fill="#000" text-anchor="end" font-weight="bold" >15</text>
<line x1="1521.8" y1="247.6" x2="1526.3" y2="247.6" stroke="#000" stroke-width="2" />
<line x1="1521.8" y1="155.5" x2="1526.3" y2="155.5" stroke="#000" stroke-width="2" />
<line x1="1521.8" y1="63.4" x2="1526.3" y2="63.4" stroke="#000" stroke-width="2" />
<line x1="1526.3" y1="293.6" x2="1526.3" y2="302.6" stroke="#000" stroke-width="2" />
<text x="1526.3" y="330.5" font-size="23" fill="#000" text-anchor="middle" font-weight="bold" >1</text>
<line x1="1631.5" y1="293.6" x2="1631.5" y2="302.6" stroke="#000" stroke-width="2" />
<text x="1631.5" y="330.5" font-size="23" fill="#000" text-anchor="middle" font-weight="bold" >2</text>
<line x1="1736.8" y1="293.6" x2="1736.8" y2="302.6" stroke="#000" stroke-width="2" />
<text x="1736.8" y="330.5" font-size="23" fill="#000" text-anchor="middle" font-weight="bold" >3</text>
<line x1="1842.0" y1="293.6" x2="1842.0" y2="302.6" stroke="#000" stroke-width="2" />
<text x="1842.0" y="330.5" font-size="23" fill="#000" text-anchor="middle" font-weight="bold" >4</text>
<line x1="1947.3" y1="293.6" x2="1947.3" y2="302.6" stroke="#000" stroke-width="2" />
<text x="1947.3" y="330.5" font-size="23" fill="#000" text-anchor="middle" font-weight="bold" >5</text>
<line x1="2052.5" y1="293.6" x2="2052.5" y2="302.6" stroke="#000" stroke-width="2" />
<text x="2052.5" y="330.5" font-size="23" fill="#000" text-anchor="middle" font-weight="bold" >6</text>
<line x1="1578.9" y1="293.6" x2="1578.9" y2="298.1" stroke="#000" stroke-width="2" />
<line x1="1684.2" y1="293.6" x2="1684.2" y2="298.1" stroke="#000" stroke-width="2" />
<line x1="1789.4" y1="293.6" x2="1789.4" y2="298.1" stroke="#000" stroke-width="2" />
<line x1="1894.6" y1="293.6" x2="1894.6" y2="298.1" stroke="#000" stroke-width="2" />
<line x1="1999.9" y1="293.6" x2="1999.9" y2="298.1" stroke="#000" stroke-width="2" />
<text x="1793.7" y="370.0" font-size="27" fill="#000" text-anchor="middle" font-weight="bold" >Radial distance (Å)</text>
<text transform="translate(1460.5,155.2) rotate(-90)" font-size="27" fill="#000" text-anchor="middle" font-weight="bold">Coordination number</text>
<line x1="1548.3" y1="44.7" x2="1585.8" y2="44.7" stroke="#e8231c" stroke-width="3" />
<text x="1606.6" y="53.2" font-size="24" fill="#e8231c" text-anchor="start" font-weight="bold" >4H-IrPtNiFeCo</text>
<line x1="1548.3" y1="79.1" x2="1585.8" y2="79.1" stroke="#1c10e6" stroke-width="3" />
<text x="1606.6" y="87.7" font-size="24" fill="#1a0fe0" text-anchor="start" font-weight="bold" ><tspan font-style="italic">fcc</tspan>-IrPtNiFeCo</text>
<text transform="translate(1381.6,38.0) scale(0.975,1)" font-size="50" fill="#000" font-weight="bold">c</text>
<linearGradient id="gd" x1="0" y1="0" x2="0" y2="1"><stop offset="0" stop-color="#6470b4"/><stop offset="0.12" stop-color="#6b77b9"/><stop offset="0.5" stop-color="#a9add5"/><stop offset="0.8" stop-color="#e6e7f2"/><stop offset="0.93" stop-color="#fafafc"/><stop offset="1" stop-color="#ffffff"/></linearGradient>
<linearGradient id="gd1" x1="0" y1="0" x2="0" y2="1"><stop offset="0" stop-color="#6470b4"/><stop offset="0.45" stop-color="#a4a9d2"/><stop offset="0.85" stop-color="#f2f2f8"/><stop offset="1" stop-color="#ffffff"/></linearGradient>
<rect x="1558.9" y="602.9" width="131.2" height="66.2" fill="url(#gd1)" stroke="none" stroke-width="0" />
<rect x="1887.7" y="448.9" width="131.2" height="220.2" fill="url(#gd)" stroke="none" stroke-width="0" />
<line x1="1526.1" y1="399.1" x2="2051.6" y2="399.1" stroke="#000" stroke-width="2" />
<line x1="1526.1" y1="669.1" x2="2051.6" y2="669.1" stroke="#000" stroke-width="2" />
<line x1="1526.1" y1="399.1" x2="1526.1" y2="669.1" stroke="#5558b0" stroke-width="2" />
<line x1="1514.6" y1="669.1" x2="1526.1" y2="669.1" stroke="#5558b0" stroke-width="2" />
<text x="1502.7" y="677.4" font-size="23.3" fill="#264a5e" text-anchor="end" font-weight="bold" >3.8</text>
<line x1="1514.6" y1="601.6" x2="1526.1" y2="601.6" stroke="#5558b0" stroke-width="2" />
<text x="1502.7" y="609.9" font-size="23.3" fill="#264a5e" text-anchor="end" font-weight="bold" >3.9</text>
<line x1="1514.6" y1="534.1" x2="1526.1" y2="534.1" stroke="#5558b0" stroke-width="2" />
<text x="1502.7" y="542.4" font-size="23.3" fill="#264a5e" text-anchor="end" font-weight="bold" >4.0</text>
<line x1="1514.6" y1="466.6" x2="1526.1" y2="466.6" stroke="#5558b0" stroke-width="2" />
<text x="1502.7" y="474.9" font-size="23.3" fill="#264a5e" text-anchor="end" font-weight="bold" >4.1</text>
<line x1="1514.6" y1="399.1" x2="1526.1" y2="399.1" stroke="#5558b0" stroke-width="2" />
<text x="1502.7" y="407.4" font-size="23.3" fill="#264a5e" text-anchor="end" font-weight="bold" >4.2</text>
<line x1="1520.1" y1="635.3" x2="1526.1" y2="635.3" stroke="#5558b0" stroke-width="2" />
<line x1="1520.1" y1="567.8" x2="1526.1" y2="567.8" stroke="#5558b0" stroke-width="2" />
<line x1="1520.1" y1="500.4" x2="1526.1" y2="500.4" stroke="#5558b0" stroke-width="2" />
<line x1="1520.1" y1="432.8" x2="1526.1" y2="432.8" stroke="#5558b0" stroke-width="2" />
<line x1="2051.6" y1="399.1" x2="2051.6" y2="669.1" stroke="#4aa3ee" stroke-width="2" />
<line x1="2051.6" y1="399.1" x2="2063.6" y2="399.1" stroke="#4aa3ee" stroke-width="2" />
<text x="2075.0" y="407.4" font-size="23.3" fill="#4aa3ee" text-anchor="start" font-weight="bold" >−1.3</text>
<line x1="2051.6" y1="466.6" x2="2063.6" y2="466.6" stroke="#4aa3ee" stroke-width="2" />
<text x="2075.0" y="474.9" font-size="23.3" fill="#4aa3ee" text-anchor="start" font-weight="bold" >−1.4</text>
<line x1="2051.6" y1="534.1" x2="2063.6" y2="534.1" stroke="#4aa3ee" stroke-width="2" />
<text x="2075.0" y="542.4" font-size="23.3" fill="#4aa3ee" text-anchor="start" font-weight="bold" >−1.5</text>
<line x1="2051.6" y1="601.6" x2="2063.6" y2="601.6" stroke="#4aa3ee" stroke-width="2" />
<text x="2075.0" y="609.9" font-size="23.3" fill="#4aa3ee" text-anchor="start" font-weight="bold" >−1.6</text>
<line x1="2051.6" y1="669.1" x2="2063.6" y2="669.1" stroke="#4aa3ee" stroke-width="2" />
<text x="2075.0" y="677.4" font-size="23.3" fill="#4aa3ee" text-anchor="start" font-weight="bold" >−1.7</text>
<line x1="2051.6" y1="432.9" x2="2058.1" y2="432.9" stroke="#4aa3ee" stroke-width="2" />
<line x1="2051.6" y1="500.4" x2="2058.1" y2="500.4" stroke="#4aa3ee" stroke-width="2" />
<line x1="2051.6" y1="567.9" x2="2058.1" y2="567.9" stroke="#4aa3ee" stroke-width="2" />
<line x1="2051.6" y1="635.4" x2="2058.1" y2="635.4" stroke="#4aa3ee" stroke-width="2" />
<text transform="translate(1448.4,530.8) rotate(-90)" font-size="27" fill="#264a5e" text-anchor="middle" font-weight="bold">Work function (eV)</text>
<text transform="translate(2146.2,533.6) rotate(90)" font-size="27" fill="#4aa3ee" text-anchor="middle" font-weight="bold">d-band center (eV)</text>
<line x1="1624.5" y1="669.1" x2="1624.5" y2="680.1" stroke="#000" stroke-width="2" />
<line x1="1953.8" y1="669.1" x2="1953.8" y2="680.1" stroke="#000" stroke-width="2" />
<text x="1628.4" y="720.0" font-size="24" fill="#e8231c" text-anchor="middle" font-weight="bold" >4H-IrPtNiFeCo</text>
<text x="1959.7" y="720.0" font-size="24" fill="#1a0fe0" text-anchor="middle" font-weight="bold" ><tspan font-style="italic">fcc</tspan>-IrPtNiFeCo</text>
<line x1="1638.0" y1="488.8" x2="1942.0" y2="590.2" stroke="#4aa3ee" stroke-width="7" stroke-linecap="round"/>
<rect x="1616.0" y="475.7" width="17.5" height="17.0" fill="#4aa3ee" stroke="none" stroke-width="0" />
<rect x="1945.0" y="585.3" width="17.5" height="17.0" fill="#4aa3ee" stroke="none" stroke-width="0" />
<text x="1622.6" y="457.8" font-size="23.5" fill="#000" text-anchor="middle" font-weight="bold" >−1.43</text>
<text x="1617.9" y="585.2" font-size="23.5" fill="#000" text-anchor="middle" font-weight="bold" >3.90</text>
<text x="1948.1" y="429.6" font-size="23.5" fill="#000" text-anchor="middle" font-weight="bold" >4.13</text>
<text x="1948.1" y="568.3" font-size="23.5" fill="#000" text-anchor="middle" font-weight="bold" >−1.59</text>
<text transform="translate(1381.2,413.5) scale(1.0,1)" font-size="50" fill="#000" font-weight="bold">d</text>
<clipPath id="clipe"><rect x="114.0" y="775.1" width="527.8" height="386.7"/></clipPath>
<g clip-path="url(#clipe)" stroke-linejoin="round">
<path d="M114.1,968.5 C125.6,968.0 167.2,967.9 183.2,965.3 C199.2,962.7 203.2,959.6 209.9,953.1 C216.6,946.6 218.8,935.4 223.2,926.5 C227.6,917.6 232.1,907.4 236.5,899.9 C240.9,892.4 244.5,887.0 249.8,881.5 C255.1,876.0 262.8,875.2 268.1,866.6 C273.4,858.0 277.3,841.0 281.5,829.9 C285.7,818.8 290.1,805.3 293.1,800.0 C296.2,794.7 297.3,797.5 299.8,798.3 C302.3,799.1 305.6,802.9 308.1,805.0 C310.6,807.1 312.2,810.4 314.7,810.8 C317.2,811.2 320.6,807.1 323.1,807.5 C325.6,807.9 326.4,807.1 329.7,813.3 C333.0,819.5 338.1,835.9 343.1,844.9 C348.1,853.9 354.1,865.3 359.7,867.4 C365.2,869.5 372.5,858.5 376.4,857.4 C380.3,856.2 380.7,858.7 383.0,860.5 C385.3,862.3 387.5,864.4 390.0,868.0 C392.5,871.6 395.4,876.3 398.0,882.0 C400.6,887.7 403.7,896.0 405.9,902.0 C408.1,908.0 409.1,912.5 411.0,918.0 C412.9,923.5 414.1,931.5 417.6,934.8 C421.1,938.0 427.1,936.6 432.0,937.5 C436.9,938.4 443.0,938.7 447.3,940.0 C451.6,941.3 453.8,942.8 457.7,945.2 C461.6,947.6 466.4,951.7 470.7,954.3 C475.0,956.9 477.1,959.1 483.6,960.8 C490.2,962.5 483.7,963.5 510.0,964.5 C536.3,965.5 619.7,966.6 641.6,967.0 L641.6,966.5 L114.1,968.5 Z" fill="#e2cc80" stroke="none"/>
<path d="M114.1,968.5 C125.6,968.0 167.2,967.9 183.2,965.3 C199.2,962.7 203.2,959.6 209.9,953.1 C216.6,946.6 218.8,935.4 223.2,926.5 C227.6,917.6 232.1,907.4 236.5,899.9 C240.9,892.4 244.5,887.0 249.8,881.5 C255.1,876.0 262.8,875.2 268.1,866.6 C273.4,858.0 277.3,841.0 281.5,829.9 C285.7,818.8 290.1,805.3 293.1,800.0 C296.2,794.7 297.3,797.5 299.8,798.3 C302.3,799.1 305.6,802.9 308.1,805.0 C310.6,807.1 312.2,810.4 314.7,810.8 C317.2,811.2 320.6,807.1 323.1,807.5 C325.6,807.9 326.4,807.1 329.7,813.3 C333.0,819.5 338.1,835.9 343.1,844.9 C348.1,853.9 354.1,865.3 359.7,867.4 C365.2,869.5 372.5,858.5 376.4,857.4 C380.3,856.2 380.7,858.7 383.0,860.5 C385.3,862.3 387.5,864.4 390.0,868.0 C392.5,871.6 395.4,876.3 398.0,882.0 C400.6,887.7 403.7,896.0 405.9,902.0 C408.1,908.0 409.1,912.5 411.0,918.0 C412.9,923.5 414.1,931.5 417.6,934.8 C421.1,938.0 427.1,936.6 432.0,937.5 C436.9,938.4 443.0,938.7 447.3,940.0 C451.6,941.3 453.8,942.8 457.7,945.2 C461.6,947.6 466.4,951.7 470.7,954.3 C475.0,956.9 477.1,959.1 483.6,960.8 C490.2,962.5 483.7,963.5 510.0,964.5 C536.3,965.5 619.7,966.6 641.6,967.0" fill="none" stroke="#d8b040" stroke-width="3"/>
<path d="M114.1,968.1 C124.5,967.5 164.4,966.2 176.5,964.8 C188.6,963.4 182.9,963.4 186.5,959.8 C190.1,956.2 194.3,949.9 198.2,943.2 C202.1,936.5 206.3,925.6 209.9,919.8 C213.5,914.0 216.2,912.9 219.8,908.2 C223.4,903.5 228.2,897.3 231.5,891.5 C234.8,885.7 237.3,877.6 239.8,873.2 C242.3,868.8 244.0,865.9 246.5,865.2 C249.0,864.5 251.8,868.6 254.8,869.1 C257.9,869.6 261.5,867.2 264.8,868.2 C268.1,869.2 270.9,872.7 274.8,874.9 C278.7,877.1 283.1,882.5 288.1,881.5 C293.1,880.5 299.5,868.8 304.8,869.1 C310.1,869.4 314.7,879.6 319.7,883.2 C324.7,886.8 329.1,892.0 334.7,890.7 C340.2,889.5 347.4,877.8 353.0,875.7 C358.6,873.6 362.3,880.2 368.0,878.2 C373.7,876.2 382.4,864.8 387.0,863.4 C391.6,862.0 392.8,865.8 395.5,870.1 C398.2,874.5 400.7,882.4 403.3,889.5 C405.9,896.6 408.7,907.0 411.1,912.8 C413.5,918.6 415.2,922.0 417.6,924.5 C420.0,927.0 422.1,927.9 425.3,927.7 C428.5,927.5 433.3,926.3 437.0,923.2 C440.7,920.1 443.9,913.6 447.3,908.9 C450.8,904.1 454.7,895.8 457.7,894.7 C460.7,893.6 462.5,896.5 465.5,902.5 C468.5,908.5 472.4,922.8 475.8,931.0 C479.2,939.2 482.7,947.0 486.2,951.7 C489.7,956.5 492.7,958.8 496.6,959.5 C500.5,960.2 505.6,956.9 509.5,956.2 C513.4,955.6 516.0,954.6 519.9,955.6 C523.8,956.6 528.0,961.0 532.8,962.0 C537.5,963.0 542.6,961.4 548.4,961.4 C554.2,961.4 562.4,962.0 567.8,962.0 C573.2,962.0 576.4,961.1 580.7,961.4 C585.0,961.7 583.6,963.7 593.7,964.0 C603.9,964.3 633.6,963.4 641.6,963.3 L641.6,965.5 L114.1,968.5 Z" fill="#e2606d" fill-opacity="0.8" stroke="none"/>
<path d="M114.1,968.1 C124.5,967.5 164.4,966.2 176.5,964.8 C188.6,963.4 182.9,963.4 186.5,959.8 C190.1,956.2 194.3,949.9 198.2,943.2 C202.1,936.5 206.3,925.6 209.9,919.8 C213.5,914.0 216.2,912.9 219.8,908.2 C223.4,903.5 228.2,897.3 231.5,891.5 C234.8,885.7 237.3,877.6 239.8,873.2 C242.3,868.8 244.0,865.9 246.5,865.2 C249.0,864.5 251.8,868.6 254.8,869.1 C257.9,869.6 261.5,867.2 264.8,868.2 C268.1,869.2 270.9,872.7 274.8,874.9 C278.7,877.1 283.1,882.5 288.1,881.5 C293.1,880.5 299.5,868.8 304.8,869.1 C310.1,869.4 314.7,879.6 319.7,883.2 C324.7,886.8 329.1,892.0 334.7,890.7 C340.2,889.5 347.4,877.8 353.0,875.7 C358.6,873.6 362.3,880.2 368.0,878.2 C373.7,876.2 382.4,864.8 387.0,863.4 C391.6,862.0 392.8,865.8 395.5,870.1 C398.2,874.5 400.7,882.4 403.3,889.5 C405.9,896.6 408.7,907.0 411.1,912.8 C413.5,918.6 415.2,922.0 417.6,924.5 C420.0,927.0 422.1,927.9 425.3,927.7 C428.5,927.5 433.3,926.3 437.0,923.2 C440.7,920.1 443.9,913.6 447.3,908.9 C450.8,904.1 454.7,895.8 457.7,894.7 C460.7,893.6 462.5,896.5 465.5,902.5 C468.5,908.5 472.4,922.8 475.8,931.0 C479.2,939.2 482.7,947.0 486.2,951.7 C489.7,956.5 492.7,958.8 496.6,959.5 C500.5,960.2 505.6,956.9 509.5,956.2 C513.4,955.6 516.0,954.6 519.9,955.6 C523.8,956.6 528.0,961.0 532.8,962.0 C537.5,963.0 542.6,961.4 548.4,961.4 C554.2,961.4 562.4,962.0 567.8,962.0 C573.2,962.0 576.4,961.1 580.7,961.4 C585.0,961.7 583.6,963.7 593.7,964.0 C603.9,964.3 633.6,963.4 641.6,963.3" fill="none" stroke="#ec3a3e" stroke-width="3.2"/>
<path d="M114.1,1161.8 C124.5,1161.3 163.3,1160.5 176.5,1159.0 C189.7,1157.5 188.2,1155.8 193.2,1153.1 C198.2,1150.4 202.6,1146.8 206.5,1142.6 C210.4,1138.3 213.2,1133.7 216.5,1127.6 C219.8,1121.5 223.2,1111.8 226.5,1105.8 C229.8,1099.8 233.4,1094.8 236.5,1091.6 C239.6,1088.4 242.0,1089.5 244.8,1086.6 C247.6,1083.7 250.3,1078.9 253.1,1074.0 C255.9,1069.1 259.0,1061.1 261.5,1057.4 C264.0,1053.7 265.6,1054.2 268.1,1051.6 C270.6,1049.0 272.9,1044.6 276.5,1041.6 C280.1,1038.5 285.1,1037.0 289.8,1033.3 C294.5,1029.5 300.9,1020.8 304.8,1019.1 C308.7,1017.4 308.1,1019.1 313.1,1023.3 C318.1,1027.5 329.7,1041.0 334.7,1044.1 C339.7,1047.1 338.9,1044.5 343.1,1041.6 C347.3,1038.7 354.1,1028.5 359.7,1026.6 C365.2,1024.6 372.5,1028.2 376.4,1029.9 C380.3,1031.6 381.1,1034.2 383.0,1036.6 C384.9,1039.0 385.5,1037.5 387.8,1044.2 C390.1,1050.9 393.8,1066.4 396.8,1076.6 C399.8,1086.8 402.9,1097.8 405.9,1105.1 C408.9,1112.4 411.8,1116.7 415.0,1120.6 C418.2,1124.5 421.4,1126.8 425.3,1128.4 C429.2,1130.0 432.9,1129.0 438.3,1130.3 C443.7,1131.6 452.3,1133.4 457.7,1136.1 C463.1,1138.8 466.4,1143.5 470.7,1146.5 C475.0,1149.5 479.3,1152.3 483.6,1154.3 C487.9,1156.2 490.5,1157.2 496.6,1158.2 C502.7,1159.2 495.8,1160.0 520.0,1160.5 C544.2,1161.0 621.3,1160.9 641.6,1161.0 L641.6,1159.8 L114.1,1161.8 Z" fill="#e2cc80" stroke="none"/>
<path d="M114.1,1161.8 C124.5,1161.3 163.3,1160.5 176.5,1159.0 C189.7,1157.5 188.2,1155.8 193.2,1153.1 C198.2,1150.4 202.6,1146.8 206.5,1142.6 C210.4,1138.3 213.2,1133.7 216.5,1127.6 C219.8,1121.5 223.2,1111.8 226.5,1105.8 C229.8,1099.8 233.4,1094.8 236.5,1091.6 C239.6,1088.4 242.0,1089.5 244.8,1086.6 C247.6,1083.7 250.3,1078.9 253.1,1074.0 C255.9,1069.1 259.0,1061.1 261.5,1057.4 C264.0,1053.7 265.6,1054.2 268.1,1051.6 C270.6,1049.0 272.9,1044.6 276.5,1041.6 C280.1,1038.5 285.1,1037.0 289.8,1033.3 C294.5,1029.5 300.9,1020.8 304.8,1019.1 C308.7,1017.4 308.1,1019.1 313.1,1023.3 C318.1,1027.5 329.7,1041.0 334.7,1044.1 C339.7,1047.1 338.9,1044.5 343.1,1041.6 C347.3,1038.7 354.1,1028.5 359.7,1026.6 C365.2,1024.6 372.5,1028.2 376.4,1029.9 C380.3,1031.6 381.1,1034.2 383.0,1036.6 C384.9,1039.0 385.5,1037.5 387.8,1044.2 C390.1,1050.9 393.8,1066.4 396.8,1076.6 C399.8,1086.8 402.9,1097.8 405.9,1105.1 C408.9,1112.4 411.8,1116.7 415.0,1120.6 C418.2,1124.5 421.4,1126.8 425.3,1128.4 C429.2,1130.0 432.9,1129.0 438.3,1130.3 C443.7,1131.6 452.3,1133.4 457.7,1136.1 C463.1,1138.8 466.4,1143.5 470.7,1146.5 C475.0,1149.5 479.3,1152.3 483.6,1154.3 C487.9,1156.2 490.5,1157.2 496.6,1158.2 C502.7,1159.2 495.8,1160.0 520.0,1160.5 C544.2,1161.0 621.3,1160.9 641.6,1161.0" fill="none" stroke="#d8b040" stroke-width="3"/>
<path d="M114.1,1161.5 C121.7,1161.3 148.9,1160.9 159.9,1160.6 C170.9,1160.3 174.4,1160.8 179.9,1159.8 C185.4,1158.8 188.8,1157.6 193.2,1154.8 C197.6,1152.0 202.6,1147.6 206.5,1143.2 C210.4,1138.8 213.2,1134.3 216.5,1128.2 C219.8,1122.1 223.2,1112.5 226.5,1106.5 C229.8,1100.5 233.4,1095.6 236.5,1092.4 C239.6,1089.2 242.0,1090.3 244.8,1087.4 C247.6,1084.5 250.3,1079.8 253.1,1074.9 C255.9,1070.0 259.0,1061.8 261.5,1058.2 C264.0,1054.6 265.6,1052.9 268.1,1053.2 C270.6,1053.5 272.3,1057.1 276.5,1059.9 C280.7,1062.7 287.6,1069.4 293.1,1069.9 C298.7,1070.5 305.1,1065.4 309.8,1063.2 C314.5,1061.0 317.8,1056.6 321.4,1056.6 C325.0,1056.6 327.8,1061.1 331.4,1063.2 C335.0,1065.3 338.7,1069.6 343.1,1069.1 C347.5,1068.5 353.9,1062.0 358.0,1059.9 C362.1,1057.8 364.3,1056.8 368.0,1056.6 C371.7,1056.3 376.7,1057.2 380.0,1058.4 C383.3,1059.6 385.0,1058.8 387.8,1063.6 C390.6,1068.3 393.8,1078.7 396.8,1086.9 C399.8,1095.1 402.9,1107.2 405.9,1112.8 C408.9,1118.4 412.0,1119.5 415.0,1120.6 C418.0,1121.7 420.8,1121.2 424.0,1119.3 C427.2,1117.3 430.9,1112.4 434.4,1108.9 C437.9,1105.5 440.9,1101.8 444.8,1098.6 C448.7,1095.4 454.2,1090.2 457.7,1089.5 C461.1,1088.8 462.9,1090.4 465.5,1094.7 C468.1,1099.0 470.3,1107.6 473.3,1115.4 C476.3,1123.2 480.2,1135.9 483.6,1141.3 C487.1,1146.7 490.6,1146.3 494.0,1147.8 C497.4,1149.3 500.6,1149.1 504.3,1150.4 C508.0,1151.7 508.6,1154.7 516.0,1155.6 C523.4,1156.5 539.8,1154.9 548.4,1155.6 C557.0,1156.2 560.2,1159.2 567.8,1159.5 C575.3,1159.8 586.2,1157.4 593.7,1157.5 C601.2,1157.6 605.1,1159.9 613.1,1160.1 C621.1,1160.3 636.9,1159.0 641.6,1158.8 L641.6,1158.8 L114.1,1161.8 Z" fill="#e2606d" fill-opacity="0.8" stroke="none"/>
<path d="M114.1,1161.5 C121.7,1161.3 148.9,1160.9 159.9,1160.6 C170.9,1160.3 174.4,1160.8 179.9,1159.8 C185.4,1158.8 188.8,1157.6 193.2,1154.8 C197.6,1152.0 202.6,1147.6 206.5,1143.2 C210.4,1138.8 213.2,1134.3 216.5,1128.2 C219.8,1122.1 223.2,1112.5 226.5,1106.5 C229.8,1100.5 233.4,1095.6 236.5,1092.4 C239.6,1089.2 242.0,1090.3 244.8,1087.4 C247.6,1084.5 250.3,1079.8 253.1,1074.9 C255.9,1070.0 259.0,1061.8 261.5,1058.2 C264.0,1054.6 265.6,1052.9 268.1,1053.2 C270.6,1053.5 272.3,1057.1 276.5,1059.9 C280.7,1062.7 287.6,1069.4 293.1,1069.9 C298.7,1070.5 305.1,1065.4 309.8,1063.2 C314.5,1061.0 317.8,1056.6 321.4,1056.6 C325.0,1056.6 327.8,1061.1 331.4,1063.2 C335.0,1065.3 338.7,1069.6 343.1,1069.1 C347.5,1068.5 353.9,1062.0 358.0,1059.9 C362.1,1057.8 364.3,1056.8 368.0,1056.6 C371.7,1056.3 376.7,1057.2 380.0,1058.4 C383.3,1059.6 385.0,1058.8 387.8,1063.6 C390.6,1068.3 393.8,1078.7 396.8,1086.9 C399.8,1095.1 402.9,1107.2 405.9,1112.8 C408.9,1118.4 412.0,1119.5 415.0,1120.6 C418.0,1121.7 420.8,1121.2 424.0,1119.3 C427.2,1117.3 430.9,1112.4 434.4,1108.9 C437.9,1105.5 440.9,1101.8 444.8,1098.6 C448.7,1095.4 454.2,1090.2 457.7,1089.5 C461.1,1088.8 462.9,1090.4 465.5,1094.7 C468.1,1099.0 470.3,1107.6 473.3,1115.4 C476.3,1123.2 480.2,1135.9 483.6,1141.3 C487.1,1146.7 490.6,1146.3 494.0,1147.8 C497.4,1149.3 500.6,1149.1 504.3,1150.4 C508.0,1151.7 508.6,1154.7 516.0,1155.6 C523.4,1156.5 539.8,1154.9 548.4,1155.6 C557.0,1156.2 560.2,1159.2 567.8,1159.5 C575.3,1159.8 586.2,1157.4 593.7,1157.5 C601.2,1157.6 605.1,1159.9 613.1,1160.1 C621.1,1160.3 636.9,1159.0 641.6,1158.8" fill="none" stroke="#ec3a3e" stroke-width="3.2"/>
<line x1="114.0" y1="968.3" x2="641.8" y2="964.5" stroke="#ec3a3e" stroke-width="3.2" />
</g>
<line x1="415.5" y1="777.1" x2="415.5" y2="1161.8" stroke="#000" stroke-width="2.2" stroke-dasharray="5,3.5"/>
<rect x="114.0" y="775.1" width="527.8" height="386.7" fill="none" stroke="#000" stroke-width="2" />
<line x1="114.0" y1="1161.8" x2="114.0" y2="1169.8" stroke="#000" stroke-width="2" />
<text x="114.0" y="1198.8" font-size="23.3" fill="#000" text-anchor="middle" font-weight="bold" >−8</text>
<line x1="151.7" y1="1161.8" x2="151.7" y2="1166.3" stroke="#000" stroke-width="2" />
<line x1="189.4" y1="1161.8" x2="189.4" y2="1169.8" stroke="#000" stroke-width="2" />
<text x="189.4" y="1198.8" font-size="23.3" fill="#000" text-anchor="middle" font-weight="bold" >−6</text>
<line x1="227.1" y1="1161.8" x2="227.1" y2="1166.3" stroke="#000" stroke-width="2" />
<line x1="264.8" y1="1161.8" x2="264.8" y2="1169.8" stroke="#000" stroke-width="2" />
<text x="264.8" y="1198.8" font-size="23.3" fill="#000" text-anchor="middle" font-weight="bold" >−4</text>
<line x1="302.5" y1="1161.8" x2="302.5" y2="1166.3" stroke="#000" stroke-width="2" />
<line x1="340.2" y1="1161.8" x2="340.2" y2="1169.8" stroke="#000" stroke-width="2" />
<text x="340.2" y="1198.8" font-size="23.3" fill="#000" text-anchor="middle" font-weight="bold" >−2</text>
<line x1="377.9" y1="1161.8" x2="377.9" y2="1166.3" stroke="#000" stroke-width="2" />
<line x1="415.6" y1="1161.8" x2="415.6" y2="1169.8" stroke="#000" stroke-width="2" />
<text x="415.6" y="1198.8" font-size="23.3" fill="#000" text-anchor="middle" font-weight="bold" >0</text>
<line x1="453.3" y1="1161.8" x2="453.3" y2="1166.3" stroke="#000" stroke-width="2" />
<line x1="491.0" y1="1161.8" x2="491.0" y2="1169.8" stroke="#000" stroke-width="2" />
<text x="491.0" y="1198.8" font-size="23.3" fill="#000" text-anchor="middle" font-weight="bold" >2</text>
<line x1="528.7" y1="1161.8" x2="528.7" y2="1166.3" stroke="#000" stroke-width="2" />
<line x1="566.4" y1="1161.8" x2="566.4" y2="1169.8" stroke="#000" stroke-width="2" />
<text x="566.4" y="1198.8" font-size="23.3" fill="#000" text-anchor="middle" font-weight="bold" >4</text>
<line x1="604.1" y1="1161.8" x2="604.1" y2="1166.3" stroke="#000" stroke-width="2" />
<line x1="641.8" y1="1161.8" x2="641.8" y2="1169.8" stroke="#000" stroke-width="2" />
<text x="641.8" y="1198.8" font-size="23.3" fill="#000" text-anchor="middle" font-weight="bold" >6</text>
<text x="378.6" y="1237.3" font-size="27" fill="#000" text-anchor="middle" font-weight="bold" >Energy (eV)</text>
<text transform="translate(88.4,963.0) rotate(-90)" font-size="27" fill="#000" text-anchor="middle" font-weight="bold">PDOS (a.u.)</text>
<text x="214.0" y="807.5" font-size="24" fill="#e07038" text-anchor="start" font-weight="bold" >Pt-5d</text>
<text x="154.6" y="895.7" font-size="24" fill="#e8201c" text-anchor="start" font-weight="bold" >Ir-5d</text>
<text x="222.3" y="1015.8" font-size="24" fill="#e07038" text-anchor="start" font-weight="bold" >Pt-5d</text>
<text x="155.7" y="1101.2" font-size="24" fill="#e8201c" text-anchor="start" font-weight="bold" >Ir-5d</text>
<text x="380.5" y="806.0" font-size="23.6" fill="#000" text-anchor="start" font-weight="bold" >E</text>
<text x="396.8" y="810.8" font-size="16" fill="#000" text-anchor="start" font-weight="bold" >F</text>
<text x="629.3" y="808.6" font-size="24" fill="#e8231c" text-anchor="end" font-weight="bold" >4H-IrPtNiFeCo</text>
<text x="632.6" y="1001.7" font-size="24" fill="#1a0fe0" text-anchor="end" font-weight="bold" ><tspan font-style="italic">fcc</tspan>-IrPtNiFeCo</text>
<text transform="translate(67.0,796.0) scale(1.0,1)" font-size="50" fill="#000" font-weight="bold">e</text>
<clipPath id="clipf"><rect x="812.5" y="774.3" width="528.2" height="387.0"/></clipPath>
<g clip-path="url(#clipf)" stroke-linejoin="round">
<clipPath id="cco0"><path d="M812.6,985.0 C824.7,984.9 866.1,985.0 885.1,984.4 C904.1,983.8 917.5,982.3 926.6,981.1 C935.7,979.9 934.1,978.3 939.5,977.2 C944.9,976.1 953.5,975.8 958.9,974.6 C964.3,973.4 967.6,971.6 971.9,970.1 C976.2,968.6 980.5,966.2 984.8,965.6 C989.1,965.0 993.9,966.6 997.8,966.2 C1001.7,965.8 1005.0,965.7 1008.2,963.0 C1011.4,960.3 1013.5,955.4 1017.2,950.0 C1020.9,944.6 1026.3,934.7 1030.2,930.6 C1034.1,926.5 1037.0,927.6 1040.5,925.4 C1044.0,923.2 1047.9,920.6 1050.9,917.6 C1053.9,914.6 1055.7,911.2 1058.7,907.3 C1061.7,903.4 1065.5,897.8 1069.0,894.3 C1072.5,890.8 1076.5,888.2 1079.4,886.6 C1082.3,885.0 1083.9,883.9 1086.4,884.7 C1088.9,885.5 1091.5,887.3 1094.3,891.3 C1097.1,895.2 1099.8,903.1 1103.5,908.4 C1107.2,913.7 1112.5,921.4 1116.7,922.9 C1120.9,924.4 1124.3,919.1 1128.5,917.6 C1132.7,916.1 1136.9,915.2 1141.7,913.7 C1146.5,912.2 1153.1,908.4 1157.5,908.4 C1161.9,908.4 1165.0,911.9 1168.1,913.7 C1171.2,915.5 1173.4,917.9 1176.0,919.0 C1178.6,920.1 1181.3,918.5 1183.9,920.3 C1186.5,922.0 1189.2,925.5 1191.8,929.5 C1194.4,933.5 1196.6,940.0 1199.7,944.0 C1202.8,948.0 1207.2,951.0 1210.3,953.2 C1213.4,955.4 1215.6,955.0 1218.2,957.2 C1220.8,959.4 1223.2,963.3 1226.1,966.4 C1228.9,969.5 1231.8,973.4 1235.3,975.6 C1238.8,977.8 1241.3,978.6 1247.2,979.6 C1253.1,980.6 1255.3,980.9 1270.9,981.6 C1286.5,982.3 1329.2,983.3 1340.8,983.6 L1340.8,985.5 L812.6,985.5 Z"/></clipPath>
<path d="M812.6,985.0 C824.7,984.8 867.2,984.5 885.1,983.7 C903.0,983.0 912.1,982.0 920.1,980.5 C928.1,979.0 928.7,976.6 933.0,974.6 C937.3,972.6 941.7,969.7 946.0,968.2 C950.3,966.7 954.4,966.9 958.9,965.6 C963.4,964.3 968.9,962.8 973.2,960.4 C977.5,958.0 980.7,954.8 984.8,951.3 C988.9,947.8 993.9,943.4 997.8,939.7 C1001.7,936.0 1005.0,933.0 1008.2,929.3 C1011.4,925.6 1014.4,920.5 1017.2,917.6 C1020.0,914.7 1021.8,912.4 1025.0,911.8 C1028.2,911.2 1032.2,914.3 1036.7,913.8 C1041.2,913.3 1048.5,909.0 1052.2,908.6 C1055.9,908.2 1056.3,908.8 1058.7,911.2 C1061.1,913.6 1063.6,918.3 1066.4,922.8 C1069.2,927.3 1072.2,934.5 1075.5,938.4 C1078.8,942.3 1081.9,945.0 1085.9,946.4 C1089.9,947.8 1093.9,946.8 1099.5,946.6 C1105.1,946.4 1113.8,944.6 1119.3,945.3 C1124.8,946.0 1128.1,948.8 1132.5,950.6 C1136.9,952.4 1141.1,955.5 1145.7,955.9 C1150.3,956.3 1156.2,954.8 1160.2,953.2 C1164.2,951.7 1166.3,949.7 1169.4,946.6 C1172.5,943.5 1176.0,939.4 1178.6,934.8 C1181.2,930.2 1183.0,924.5 1185.2,919.0 C1187.4,913.5 1189.6,907.1 1191.8,901.8 C1194.0,896.5 1196.6,890.3 1198.4,887.3 C1200.2,884.3 1200.6,883.3 1202.4,884.0 C1204.2,884.7 1206.8,887.2 1209.0,891.3 C1211.2,895.4 1213.2,901.1 1215.6,908.4 C1218.0,915.6 1220.9,926.4 1223.5,934.8 C1226.1,943.1 1228.6,952.1 1231.4,958.5 C1234.2,964.9 1237.3,969.7 1240.6,973.0 C1243.9,976.3 1246.0,977.0 1251.1,978.3 C1256.1,979.6 1256.0,980.0 1270.9,980.9 C1285.9,981.8 1329.2,983.1 1340.8,983.6 L1340.8,985.5 L812.6,985.5 Z" fill="#8ed4f8"/>
<path d="M812.6,985.0 C824.7,984.8 867.2,984.5 885.1,983.7 C903.0,983.0 912.1,982.0 920.1,980.5 C928.1,979.0 928.7,976.6 933.0,974.6 C937.3,972.6 941.7,969.7 946.0,968.2 C950.3,966.7 954.4,966.9 958.9,965.6 C963.4,964.3 968.9,962.8 973.2,960.4 C977.5,958.0 980.7,954.8 984.8,951.3 C988.9,947.8 993.9,943.4 997.8,939.7 C1001.7,936.0 1005.0,933.0 1008.2,929.3 C1011.4,925.6 1014.4,920.5 1017.2,917.6 C1020.0,914.7 1021.8,912.4 1025.0,911.8 C1028.2,911.2 1032.2,914.3 1036.7,913.8 C1041.2,913.3 1048.5,909.0 1052.2,908.6 C1055.9,908.2 1056.3,908.8 1058.7,911.2 C1061.1,913.6 1063.6,918.3 1066.4,922.8 C1069.2,927.3 1072.2,934.5 1075.5,938.4 C1078.8,942.3 1081.9,945.0 1085.9,946.4 C1089.9,947.8 1093.9,946.8 1099.5,946.6 C1105.1,946.4 1113.8,944.6 1119.3,945.3 C1124.8,946.0 1128.1,948.8 1132.5,950.6 C1136.9,952.4 1141.1,955.5 1145.7,955.9 C1150.3,956.3 1156.2,954.8 1160.2,953.2 C1164.2,951.7 1166.3,949.7 1169.4,946.6 C1172.5,943.5 1176.0,939.4 1178.6,934.8 C1181.2,930.2 1183.0,924.5 1185.2,919.0 C1187.4,913.5 1189.6,907.1 1191.8,901.8 C1194.0,896.5 1196.6,890.3 1198.4,887.3 C1200.2,884.3 1200.6,883.3 1202.4,884.0 C1204.2,884.7 1206.8,887.2 1209.0,891.3 C1211.2,895.4 1213.2,901.1 1215.6,908.4 C1218.0,915.6 1220.9,926.4 1223.5,934.8 C1226.1,943.1 1228.6,952.1 1231.4,958.5 C1234.2,964.9 1237.3,969.7 1240.6,973.0 C1243.9,976.3 1246.0,977.0 1251.1,978.3 C1256.1,979.6 1256.0,980.0 1270.9,980.9 C1285.9,981.8 1329.2,983.1 1340.8,983.6" fill="none" stroke="#4c9ee8" stroke-width="3.2"/>
<path d="M812.6,985.5 C827.2,985.4 874.5,986.0 900.0,985.0 C925.5,984.0 948.0,981.5 965.4,979.8 C982.8,978.1 991.3,978.3 1004.3,974.6 C1017.2,970.9 1032.3,963.8 1043.1,957.8 C1053.9,951.8 1062.8,946.4 1069.0,938.4 C1075.2,930.4 1076.9,919.0 1080.0,910.0 C1083.1,901.0 1085.3,892.7 1087.7,884.7 C1090.1,876.8 1091.7,872.6 1094.3,862.3 C1096.9,852.0 1100.9,832.6 1103.5,822.7 C1106.1,812.8 1108.2,807.1 1110.1,803.0 C1112.0,798.9 1113.0,797.6 1114.7,798.3 C1116.5,798.9 1118.1,801.1 1120.6,806.9 C1123.1,812.7 1126.8,825.2 1129.9,833.3 C1133.0,841.4 1136.5,848.0 1139.1,855.7 C1141.7,863.4 1143.3,870.6 1145.7,879.4 C1148.1,888.2 1151.0,898.9 1153.6,908.4 C1156.2,917.9 1158.4,929.1 1161.5,936.1 C1164.6,943.1 1167.0,946.2 1172.0,950.6 C1177.0,955.0 1185.2,959.0 1191.8,962.5 C1198.4,966.0 1205.0,968.6 1211.6,971.7 C1218.2,974.8 1223.3,979.0 1231.4,981.0 C1239.5,983.0 1241.8,983.3 1260.0,984.0 C1278.2,984.7 1327.3,984.8 1340.8,985.0 L1340.8,985.5 L812.6,985.5 Z" fill="#94f47a"/>
<path d="M812.6,985.5 C827.2,985.4 874.5,986.0 900.0,985.0 C925.5,984.0 948.0,981.5 965.4,979.8 C982.8,978.1 991.3,978.3 1004.3,974.6 C1017.2,970.9 1032.3,963.8 1043.1,957.8 C1053.9,951.8 1062.8,946.4 1069.0,938.4 C1075.2,930.4 1076.9,919.0 1080.0,910.0 C1083.1,901.0 1085.3,892.7 1087.7,884.7 C1090.1,876.8 1091.7,872.6 1094.3,862.3 C1096.9,852.0 1100.9,832.6 1103.5,822.7 C1106.1,812.8 1108.2,807.1 1110.1,803.0 C1112.0,798.9 1113.0,797.6 1114.7,798.3 C1116.5,798.9 1118.1,801.1 1120.6,806.9 C1123.1,812.7 1126.8,825.2 1129.9,833.3 C1133.0,841.4 1136.5,848.0 1139.1,855.7 C1141.7,863.4 1143.3,870.6 1145.7,879.4 C1148.1,888.2 1151.0,898.9 1153.6,908.4 C1156.2,917.9 1158.4,929.1 1161.5,936.1 C1164.6,943.1 1167.0,946.2 1172.0,950.6 C1177.0,955.0 1185.2,959.0 1191.8,962.5 C1198.4,966.0 1205.0,968.6 1211.6,971.7 C1218.2,974.8 1223.3,979.0 1231.4,981.0 C1239.5,983.0 1241.8,983.3 1260.0,984.0 C1278.2,984.7 1327.3,984.8 1340.8,985.0" fill="none" stroke="#55ea22" stroke-width="3.2"/>
<path d="M812.6,985.0 C824.7,984.9 866.1,985.0 885.1,984.4 C904.1,983.8 917.5,982.3 926.6,981.1 C935.7,979.9 934.1,978.3 939.5,977.2 C944.9,976.1 953.5,975.8 958.9,974.6 C964.3,973.4 967.6,971.6 971.9,970.1 C976.2,968.6 980.5,966.2 984.8,965.6 C989.1,965.0 993.9,966.6 997.8,966.2 C1001.7,965.8 1005.0,965.7 1008.2,963.0 C1011.4,960.3 1013.5,955.4 1017.2,950.0 C1020.9,944.6 1026.3,934.7 1030.2,930.6 C1034.1,926.5 1037.0,927.6 1040.5,925.4 C1044.0,923.2 1047.9,920.6 1050.9,917.6 C1053.9,914.6 1055.7,911.2 1058.7,907.3 C1061.7,903.4 1065.5,897.8 1069.0,894.3 C1072.5,890.8 1076.5,888.2 1079.4,886.6 C1082.3,885.0 1083.9,883.9 1086.4,884.7 C1088.9,885.5 1091.5,887.3 1094.3,891.3 C1097.1,895.2 1099.8,903.1 1103.5,908.4 C1107.2,913.7 1112.5,921.4 1116.7,922.9 C1120.9,924.4 1124.3,919.1 1128.5,917.6 C1132.7,916.1 1136.9,915.2 1141.7,913.7 C1146.5,912.2 1153.1,908.4 1157.5,908.4 C1161.9,908.4 1165.0,911.9 1168.1,913.7 C1171.2,915.5 1173.4,917.9 1176.0,919.0 C1178.6,920.1 1181.3,918.5 1183.9,920.3 C1186.5,922.0 1189.2,925.5 1191.8,929.5 C1194.4,933.5 1196.6,940.0 1199.7,944.0 C1202.8,948.0 1207.2,951.0 1210.3,953.2 C1213.4,955.4 1215.6,955.0 1218.2,957.2 C1220.8,959.4 1223.2,963.3 1226.1,966.4 C1228.9,969.5 1231.8,973.4 1235.3,975.6 C1238.8,977.8 1241.3,978.6 1247.2,979.6 C1253.1,980.6 1255.3,980.9 1270.9,981.6 C1286.5,982.3 1329.2,983.3 1340.8,983.6 L1340.8,985.5 L812.6,985.5 Z" fill="#ff44ff"/>
<g clip-path="url(#cco0)">
<path d="M812.6,985.5 C827.2,985.4 874.5,986.0 900.0,985.0 C925.5,984.0 948.0,981.5 965.4,979.8 C982.8,978.1 991.3,978.3 1004.3,974.6 C1017.2,970.9 1032.3,963.8 1043.1,957.8 C1053.9,951.8 1062.8,946.4 1069.0,938.4 C1075.2,930.4 1076.9,919.0 1080.0,910.0 C1083.1,901.0 1085.3,892.7 1087.7,884.7 C1090.1,876.8 1091.7,872.6 1094.3,862.3 C1096.9,852.0 1100.9,832.6 1103.5,822.7 C1106.1,812.8 1108.2,807.1 1110.1,803.0 C1112.0,798.9 1113.0,797.6 1114.7,798.3 C1116.5,798.9 1118.1,801.1 1120.6,806.9 C1123.1,812.7 1126.8,825.2 1129.9,833.3 C1133.0,841.4 1136.5,848.0 1139.1,855.7 C1141.7,863.4 1143.3,870.6 1145.7,879.4 C1148.1,888.2 1151.0,898.9 1153.6,908.4 C1156.2,917.9 1158.4,929.1 1161.5,936.1 C1164.6,943.1 1167.0,946.2 1172.0,950.6 C1177.0,955.0 1185.2,959.0 1191.8,962.5 C1198.4,966.0 1205.0,968.6 1211.6,971.7 C1218.2,974.8 1223.3,979.0 1231.4,981.0 C1239.5,983.0 1241.8,983.3 1260.0,984.0 C1278.2,984.7 1327.3,984.8 1340.8,985.0 L1340.8,985.5 L812.6,985.5 Z" fill="#e04cfc"/>
<path d="M812.6,985.0 C824.7,984.8 867.2,984.5 885.1,983.7 C903.0,983.0 912.1,982.0 920.1,980.5 C928.1,979.0 928.7,976.6 933.0,974.6 C937.3,972.6 941.7,969.7 946.0,968.2 C950.3,966.7 954.4,966.9 958.9,965.6 C963.4,964.3 968.9,962.8 973.2,960.4 C977.5,958.0 980.7,954.8 984.8,951.3 C988.9,947.8 993.9,943.4 997.8,939.7 C1001.7,936.0 1005.0,933.0 1008.2,929.3 C1011.4,925.6 1014.4,920.5 1017.2,917.6 C1020.0,914.7 1021.8,912.4 1025.0,911.8 C1028.2,911.2 1032.2,914.3 1036.7,913.8 C1041.2,913.3 1048.5,909.0 1052.2,908.6 C1055.9,908.2 1056.3,908.8 1058.7,911.2 C1061.1,913.6 1063.6,918.3 1066.4,922.8 C1069.2,927.3 1072.2,934.5 1075.5,938.4 C1078.8,942.3 1081.9,945.0 1085.9,946.4 C1089.9,947.8 1093.9,946.8 1099.5,946.6 C1105.1,946.4 1113.8,944.6 1119.3,945.3 C1124.8,946.0 1128.1,948.8 1132.5,950.6 C1136.9,952.4 1141.1,955.5 1145.7,955.9 C1150.3,956.3 1156.2,954.8 1160.2,953.2 C1164.2,951.7 1166.3,949.7 1169.4,946.6 C1172.5,943.5 1176.0,939.4 1178.6,934.8 C1181.2,930.2 1183.0,924.5 1185.2,919.0 C1187.4,913.5 1189.6,907.1 1191.8,901.8 C1194.0,896.5 1196.6,890.3 1198.4,887.3 C1200.2,884.3 1200.6,883.3 1202.4,884.0 C1204.2,884.7 1206.8,887.2 1209.0,891.3 C1211.2,895.4 1213.2,901.1 1215.6,908.4 C1218.0,915.6 1220.9,926.4 1223.5,934.8 C1226.1,943.1 1228.6,952.1 1231.4,958.5 C1234.2,964.9 1237.3,969.7 1240.6,973.0 C1243.9,976.3 1246.0,977.0 1251.1,978.3 C1256.1,979.6 1256.0,980.0 1270.9,980.9 C1285.9,981.8 1329.2,983.1 1340.8,983.6 L1340.8,985.5 L812.6,985.5 Z" fill="#d440ff"/>
<path d="M812.6,985.0 C824.7,984.8 867.2,984.5 885.1,983.7 C903.0,983.0 912.1,982.0 920.1,980.5 C928.1,979.0 928.7,976.6 933.0,974.6 C937.3,972.6 941.7,969.7 946.0,968.2 C950.3,966.7 954.4,966.9 958.9,965.6 C963.4,964.3 968.9,962.8 973.2,960.4 C977.5,958.0 980.7,954.8 984.8,951.3 C988.9,947.8 993.9,943.4 997.8,939.7 C1001.7,936.0 1005.0,933.0 1008.2,929.3 C1011.4,925.6 1014.4,920.5 1017.2,917.6 C1020.0,914.7 1021.8,912.4 1025.0,911.8 C1028.2,911.2 1032.2,914.3 1036.7,913.8 C1041.2,913.3 1048.5,909.0 1052.2,908.6 C1055.9,908.2 1056.3,908.8 1058.7,911.2 C1061.1,913.6 1063.6,918.3 1066.4,922.8 C1069.2,927.3 1072.2,934.5 1075.5,938.4 C1078.8,942.3 1081.9,945.0 1085.9,946.4 C1089.9,947.8 1093.9,946.8 1099.5,946.6 C1105.1,946.4 1113.8,944.6 1119.3,945.3 C1124.8,946.0 1128.1,948.8 1132.5,950.6 C1136.9,952.4 1141.1,955.5 1145.7,955.9 C1150.3,956.3 1156.2,954.8 1160.2,953.2 C1164.2,951.7 1166.3,949.7 1169.4,946.6 C1172.5,943.5 1176.0,939.4 1178.6,934.8 C1181.2,930.2 1183.0,924.5 1185.2,919.0 C1187.4,913.5 1189.6,907.1 1191.8,901.8 C1194.0,896.5 1196.6,890.3 1198.4,887.3 C1200.2,884.3 1200.6,883.3 1202.4,884.0 C1204.2,884.7 1206.8,887.2 1209.0,891.3 C1211.2,895.4 1213.2,901.1 1215.6,908.4 C1218.0,915.6 1220.9,926.4 1223.5,934.8 C1226.1,943.1 1228.6,952.1 1231.4,958.5 C1234.2,964.9 1237.3,969.7 1240.6,973.0 C1243.9,976.3 1246.0,977.0 1251.1,978.3 C1256.1,979.6 1256.0,980.0 1270.9,980.9 C1285.9,981.8 1329.2,983.1 1340.8,983.6" fill="none" stroke="#b23cff" stroke-width="3"/>
<path d="M812.6,985.5 C827.2,985.4 874.5,986.0 900.0,985.0 C925.5,984.0 948.0,981.5 965.4,979.8 C982.8,978.1 991.3,978.3 1004.3,974.6 C1017.2,970.9 1032.3,963.8 1043.1,957.8 C1053.9,951.8 1062.8,946.4 1069.0,938.4 C1075.2,930.4 1076.9,919.0 1080.0,910.0 C1083.1,901.0 1085.3,892.7 1087.7,884.7 C1090.1,876.8 1091.7,872.6 1094.3,862.3 C1096.9,852.0 1100.9,832.6 1103.5,822.7 C1106.1,812.8 1108.2,807.1 1110.1,803.0 C1112.0,798.9 1113.0,797.6 1114.7,798.3 C1116.5,798.9 1118.1,801.1 1120.6,806.9 C1123.1,812.7 1126.8,825.2 1129.9,833.3 C1133.0,841.4 1136.5,848.0 1139.1,855.7 C1141.7,863.4 1143.3,870.6 1145.7,879.4 C1148.1,888.2 1151.0,898.9 1153.6,908.4 C1156.2,917.9 1158.4,929.1 1161.5,936.1 C1164.6,943.1 1167.0,946.2 1172.0,950.6 C1177.0,955.0 1185.2,959.0 1191.8,962.5 C1198.4,966.0 1205.0,968.6 1211.6,971.7 C1218.2,974.8 1223.3,979.0 1231.4,981.0 C1239.5,983.0 1241.8,983.3 1260.0,984.0 C1278.2,984.7 1327.3,984.8 1340.8,985.0" fill="none" stroke="#a03cc0" stroke-width="3"/>
</g>
<path d="M812.6,985.0 C824.7,984.9 866.1,985.0 885.1,984.4 C904.1,983.8 917.5,982.3 926.6,981.1 C935.7,979.9 934.1,978.3 939.5,977.2 C944.9,976.1 953.5,975.8 958.9,974.6 C964.3,973.4 967.6,971.6 971.9,970.1 C976.2,968.6 980.5,966.2 984.8,965.6 C989.1,965.0 993.9,966.6 997.8,966.2 C1001.7,965.8 1005.0,965.7 1008.2,963.0 C1011.4,960.3 1013.5,955.4 1017.2,950.0 C1020.9,944.6 1026.3,934.7 1030.2,930.6 C1034.1,926.5 1037.0,927.6 1040.5,925.4 C1044.0,923.2 1047.9,920.6 1050.9,917.6 C1053.9,914.6 1055.7,911.2 1058.7,907.3 C1061.7,903.4 1065.5,897.8 1069.0,894.3 C1072.5,890.8 1076.5,888.2 1079.4,886.6 C1082.3,885.0 1083.9,883.9 1086.4,884.7 C1088.9,885.5 1091.5,887.3 1094.3,891.3 C1097.1,895.2 1099.8,903.1 1103.5,908.4 C1107.2,913.7 1112.5,921.4 1116.7,922.9 C1120.9,924.4 1124.3,919.1 1128.5,917.6 C1132.7,916.1 1136.9,915.2 1141.7,913.7 C1146.5,912.2 1153.1,908.4 1157.5,908.4 C1161.9,908.4 1165.0,911.9 1168.1,913.7 C1171.2,915.5 1173.4,917.9 1176.0,919.0 C1178.6,920.1 1181.3,918.5 1183.9,920.3 C1186.5,922.0 1189.2,925.5 1191.8,929.5 C1194.4,933.5 1196.6,940.0 1199.7,944.0 C1202.8,948.0 1207.2,951.0 1210.3,953.2 C1213.4,955.4 1215.6,955.0 1218.2,957.2 C1220.8,959.4 1223.2,963.3 1226.1,966.4 C1228.9,969.5 1231.8,973.4 1235.3,975.6 C1238.8,977.8 1241.3,978.6 1247.2,979.6 C1253.1,980.6 1255.3,980.9 1270.9,981.6 C1286.5,982.3 1329.2,983.3 1340.8,983.6" fill="none" stroke="#ff32fa" stroke-width="3.2"/>
<clipPath id="cco1"><path d="M812.6,1160.0 C827.2,1159.8 881.0,1159.4 900.0,1159.0 C919.0,1158.6 920.0,1158.7 926.6,1157.4 C933.2,1156.1 935.2,1152.7 939.5,1151.0 C943.8,1149.3 947.1,1148.2 952.5,1147.1 C957.9,1146.0 966.5,1146.5 971.9,1144.5 C977.3,1142.5 980.5,1139.3 984.8,1135.4 C989.1,1131.5 993.5,1125.5 997.8,1121.2 C1002.1,1116.9 1006.4,1113.2 1010.7,1109.5 C1015.0,1105.8 1019.4,1101.5 1023.7,1099.2 C1028.0,1096.9 1030.2,1096.6 1036.7,1095.9 C1043.2,1095.2 1054.8,1096.8 1062.6,1095.3 C1070.4,1093.8 1078.2,1087.6 1083.7,1086.8 C1089.2,1086.0 1091.2,1088.7 1095.6,1090.7 C1100.0,1092.7 1106.1,1096.6 1110.1,1098.6 C1114.0,1100.6 1116.2,1101.3 1119.3,1102.6 C1122.4,1103.9 1125.2,1104.8 1128.5,1106.5 C1131.8,1108.2 1135.6,1111.3 1139.1,1113.1 C1142.6,1114.9 1146.1,1117.3 1149.6,1117.1 C1153.1,1116.9 1156.7,1114.0 1160.2,1111.8 C1163.7,1109.6 1167.2,1105.7 1170.7,1103.9 C1174.2,1102.2 1178.2,1101.5 1181.3,1101.3 C1184.4,1101.1 1186.3,1101.1 1189.2,1102.6 C1192.1,1104.1 1194.7,1106.8 1198.4,1110.5 C1202.1,1114.2 1207.2,1120.0 1211.6,1125.0 C1216.0,1130.0 1220.8,1136.4 1224.8,1140.8 C1228.8,1145.2 1231.6,1148.7 1235.3,1151.4 C1239.0,1154.2 1241.3,1156.0 1247.2,1157.3 C1253.1,1158.6 1255.3,1158.9 1270.9,1159.3 C1286.5,1159.7 1329.2,1159.8 1340.8,1159.9 L1340.8,1161.0 L812.6,1161.0 Z"/></clipPath>
<path d="M812.6,1159.4 C827.3,1159.1 881.7,1158.3 900.7,1157.4 C919.7,1156.5 920.1,1155.7 926.6,1154.2 C933.1,1152.7 935.2,1150.4 939.5,1148.4 C943.8,1146.5 947.5,1144.5 952.5,1142.5 C957.5,1140.5 964.5,1139.0 969.3,1136.7 C974.0,1134.4 977.3,1132.6 981.0,1128.9 C984.7,1125.2 988.3,1119.4 991.3,1114.7 C994.3,1110.0 996.3,1105.0 999.1,1100.5 C1001.9,1096.0 1005.7,1090.0 1008.2,1087.5 C1010.7,1085.0 1011.6,1085.2 1014.0,1085.6 C1016.4,1086.0 1019.7,1088.2 1022.4,1090.1 C1025.1,1092.0 1026.8,1095.5 1030.2,1097.2 C1033.7,1098.9 1038.8,1099.3 1043.1,1100.5 C1047.4,1101.7 1051.1,1103.8 1056.1,1104.3 C1061.1,1104.8 1067.0,1101.2 1073.2,1103.3 C1079.4,1105.4 1086.4,1114.4 1093.0,1117.1 C1099.6,1119.8 1107.2,1118.6 1112.7,1119.7 C1118.2,1120.8 1121.5,1121.7 1125.9,1123.7 C1130.3,1125.7 1134.7,1129.0 1139.1,1131.6 C1143.5,1134.2 1148.1,1138.4 1152.3,1139.5 C1156.5,1140.6 1160.4,1140.2 1164.1,1138.2 C1167.8,1136.2 1171.4,1131.3 1174.7,1127.6 C1178.0,1123.9 1181.3,1120.2 1183.9,1115.8 C1186.5,1111.4 1188.1,1108.1 1190.5,1101.3 C1192.9,1094.5 1196.0,1081.9 1198.4,1074.9 C1200.8,1067.9 1203.0,1062.5 1205.0,1059.1 C1207.0,1055.7 1208.5,1054.7 1210.3,1054.5 C1212.1,1054.3 1213.6,1053.7 1215.6,1057.8 C1217.6,1061.9 1219.7,1069.9 1222.1,1078.9 C1224.5,1087.9 1227.3,1101.9 1230.0,1111.8 C1232.7,1121.7 1235.1,1131.6 1238.0,1138.2 C1240.9,1144.8 1242.8,1148.4 1247.2,1151.4 C1251.6,1154.4 1256.0,1155.0 1264.3,1156.0 C1272.6,1157.0 1284.5,1157.0 1297.3,1157.3 C1310.0,1157.6 1333.5,1157.9 1340.8,1158.0 L1340.8,1161.0 L812.6,1161.0 Z" fill="#8ed4f8"/>
<path d="M812.6,1159.4 C827.3,1159.1 881.7,1158.3 900.7,1157.4 C919.7,1156.5 920.1,1155.7 926.6,1154.2 C933.1,1152.7 935.2,1150.4 939.5,1148.4 C943.8,1146.5 947.5,1144.5 952.5,1142.5 C957.5,1140.5 964.5,1139.0 969.3,1136.7 C974.0,1134.4 977.3,1132.6 981.0,1128.9 C984.7,1125.2 988.3,1119.4 991.3,1114.7 C994.3,1110.0 996.3,1105.0 999.1,1100.5 C1001.9,1096.0 1005.7,1090.0 1008.2,1087.5 C1010.7,1085.0 1011.6,1085.2 1014.0,1085.6 C1016.4,1086.0 1019.7,1088.2 1022.4,1090.1 C1025.1,1092.0 1026.8,1095.5 1030.2,1097.2 C1033.7,1098.9 1038.8,1099.3 1043.1,1100.5 C1047.4,1101.7 1051.1,1103.8 1056.1,1104.3 C1061.1,1104.8 1067.0,1101.2 1073.2,1103.3 C1079.4,1105.4 1086.4,1114.4 1093.0,1117.1 C1099.6,1119.8 1107.2,1118.6 1112.7,1119.7 C1118.2,1120.8 1121.5,1121.7 1125.9,1123.7 C1130.3,1125.7 1134.7,1129.0 1139.1,1131.6 C1143.5,1134.2 1148.1,1138.4 1152.3,1139.5 C1156.5,1140.6 1160.4,1140.2 1164.1,1138.2 C1167.8,1136.2 1171.4,1131.3 1174.7,1127.6 C1178.0,1123.9 1181.3,1120.2 1183.9,1115.8 C1186.5,1111.4 1188.1,1108.1 1190.5,1101.3 C1192.9,1094.5 1196.0,1081.9 1198.4,1074.9 C1200.8,1067.9 1203.0,1062.5 1205.0,1059.1 C1207.0,1055.7 1208.5,1054.7 1210.3,1054.5 C1212.1,1054.3 1213.6,1053.7 1215.6,1057.8 C1217.6,1061.9 1219.7,1069.9 1222.1,1078.9 C1224.5,1087.9 1227.3,1101.9 1230.0,1111.8 C1232.7,1121.7 1235.1,1131.6 1238.0,1138.2 C1240.9,1144.8 1242.8,1148.4 1247.2,1151.4 C1251.6,1154.4 1256.0,1155.0 1264.3,1156.0 C1272.6,1157.0 1284.5,1157.0 1297.3,1157.3 C1310.0,1157.6 1333.5,1157.9 1340.8,1158.0" fill="none" stroke="#4c9ee8" stroke-width="3.2"/>
<path d="M812.6,1158.7 C835.5,1158.4 922.4,1159.6 950.0,1157.0 C977.6,1154.4 968.3,1147.7 978.4,1143.2 C988.5,1138.7 1001.0,1135.8 1010.7,1130.2 C1020.4,1124.6 1030.2,1114.0 1036.7,1109.5 C1043.2,1105.0 1045.3,1105.6 1049.6,1103.0 C1053.9,1100.4 1058.7,1097.8 1062.6,1094.0 C1066.5,1090.2 1069.2,1086.9 1073.2,1080.2 C1077.2,1073.5 1082.7,1062.2 1086.4,1053.8 C1090.1,1045.4 1092.8,1035.1 1095.6,1030.1 C1098.4,1025.0 1100.7,1023.3 1103.5,1023.5 C1106.3,1023.7 1109.0,1027.0 1112.7,1031.4 C1116.4,1035.8 1121.5,1042.7 1125.9,1049.9 C1130.3,1057.2 1134.7,1066.3 1139.1,1074.9 C1143.5,1083.5 1149.0,1094.9 1152.3,1101.3 C1155.6,1107.7 1155.6,1108.7 1158.9,1113.1 C1162.2,1117.5 1166.5,1124.5 1172.0,1127.6 C1177.5,1130.7 1186.3,1129.8 1191.8,1131.6 C1197.3,1133.4 1199.5,1135.1 1205.0,1138.2 C1210.5,1141.3 1218.2,1146.9 1224.8,1150.0 C1231.4,1153.1 1237.1,1155.1 1244.6,1156.6 C1252.1,1158.1 1254.0,1158.4 1270.0,1159.0 C1286.0,1159.6 1329.0,1159.8 1340.8,1160.0 L1340.8,1161.0 L812.6,1161.0 Z" fill="#94f47a"/>
<path d="M812.6,1158.7 C835.5,1158.4 922.4,1159.6 950.0,1157.0 C977.6,1154.4 968.3,1147.7 978.4,1143.2 C988.5,1138.7 1001.0,1135.8 1010.7,1130.2 C1020.4,1124.6 1030.2,1114.0 1036.7,1109.5 C1043.2,1105.0 1045.3,1105.6 1049.6,1103.0 C1053.9,1100.4 1058.7,1097.8 1062.6,1094.0 C1066.5,1090.2 1069.2,1086.9 1073.2,1080.2 C1077.2,1073.5 1082.7,1062.2 1086.4,1053.8 C1090.1,1045.4 1092.8,1035.1 1095.6,1030.1 C1098.4,1025.0 1100.7,1023.3 1103.5,1023.5 C1106.3,1023.7 1109.0,1027.0 1112.7,1031.4 C1116.4,1035.8 1121.5,1042.7 1125.9,1049.9 C1130.3,1057.2 1134.7,1066.3 1139.1,1074.9 C1143.5,1083.5 1149.0,1094.9 1152.3,1101.3 C1155.6,1107.7 1155.6,1108.7 1158.9,1113.1 C1162.2,1117.5 1166.5,1124.5 1172.0,1127.6 C1177.5,1130.7 1186.3,1129.8 1191.8,1131.6 C1197.3,1133.4 1199.5,1135.1 1205.0,1138.2 C1210.5,1141.3 1218.2,1146.9 1224.8,1150.0 C1231.4,1153.1 1237.1,1155.1 1244.6,1156.6 C1252.1,1158.1 1254.0,1158.4 1270.0,1159.0 C1286.0,1159.6 1329.0,1159.8 1340.8,1160.0" fill="none" stroke="#55ea22" stroke-width="3.2"/>
<path d="M812.6,1160.0 C827.2,1159.8 881.0,1159.4 900.0,1159.0 C919.0,1158.6 920.0,1158.7 926.6,1157.4 C933.2,1156.1 935.2,1152.7 939.5,1151.0 C943.8,1149.3 947.1,1148.2 952.5,1147.1 C957.9,1146.0 966.5,1146.5 971.9,1144.5 C977.3,1142.5 980.5,1139.3 984.8,1135.4 C989.1,1131.5 993.5,1125.5 997.8,1121.2 C1002.1,1116.9 1006.4,1113.2 1010.7,1109.5 C1015.0,1105.8 1019.4,1101.5 1023.7,1099.2 C1028.0,1096.9 1030.2,1096.6 1036.7,1095.9 C1043.2,1095.2 1054.8,1096.8 1062.6,1095.3 C1070.4,1093.8 1078.2,1087.6 1083.7,1086.8 C1089.2,1086.0 1091.2,1088.7 1095.6,1090.7 C1100.0,1092.7 1106.1,1096.6 1110.1,1098.6 C1114.0,1100.6 1116.2,1101.3 1119.3,1102.6 C1122.4,1103.9 1125.2,1104.8 1128.5,1106.5 C1131.8,1108.2 1135.6,1111.3 1139.1,1113.1 C1142.6,1114.9 1146.1,1117.3 1149.6,1117.1 C1153.1,1116.9 1156.7,1114.0 1160.2,1111.8 C1163.7,1109.6 1167.2,1105.7 1170.7,1103.9 C1174.2,1102.2 1178.2,1101.5 1181.3,1101.3 C1184.4,1101.1 1186.3,1101.1 1189.2,1102.6 C1192.1,1104.1 1194.7,1106.8 1198.4,1110.5 C1202.1,1114.2 1207.2,1120.0 1211.6,1125.0 C1216.0,1130.0 1220.8,1136.4 1224.8,1140.8 C1228.8,1145.2 1231.6,1148.7 1235.3,1151.4 C1239.0,1154.2 1241.3,1156.0 1247.2,1157.3 C1253.1,1158.6 1255.3,1158.9 1270.9,1159.3 C1286.5,1159.7 1329.2,1159.8 1340.8,1159.9 L1340.8,1161.0 L812.6,1161.0 Z" fill="#ff44ff"/>
<g clip-path="url(#cco1)">
<path d="M812.6,1158.7 C835.5,1158.4 922.4,1159.6 950.0,1157.0 C977.6,1154.4 968.3,1147.7 978.4,1143.2 C988.5,1138.7 1001.0,1135.8 1010.7,1130.2 C1020.4,1124.6 1030.2,1114.0 1036.7,1109.5 C1043.2,1105.0 1045.3,1105.6 1049.6,1103.0 C1053.9,1100.4 1058.7,1097.8 1062.6,1094.0 C1066.5,1090.2 1069.2,1086.9 1073.2,1080.2 C1077.2,1073.5 1082.7,1062.2 1086.4,1053.8 C1090.1,1045.4 1092.8,1035.1 1095.6,1030.1 C1098.4,1025.0 1100.7,1023.3 1103.5,1023.5 C1106.3,1023.7 1109.0,1027.0 1112.7,1031.4 C1116.4,1035.8 1121.5,1042.7 1125.9,1049.9 C1130.3,1057.2 1134.7,1066.3 1139.1,1074.9 C1143.5,1083.5 1149.0,1094.9 1152.3,1101.3 C1155.6,1107.7 1155.6,1108.7 1158.9,1113.1 C1162.2,1117.5 1166.5,1124.5 1172.0,1127.6 C1177.5,1130.7 1186.3,1129.8 1191.8,1131.6 C1197.3,1133.4 1199.5,1135.1 1205.0,1138.2 C1210.5,1141.3 1218.2,1146.9 1224.8,1150.0 C1231.4,1153.1 1237.1,1155.1 1244.6,1156.6 C1252.1,1158.1 1254.0,1158.4 1270.0,1159.0 C1286.0,1159.6 1329.0,1159.8 1340.8,1160.0 L1340.8,1161.0 L812.6,1161.0 Z" fill="#e04cfc"/>
<path d="M812.6,1159.4 C827.3,1159.1 881.7,1158.3 900.7,1157.4 C919.7,1156.5 920.1,1155.7 926.6,1154.2 C933.1,1152.7 935.2,1150.4 939.5,1148.4 C943.8,1146.5 947.5,1144.5 952.5,1142.5 C957.5,1140.5 964.5,1139.0 969.3,1136.7 C974.0,1134.4 977.3,1132.6 981.0,1128.9 C984.7,1125.2 988.3,1119.4 991.3,1114.7 C994.3,1110.0 996.3,1105.0 999.1,1100.5 C1001.9,1096.0 1005.7,1090.0 1008.2,1087.5 C1010.7,1085.0 1011.6,1085.2 1014.0,1085.6 C1016.4,1086.0 1019.7,1088.2 1022.4,1090.1 C1025.1,1092.0 1026.8,1095.5 1030.2,1097.2 C1033.7,1098.9 1038.8,1099.3 1043.1,1100.5 C1047.4,1101.7 1051.1,1103.8 1056.1,1104.3 C1061.1,1104.8 1067.0,1101.2 1073.2,1103.3 C1079.4,1105.4 1086.4,1114.4 1093.0,1117.1 C1099.6,1119.8 1107.2,1118.6 1112.7,1119.7 C1118.2,1120.8 1121.5,1121.7 1125.9,1123.7 C1130.3,1125.7 1134.7,1129.0 1139.1,1131.6 C1143.5,1134.2 1148.1,1138.4 1152.3,1139.5 C1156.5,1140.6 1160.4,1140.2 1164.1,1138.2 C1167.8,1136.2 1171.4,1131.3 1174.7,1127.6 C1178.0,1123.9 1181.3,1120.2 1183.9,1115.8 C1186.5,1111.4 1188.1,1108.1 1190.5,1101.3 C1192.9,1094.5 1196.0,1081.9 1198.4,1074.9 C1200.8,1067.9 1203.0,1062.5 1205.0,1059.1 C1207.0,1055.7 1208.5,1054.7 1210.3,1054.5 C1212.1,1054.3 1213.6,1053.7 1215.6,1057.8 C1217.6,1061.9 1219.7,1069.9 1222.1,1078.9 C1224.5,1087.9 1227.3,1101.9 1230.0,1111.8 C1232.7,1121.7 1235.1,1131.6 1238.0,1138.2 C1240.9,1144.8 1242.8,1148.4 1247.2,1151.4 C1251.6,1154.4 1256.0,1155.0 1264.3,1156.0 C1272.6,1157.0 1284.5,1157.0 1297.3,1157.3 C1310.0,1157.6 1333.5,1157.9 1340.8,1158.0 L1340.8,1161.0 L812.6,1161.0 Z" fill="#d440ff"/>
<path d="M812.6,1159.4 C827.3,1159.1 881.7,1158.3 900.7,1157.4 C919.7,1156.5 920.1,1155.7 926.6,1154.2 C933.1,1152.7 935.2,1150.4 939.5,1148.4 C943.8,1146.5 947.5,1144.5 952.5,1142.5 C957.5,1140.5 964.5,1139.0 969.3,1136.7 C974.0,1134.4 977.3,1132.6 981.0,1128.9 C984.7,1125.2 988.3,1119.4 991.3,1114.7 C994.3,1110.0 996.3,1105.0 999.1,1100.5 C1001.9,1096.0 1005.7,1090.0 1008.2,1087.5 C1010.7,1085.0 1011.6,1085.2 1014.0,1085.6 C1016.4,1086.0 1019.7,1088.2 1022.4,1090.1 C1025.1,1092.0 1026.8,1095.5 1030.2,1097.2 C1033.7,1098.9 1038.8,1099.3 1043.1,1100.5 C1047.4,1101.7 1051.1,1103.8 1056.1,1104.3 C1061.1,1104.8 1067.0,1101.2 1073.2,1103.3 C1079.4,1105.4 1086.4,1114.4 1093.0,1117.1 C1099.6,1119.8 1107.2,1118.6 1112.7,1119.7 C1118.2,1120.8 1121.5,1121.7 1125.9,1123.7 C1130.3,1125.7 1134.7,1129.0 1139.1,1131.6 C1143.5,1134.2 1148.1,1138.4 1152.3,1139.5 C1156.5,1140.6 1160.4,1140.2 1164.1,1138.2 C1167.8,1136.2 1171.4,1131.3 1174.7,1127.6 C1178.0,1123.9 1181.3,1120.2 1183.9,1115.8 C1186.5,1111.4 1188.1,1108.1 1190.5,1101.3 C1192.9,1094.5 1196.0,1081.9 1198.4,1074.9 C1200.8,1067.9 1203.0,1062.5 1205.0,1059.1 C1207.0,1055.7 1208.5,1054.7 1210.3,1054.5 C1212.1,1054.3 1213.6,1053.7 1215.6,1057.8 C1217.6,1061.9 1219.7,1069.9 1222.1,1078.9 C1224.5,1087.9 1227.3,1101.9 1230.0,1111.8 C1232.7,1121.7 1235.1,1131.6 1238.0,1138.2 C1240.9,1144.8 1242.8,1148.4 1247.2,1151.4 C1251.6,1154.4 1256.0,1155.0 1264.3,1156.0 C1272.6,1157.0 1284.5,1157.0 1297.3,1157.3 C1310.0,1157.6 1333.5,1157.9 1340.8,1158.0" fill="none" stroke="#b23cff" stroke-width="3"/>
<path d="M812.6,1158.7 C835.5,1158.4 922.4,1159.6 950.0,1157.0 C977.6,1154.4 968.3,1147.7 978.4,1143.2 C988.5,1138.7 1001.0,1135.8 1010.7,1130.2 C1020.4,1124.6 1030.2,1114.0 1036.7,1109.5 C1043.2,1105.0 1045.3,1105.6 1049.6,1103.0 C1053.9,1100.4 1058.7,1097.8 1062.6,1094.0 C1066.5,1090.2 1069.2,1086.9 1073.2,1080.2 C1077.2,1073.5 1082.7,1062.2 1086.4,1053.8 C1090.1,1045.4 1092.8,1035.1 1095.6,1030.1 C1098.4,1025.0 1100.7,1023.3 1103.5,1023.5 C1106.3,1023.7 1109.0,1027.0 1112.7,1031.4 C1116.4,1035.8 1121.5,1042.7 1125.9,1049.9 C1130.3,1057.2 1134.7,1066.3 1139.1,1074.9 C1143.5,1083.5 1149.0,1094.9 1152.3,1101.3 C1155.6,1107.7 1155.6,1108.7 1158.9,1113.1 C1162.2,1117.5 1166.5,1124.5 1172.0,1127.6 C1177.5,1130.7 1186.3,1129.8 1191.8,1131.6 C1197.3,1133.4 1199.5,1135.1 1205.0,1138.2 C1210.5,1141.3 1218.2,1146.9 1224.8,1150.0 C1231.4,1153.1 1237.1,1155.1 1244.6,1156.6 C1252.1,1158.1 1254.0,1158.4 1270.0,1159.0 C1286.0,1159.6 1329.0,1159.8 1340.8,1160.0" fill="none" stroke="#a03cc0" stroke-width="3"/>
</g>
<path d="M812.6,1160.0 C827.2,1159.8 881.0,1159.4 900.0,1159.0 C919.0,1158.6 920.0,1158.7 926.6,1157.4 C933.2,1156.1 935.2,1152.7 939.5,1151.0 C943.8,1149.3 947.1,1148.2 952.5,1147.1 C957.9,1146.0 966.5,1146.5 971.9,1144.5 C977.3,1142.5 980.5,1139.3 984.8,1135.4 C989.1,1131.5 993.5,1125.5 997.8,1121.2 C1002.1,1116.9 1006.4,1113.2 1010.7,1109.5 C1015.0,1105.8 1019.4,1101.5 1023.7,1099.2 C1028.0,1096.9 1030.2,1096.6 1036.7,1095.9 C1043.2,1095.2 1054.8,1096.8 1062.6,1095.3 C1070.4,1093.8 1078.2,1087.6 1083.7,1086.8 C1089.2,1086.0 1091.2,1088.7 1095.6,1090.7 C1100.0,1092.7 1106.1,1096.6 1110.1,1098.6 C1114.0,1100.6 1116.2,1101.3 1119.3,1102.6 C1122.4,1103.9 1125.2,1104.8 1128.5,1106.5 C1131.8,1108.2 1135.6,1111.3 1139.1,1113.1 C1142.6,1114.9 1146.1,1117.3 1149.6,1117.1 C1153.1,1116.9 1156.7,1114.0 1160.2,1111.8 C1163.7,1109.6 1167.2,1105.7 1170.7,1103.9 C1174.2,1102.2 1178.2,1101.5 1181.3,1101.3 C1184.4,1101.1 1186.3,1101.1 1189.2,1102.6 C1192.1,1104.1 1194.7,1106.8 1198.4,1110.5 C1202.1,1114.2 1207.2,1120.0 1211.6,1125.0 C1216.0,1130.0 1220.8,1136.4 1224.8,1140.8 C1228.8,1145.2 1231.6,1148.7 1235.3,1151.4 C1239.0,1154.2 1241.3,1156.0 1247.2,1157.3 C1253.1,1158.6 1255.3,1158.9 1270.9,1159.3 C1286.5,1159.7 1329.2,1159.8 1340.8,1159.9" fill="none" stroke="#ff32fa" stroke-width="3.2"/>
</g>
<line x1="1164.1" y1="776.3" x2="1164.1" y2="1161.3" stroke="#000" stroke-width="2.2" stroke-dasharray="5,3.5"/>
<rect x="812.5" y="774.3" width="528.2" height="387.0" fill="none" stroke="#000" stroke-width="2" />
<line x1="812.5" y1="1161.3" x2="812.5" y2="1169.3" stroke="#000" stroke-width="2" />
<text x="812.5" y="1198.8" font-size="23.3" fill="#000" text-anchor="middle" font-weight="bold" >−8</text>
<line x1="856.5" y1="1161.3" x2="856.5" y2="1165.8" stroke="#000" stroke-width="2" />
<line x1="900.5" y1="1161.3" x2="900.5" y2="1169.3" stroke="#000" stroke-width="2" />
<text x="900.5" y="1198.8" font-size="23.3" fill="#000" text-anchor="middle" font-weight="bold" >−6</text>
<line x1="944.5" y1="1161.3" x2="944.5" y2="1165.8" stroke="#000" stroke-width="2" />
<line x1="988.6" y1="1161.3" x2="988.6" y2="1169.3" stroke="#000" stroke-width="2" />
<text x="988.6" y="1198.8" font-size="23.3" fill="#000" text-anchor="middle" font-weight="bold" >−4</text>
<line x1="1032.6" y1="1161.3" x2="1032.6" y2="1165.8" stroke="#000" stroke-width="2" />
<line x1="1076.6" y1="1161.3" x2="1076.6" y2="1169.3" stroke="#000" stroke-width="2" />
<text x="1076.6" y="1198.8" font-size="23.3" fill="#000" text-anchor="middle" font-weight="bold" >−2</text>
<line x1="1120.6" y1="1161.3" x2="1120.6" y2="1165.8" stroke="#000" stroke-width="2" />
<line x1="1164.6" y1="1161.3" x2="1164.6" y2="1169.3" stroke="#000" stroke-width="2" />
<text x="1164.6" y="1198.8" font-size="23.3" fill="#000" text-anchor="middle" font-weight="bold" >0</text>
<line x1="1208.7" y1="1161.3" x2="1208.7" y2="1165.8" stroke="#000" stroke-width="2" />
<line x1="1252.7" y1="1161.3" x2="1252.7" y2="1169.3" stroke="#000" stroke-width="2" />
<text x="1252.7" y="1198.8" font-size="23.3" fill="#000" text-anchor="middle" font-weight="bold" >2</text>
<line x1="1296.7" y1="1161.3" x2="1296.7" y2="1165.8" stroke="#000" stroke-width="2" />
<line x1="1340.7" y1="1161.3" x2="1340.7" y2="1169.3" stroke="#000" stroke-width="2" />
<text x="1340.7" y="1198.8" font-size="23.3" fill="#000" text-anchor="middle" font-weight="bold" >4</text>
<text x="1077.6" y="1237.3" font-size="27" fill="#000" text-anchor="middle" font-weight="bold" >Energy (eV)</text>
<text transform="translate(787.0,963.0) rotate(-90)" font-size="27" fill="#000" text-anchor="middle" font-weight="bold">PDOS (a.u.)</text>
<text x="823.6" y="807.6" font-size="24" fill="#e8231c" text-anchor="start" font-weight="bold" >4H-IrPtNiFeCo</text>
<text x="1030.2" y="813.4" font-size="24" fill="#3cb64a" text-anchor="start" font-weight="bold" >Ni-3d</text>
<text x="986.1" y="886.6" font-size="24" fill="#f03cf0" text-anchor="start" font-weight="bold" >Co-3d</text>
<text x="1218.8" y="882.7" font-size="24" fill="#52a2e6" text-anchor="start" font-weight="bold" >Fe-3d</text>
<text x="1173.6" y="805.0" font-size="23.6" fill="#000" text-anchor="start" font-weight="bold" >E</text>
<text x="1190.0" y="810.5" font-size="16" fill="#000" text-anchor="start" font-weight="bold" >F</text>
<text x="827.5" y="1018.6" font-size="24" fill="#1a0fe0" text-anchor="start" font-weight="bold" ><tspan font-style="italic">fcc</tspan>-IrPtNiFeCo</text>
<text x="1021.8" y="1024.0" font-size="24" fill="#3cb64a" text-anchor="start" font-weight="bold" >Ni-3d</text>
<text x="974.5" y="1070.7" font-size="24" fill="#f03cf0" text-anchor="start" font-weight="bold" >Co-3d</text>
<text x="1226.4" y="1053.8" font-size="24" fill="#52a2e6" text-anchor="start" font-weight="bold" >Fe-3d</text>
<text transform="translate(771.5,802.7) scale(1.0,1)" font-size="50" fill="#000" font-weight="bold">f</text>
<rect x="1523.9" y="775.2" width="529.3" height="387.9" fill="none" stroke="#000" stroke-width="2" />
<line x1="1515.9" y1="775.2" x2="1523.9" y2="775.2" stroke="#000" stroke-width="2" />
<text x="1501.5" y="783.5" font-size="23.3" fill="#000" text-anchor="end" font-weight="bold" >−0.8</text>
<line x1="1515.9" y1="830.6" x2="1523.9" y2="830.6" stroke="#000" stroke-width="2" />
<text x="1501.5" y="838.9" font-size="23.3" fill="#000" text-anchor="end" font-weight="bold" >−1.0</text>
<line x1="1515.9" y1="886.0" x2="1523.9" y2="886.0" stroke="#000" stroke-width="2" />
<text x="1501.5" y="894.3" font-size="23.3" fill="#000" text-anchor="end" font-weight="bold" >−1.2</text>
<line x1="1515.9" y1="941.4" x2="1523.9" y2="941.4" stroke="#000" stroke-width="2" />
<text x="1501.5" y="949.7" font-size="23.3" fill="#000" text-anchor="end" font-weight="bold" >−1.4</text>
<line x1="1515.9" y1="996.9" x2="1523.9" y2="996.9" stroke="#000" stroke-width="2" />
<text x="1501.5" y="1005.2" font-size="23.3" fill="#000" text-anchor="end" font-weight="bold" >−1.6</text>
<line x1="1515.9" y1="1052.3" x2="1523.9" y2="1052.3" stroke="#000" stroke-width="2" />
<text x="1501.5" y="1060.6" font-size="23.3" fill="#000" text-anchor="end" font-weight="bold" >−1.8</text>
<line x1="1515.9" y1="1107.7" x2="1523.9" y2="1107.7" stroke="#000" stroke-width="2" />
<text x="1501.5" y="1116.0" font-size="23.3" fill="#000" text-anchor="end" font-weight="bold" >−2.0</text>
<line x1="1515.9" y1="1163.1" x2="1523.9" y2="1163.1" stroke="#000" stroke-width="2" />
<text x="1501.5" y="1171.4" font-size="23.3" fill="#000" text-anchor="end" font-weight="bold" >−2.2</text>
<line x1="1519.9" y1="802.9" x2="1523.9" y2="802.9" stroke="#000" stroke-width="2" />
<line x1="1519.9" y1="858.3" x2="1523.9" y2="858.3" stroke="#000" stroke-width="2" />
<line x1="1519.9" y1="913.7" x2="1523.9" y2="913.7" stroke="#000" stroke-width="2" />
<line x1="1519.9" y1="969.1" x2="1523.9" y2="969.1" stroke="#000" stroke-width="2" />
<line x1="1519.9" y1="1024.6" x2="1523.9" y2="1024.6" stroke="#000" stroke-width="2" />
<line x1="1519.9" y1="1080.0" x2="1523.9" y2="1080.0" stroke="#000" stroke-width="2" />
<line x1="1519.9" y1="1135.4" x2="1523.9" y2="1135.4" stroke="#000" stroke-width="2" />
<line x1="1577.1" y1="1163.1" x2="1577.1" y2="1172.1" stroke="#000" stroke-width="2" />
<text x="1577.1" y="1205.2" font-size="26" fill="#000" text-anchor="middle" font-weight="bold" >Ir</text>
<line x1="1683.3" y1="1163.1" x2="1683.3" y2="1172.1" stroke="#000" stroke-width="2" />
<text x="1683.3" y="1205.2" font-size="26" fill="#000" text-anchor="middle" font-weight="bold" >Pt</text>
<line x1="1788.7" y1="1163.1" x2="1788.7" y2="1172.1" stroke="#000" stroke-width="2" />
<text x="1788.7" y="1205.2" font-size="26" fill="#000" text-anchor="middle" font-weight="bold" >Ni</text>
<line x1="1894.9" y1="1163.1" x2="1894.9" y2="1172.1" stroke="#000" stroke-width="2" />
<text x="1894.9" y="1205.2" font-size="26" fill="#000" text-anchor="middle" font-weight="bold" >Fe</text>
<line x1="2000.7" y1="1163.1" x2="2000.7" y2="1172.1" stroke="#000" stroke-width="2" />
<text x="2000.7" y="1205.2" font-size="26" fill="#000" text-anchor="middle" font-weight="bold" >Co</text>
<text transform="translate(1431.0,969.5) rotate(-90)" font-size="26.6" fill="#000" text-anchor="middle" font-weight="bold">d-band center (eV)</text>
<circle cx="1548.3" cy="798.6" r="7.2" fill="url(#ballR)"/>
<text x="1573.5" y="807.6" font-size="24" fill="#e8231c" text-anchor="start" font-weight="bold" >4H-IrPtNiFeCo</text>
<circle cx="1548.3" cy="833.5" r="7.2" fill="url(#ballB)"/>
<text x="1574.2" y="844.3" font-size="24" fill="#1a0fe0" text-anchor="start" font-weight="bold" ><tspan font-style="italic">fcc</tspan>-IrPtNiFeCo</text>
<circle cx="1577.1" cy="950.4" r="7.2" fill="url(#ballB)"/>
<circle cx="1577.1" cy="973.8" r="7.2" fill="url(#ballR)"/>
<circle cx="1683.3" cy="1111.6" r="7.2" fill="url(#ballB)"/>
<circle cx="1683.3" cy="1137.9" r="7.2" fill="url(#ballR)"/>
<circle cx="1788.7" cy="914.4" r="7.2" fill="url(#ballB)"/>
<circle cx="1788.7" cy="838.9" r="7.2" fill="url(#ballR)"/>
<circle cx="1894.9" cy="867.0" r="7.2" fill="url(#ballB)"/>
<circle cx="1894.9" cy="840.7" r="7.2" fill="url(#ballR)"/>
<circle cx="2000.7" cy="928.5" r="7.2" fill="url(#ballB)"/>
<circle cx="2000.7" cy="859.0" r="7.2" fill="url(#ballR)"/>
<line x1="1599.8" y1="940.7" x2="1599.8" y2="972.4" stroke="#000" stroke-width="2.6" />
<path d="M1599.8,983.2 L1595.6,969.7 L1599.8,971.3 L1604.0,969.7 Z" fill="#000"/>
<line x1="1702.3" y1="1106.2" x2="1702.3" y2="1138.6" stroke="#000" stroke-width="2.6" />
<path d="M1702.3,1149.4 L1698.1,1135.9 L1702.3,1137.5 L1706.5,1135.9 Z" fill="#000"/>
<line x1="1808.5" y1="919.1" x2="1808.5" y2="842.8" stroke="#000" stroke-width="2.6" />
<path d="M1808.5,832.0 L1804.3,845.5 L1808.5,843.9 L1812.7,845.5 Z" fill="#000"/>
<line x1="1911.0" y1="876.0" x2="1911.0" y2="846.1" stroke="#000" stroke-width="2.6" />
<path d="M1911.0,835.3 L1906.8,848.8 L1911.0,847.2 L1915.2,848.8 Z" fill="#000"/>
<line x1="2020.8" y1="938.9" x2="2020.8" y2="862.6" stroke="#000" stroke-width="2.6" />
<path d="M2020.8,851.8 L2016.6,865.3 L2020.8,863.7 L2025.0,865.3 Z" fill="#000"/>
<text transform="translate(1406.5,799.5) scale(1.0,1)" font-size="50" fill="#000" font-weight="bold">g</text>
<linearGradient id="gRed" x1="0" y1="0" x2="1" y2="0"><stop offset="0" stop-color="#ee3c46"/><stop offset="0.3" stop-color="#ee6e74"/><stop offset="0.55" stop-color="#f08890"/><stop offset="0.8" stop-color="#ec6a72"/><stop offset="1" stop-color="#f03c46"/></linearGradient>
<linearGradient id="gBlue" x1="0" y1="0" x2="1" y2="0"><stop offset="0" stop-color="#58aef8"/><stop offset="0.25" stop-color="#6cbcfa"/><stop offset="0.55" stop-color="#98dcfa"/><stop offset="0.8" stop-color="#74c4fa"/><stop offset="1" stop-color="#58aaf6"/></linearGradient>
<rect x="127.9" y="1487.9" width="36.6" height="179.0" fill="url(#gRed)" stroke="none" stroke-width="0" />
<rect x="164.5" y="1522.4" width="36.8" height="144.5" fill="url(#gBlue)" stroke="none" stroke-width="0" />
<text x="143.2" y="1470.4" font-size="17.8" fill="#000" text-anchor="middle" font-weight="bold" >−1.17</text>
<text x="189.3" y="1504.4" font-size="17.8" fill="#000" text-anchor="middle" font-weight="bold" >−1.33</text>
<rect x="233.5" y="1552.6" width="36.6" height="114.3" fill="url(#gRed)" stroke="none" stroke-width="0" />
<rect x="270.1" y="1621.6" width="36.8" height="45.3" fill="url(#gBlue)" stroke="none" stroke-width="0" />
<text x="248.2" y="1536.8" font-size="17.8" fill="#000" text-anchor="middle" font-weight="bold" >−1.47</text>
<text x="294.2" y="1602.5" font-size="17.8" fill="#000" text-anchor="middle" font-weight="bold" >−1.79</text>
<rect x="339.1" y="1406.0" width="36.6" height="260.9" fill="url(#gRed)" stroke="none" stroke-width="0" />
<rect x="375.7" y="1423.3" width="36.8" height="243.6" fill="url(#gBlue)" stroke="none" stroke-width="0" />
<text x="354.5" y="1388.8" font-size="17.8" fill="#000" text-anchor="middle" font-weight="bold" >−0.79</text>
<text x="399.8" y="1405.0" font-size="17.8" fill="#000" text-anchor="middle" font-weight="bold" >−0.87</text>
<rect x="444.7" y="1464.2" width="36.6" height="202.7" fill="url(#gRed)" stroke="none" stroke-width="0" />
<rect x="481.3" y="1505.2" width="36.8" height="161.7" fill="url(#gBlue)" stroke="none" stroke-width="0" />
<text x="461.0" y="1447.1" font-size="17.8" fill="#000" text-anchor="middle" font-weight="bold" >−1.06</text>
<text x="505.1" y="1487.6" font-size="17.8" fill="#000" text-anchor="middle" font-weight="bold" >−1.25</text>
<rect x="550.3" y="1339.2" width="36.6" height="327.7" fill="url(#gRed)" stroke="none" stroke-width="0" />
<rect x="586.9" y="1384.4" width="36.8" height="282.5" fill="url(#gBlue)" stroke="none" stroke-width="0" />
<text x="564.0" y="1320.9" font-size="17.8" fill="#000" text-anchor="middle" font-weight="bold" >−0.48</text>
<text x="610.2" y="1366.2" font-size="17.8" fill="#000" text-anchor="middle" font-weight="bold" >−0.69</text>
<rect x="112.7" y="1278.8" width="529.0" height="388.1" fill="none" stroke="#000" stroke-width="2" />
<line x1="104.2" y1="1666.9" x2="112.7" y2="1666.9" stroke="#000" stroke-width="2" />
<text x="96.5" y="1675.2" font-size="23.3" fill="#000" text-anchor="end" font-weight="bold" >−2.0</text>
<line x1="104.2" y1="1580.7" x2="112.7" y2="1580.7" stroke="#000" stroke-width="2" />
<text x="96.5" y="1589.0" font-size="23.3" fill="#000" text-anchor="end" font-weight="bold" >−1.6</text>
<line x1="104.2" y1="1494.4" x2="112.7" y2="1494.4" stroke="#000" stroke-width="2" />
<text x="96.5" y="1502.7" font-size="23.3" fill="#000" text-anchor="end" font-weight="bold" >−1.2</text>
<line x1="104.2" y1="1408.2" x2="112.7" y2="1408.2" stroke="#000" stroke-width="2" />
<text x="96.5" y="1416.5" font-size="23.3" fill="#000" text-anchor="end" font-weight="bold" >−0.8</text>
<line x1="104.2" y1="1321.9" x2="112.7" y2="1321.9" stroke="#000" stroke-width="2" />
<text x="96.5" y="1330.2" font-size="23.3" fill="#000" text-anchor="end" font-weight="bold" >−0.4</text>
<line x1="108.5" y1="1623.8" x2="112.7" y2="1623.8" stroke="#000" stroke-width="2" />
<line x1="108.5" y1="1537.5" x2="112.7" y2="1537.5" stroke="#000" stroke-width="2" />
<line x1="108.5" y1="1451.3" x2="112.7" y2="1451.3" stroke="#000" stroke-width="2" />
<line x1="108.5" y1="1365.0" x2="112.7" y2="1365.0" stroke="#000" stroke-width="2" />
<line x1="165.0" y1="1666.9" x2="165.0" y2="1675.4" stroke="#000" stroke-width="2" />
<text x="166.0" y="1711.6" font-size="26" fill="#000" text-anchor="middle" font-weight="bold" >Ir</text>
<line x1="270.6" y1="1666.9" x2="270.6" y2="1675.4" stroke="#000" stroke-width="2" />
<text x="271.6" y="1711.6" font-size="26" fill="#000" text-anchor="middle" font-weight="bold" >Pt</text>
<line x1="376.2" y1="1666.9" x2="376.2" y2="1675.4" stroke="#000" stroke-width="2" />
<text x="377.2" y="1711.6" font-size="26" fill="#000" text-anchor="middle" font-weight="bold" >Ni</text>
<line x1="481.8" y1="1666.9" x2="481.8" y2="1675.4" stroke="#000" stroke-width="2" />
<text x="482.8" y="1711.6" font-size="26" fill="#000" text-anchor="middle" font-weight="bold" >Fe</text>
<line x1="587.4" y1="1666.9" x2="587.4" y2="1675.4" stroke="#000" stroke-width="2" />
<text x="588.4" y="1711.6" font-size="26" fill="#000" text-anchor="middle" font-weight="bold" >Co</text>
<text transform="translate(23.2,1475.3) rotate(-90)" font-size="27" fill="#000" text-anchor="middle" font-weight="bold">Chemical potential (eV)</text>
<rect x="124.6" y="1292.4" width="34.7" height="28.5" fill="url(#gRed)" stroke="none" stroke-width="0" />
<rect x="124.6" y="1326.4" width="34.7" height="28.5" fill="url(#gBlue)" stroke="none" stroke-width="0" />
<text x="174.8" y="1315.0" font-size="24" fill="#e8231c" text-anchor="start" font-weight="bold" >4H-IrPtNiFeCo</text>
<text x="176.4" y="1350.0" font-size="24" fill="#1a0fe0" text-anchor="start" font-weight="bold" ><tspan font-style="italic">fcc</tspan>-IrPtNiFeCo</text>
<text transform="translate(-1.9,1302.0) scale(1.0,1)" font-size="50" fill="#000" font-weight="bold">h</text>
<rect x="812.7" y="1278.8" width="528.9" height="388.1" fill="none" stroke="#000" stroke-width="2" />
<line x1="804.2" y1="1278.8" x2="812.7" y2="1278.8" stroke="#000" stroke-width="2" />
<text x="797.1" y="1287.1" font-size="23.3" fill="#000" text-anchor="end" font-weight="bold" >0.3</text>
<line x1="804.2" y1="1408.2" x2="812.7" y2="1408.2" stroke="#000" stroke-width="2" />
<text x="797.1" y="1416.5" font-size="23.3" fill="#000" text-anchor="end" font-weight="bold" >0.0</text>
<line x1="804.2" y1="1537.5" x2="812.7" y2="1537.5" stroke="#000" stroke-width="2" />
<text x="797.1" y="1545.8" font-size="23.3" fill="#000" text-anchor="end" font-weight="bold" >−0.3</text>
<line x1="804.2" y1="1666.9" x2="812.7" y2="1666.9" stroke="#000" stroke-width="2" />
<text x="797.1" y="1675.2" font-size="23.3" fill="#000" text-anchor="end" font-weight="bold" >−0.6</text>
<line x1="808.5" y1="1343.5" x2="812.7" y2="1343.5" stroke="#000" stroke-width="2" />
<line x1="808.5" y1="1472.9" x2="812.7" y2="1472.9" stroke="#000" stroke-width="2" />
<line x1="808.5" y1="1602.2" x2="812.7" y2="1602.2" stroke="#000" stroke-width="2" />
<line x1="918.5" y1="1408.2" x2="1234.2" y2="1408.2" stroke="#000" stroke-width="1.8" stroke-dasharray="4.5,3"/>
<line x1="918.5" y1="1408.2" x2="1023.7" y2="1464.0" stroke="#ee2a24" stroke-width="1.8" stroke-dasharray="4.5,3"/>
<line x1="1130.6" y1="1464.0" x2="1234.2" y2="1408.2" stroke="#ee2a24" stroke-width="1.8" stroke-dasharray="4.5,3"/>
<line x1="918.5" y1="1408.2" x2="1023.7" y2="1576.3" stroke="#1c14f0" stroke-width="1.8" stroke-dasharray="4.5,3"/>
<line x1="1130.6" y1="1576.3" x2="1234.2" y2="1408.2" stroke="#1c14f0" stroke-width="1.8" stroke-dasharray="4.5,3"/>
<line x1="813.7" y1="1408.2" x2="918.5" y2="1408.2" stroke="#5a5a5a" stroke-width="5.5" />
<line x1="1234.2" y1="1408.2" x2="1340.6" y2="1408.2" stroke="#5a5a5a" stroke-width="5.5" />
<line x1="1024.0" y1="1464.0" x2="1130.3" y2="1464.0" stroke="#ee2a24" stroke-width="5.5" stroke-linecap="round"/>
<line x1="1024.0" y1="1576.3" x2="1130.3" y2="1576.3" stroke="#1c14f0" stroke-width="5.5" stroke-linecap="round"/>
<text x="827.5" y="1446.1" font-size="24" fill="#000" text-anchor="start" font-weight="bold" >H<tspan dy="-8" font-size="15">+</tspan><tspan dy="8"> + e</tspan><tspan dy="-8" font-size="15">−</tspan></text>
<text x="1259.4" y="1447.8" font-size="24" fill="#000" text-anchor="start" font-weight="bold" >1/2H<tspan dy="6" font-size="15">2</tspan></text>
<text x="1074.4" y="1447.1" font-size="17.8" fill="#000" text-anchor="middle" font-weight="bold" >−0.13</text>
<text x="1071.6" y="1557.8" font-size="17.8" fill="#000" text-anchor="middle" font-weight="bold" >−0.39</text>
<text x="1074.0" y="1614.5" font-size="24" fill="#000" text-anchor="middle" font-weight="bold" >*H</text>
<text x="1320.9" y="1317.6" font-size="26.5" fill="#000" text-anchor="end" font-weight="bold" >HER</text>
<line x1="838.0" y1="1307.6" x2="876.0" y2="1307.6" stroke="#ee2a24" stroke-width="6" stroke-linecap="round"/>
<line x1="838.0" y1="1341.9" x2="876.0" y2="1341.9" stroke="#1c14f0" stroke-width="6" stroke-linecap="round"/>
<text x="892.6" y="1316.7" font-size="24" fill="#e8231c" text-anchor="start" font-weight="bold" >4H-IrPtNiFeCo</text>
<text x="895.9" y="1350.6" font-size="24" fill="#1a0fe0" text-anchor="start" font-weight="bold" ><tspan font-style="italic">fcc</tspan>-IrPtNiFeCo</text>
<text x="1076.6" y="1713.5" font-size="27" fill="#000" text-anchor="middle" font-weight="bold" >Reaction coordinate</text>
<text transform="translate(729.5,1473.6) rotate(-90)" font-size="27" fill="#000" text-anchor="middle" font-weight="bold">Energy (eV)</text>
<text x="716.5" y="1305.0" font-size="50" fill="#000" text-anchor="start" font-weight="bold" >i</text>
<rect x="1524.3" y="1278.5" width="529.3" height="388.2" fill="none" stroke="#000" stroke-width="2" />
<line x1="1515.8" y1="1278.5" x2="1524.3" y2="1278.5" stroke="#000" stroke-width="2" />
<text x="1508.3" y="1286.8" font-size="23.3" fill="#000" text-anchor="end" font-weight="bold" >0.5</text>
<line x1="1515.8" y1="1407.9" x2="1524.3" y2="1407.9" stroke="#000" stroke-width="2" />
<text x="1508.3" y="1416.2" font-size="23.3" fill="#000" text-anchor="end" font-weight="bold" >0.0</text>
<line x1="1515.8" y1="1537.3" x2="1524.3" y2="1537.3" stroke="#000" stroke-width="2" />
<text x="1508.3" y="1545.6" font-size="23.3" fill="#000" text-anchor="end" font-weight="bold" >−0.5</text>
<line x1="1515.8" y1="1666.7" x2="1524.3" y2="1666.7" stroke="#000" stroke-width="2" />
<text x="1508.3" y="1675.0" font-size="23.3" fill="#000" text-anchor="end" font-weight="bold" >−1.0</text>
<line x1="1520.1" y1="1343.2" x2="1524.3" y2="1343.2" stroke="#000" stroke-width="2" />
<line x1="1520.1" y1="1472.6" x2="1524.3" y2="1472.6" stroke="#000" stroke-width="2" />
<line x1="1520.1" y1="1602.0" x2="1524.3" y2="1602.0" stroke="#000" stroke-width="2" />
<line x1="1584.0" y1="1407.9" x2="1991.5" y2="1407.9" stroke="#000" stroke-width="1.8" stroke-dasharray="4.5,3"/>
<line x1="1584.0" y1="1407.9" x2="1640.9" y2="1506.2" stroke="#ee2a24" stroke-width="1.8" stroke-dasharray="4.5,3"/>
<line x1="1702.0" y1="1506.2" x2="1758.8" y2="1549.5" stroke="#ee2a24" stroke-width="1.8" stroke-dasharray="4.5,3"/>
<line x1="1819.2" y1="1549.5" x2="1876.0" y2="1476.7" stroke="#ee2a24" stroke-width="1.8" stroke-dasharray="4.5,3"/>
<line x1="1936.4" y1="1476.7" x2="1991.5" y2="1407.9" stroke="#ee2a24" stroke-width="1.8" stroke-dasharray="4.5,3"/>
<line x1="1584.0" y1="1407.9" x2="1640.9" y2="1538.9" stroke="#1c14f0" stroke-width="1.8" stroke-dasharray="4.5,3"/>
<line x1="1702.0" y1="1538.9" x2="1758.8" y2="1597.5" stroke="#1c14f0" stroke-width="1.8" stroke-dasharray="4.5,3"/>
<line x1="1819.2" y1="1597.5" x2="1876.0" y2="1496.2" stroke="#1c14f0" stroke-width="1.8" stroke-dasharray="4.5,3"/>
<line x1="1936.4" y1="1496.2" x2="1991.5" y2="1407.9" stroke="#1c14f0" stroke-width="1.8" stroke-dasharray="4.5,3"/>
<line x1="1525.3" y1="1407.9" x2="1584.0" y2="1407.9" stroke="#ee2a24" stroke-width="5.5" stroke-linecap="round"/>
<line x1="1991.5" y1="1407.9" x2="2052.6" y2="1407.9" stroke="#ee2a24" stroke-width="5.5" stroke-linecap="round"/>
<line x1="1640.9" y1="1506.2" x2="1702.0" y2="1506.2" stroke="#ee2a24" stroke-width="5.5" stroke-linecap="round"/>
<line x1="1758.8" y1="1549.5" x2="1819.2" y2="1549.5" stroke="#ee2a24" stroke-width="5.5" stroke-linecap="round"/>
<line x1="1876.0" y1="1476.7" x2="1936.4" y2="1476.7" stroke="#ee2a24" stroke-width="5.5" stroke-linecap="round"/>
<line x1="1640.9" y1="1538.9" x2="1702.0" y2="1538.9" stroke="#1c14f0" stroke-width="5.5" stroke-linecap="round"/>
<line x1="1758.8" y1="1597.5" x2="1819.2" y2="1597.5" stroke="#1c14f0" stroke-width="5.5" stroke-linecap="round"/>
<line x1="1876.0" y1="1496.2" x2="1936.4" y2="1496.2" stroke="#1c14f0" stroke-width="5.5" stroke-linecap="round"/>
<text x="1530.7" y="1444.7" font-size="24" fill="#000" text-anchor="start" font-weight="bold" >2H<tspan dy="6" font-size="15">2</tspan><tspan dy="-6">O</tspan></text>
<text x="1954.2" y="1444.7" font-size="24" fill="#000" text-anchor="start" font-weight="bold" >O<tspan dy="6" font-size="15">2</tspan><tspan dy="-6"> + 4H</tspan><tspan dy="-8" font-size="15">+</tspan></text>
<text x="1669.5" y="1492.7" font-size="17.8" fill="#000" text-anchor="middle" font-weight="bold" >−0.38</text>
<text x="1669.5" y="1528.9" font-size="17.8" fill="#000" text-anchor="middle" font-weight="bold" >−0.51</text>
<text x="1787.8" y="1536.0" font-size="17.8" fill="#000" text-anchor="middle" font-weight="bold" >−0.55</text>
<text x="1787.8" y="1585.0" font-size="17.8" fill="#000" text-anchor="middle" font-weight="bold" >−0.74</text>
<text x="1903.6" y="1463.2" font-size="17.8" fill="#000" text-anchor="middle" font-weight="bold" >−0.27</text>
<text x="1903.6" y="1490.2" font-size="17.8" fill="#000" text-anchor="middle" font-weight="bold" >−0.34</text>
<text x="1551.0" y="1576.2" font-size="24" fill="#000" text-anchor="start" font-weight="bold" >*OH + H<tspan dy="-8" font-size="15">+</tspan><tspan dy="8"> + H</tspan><tspan dy="6" font-size="15">2</tspan><tspan dy="-6">O</tspan></text>
<text x="1704.8" y="1636.6" font-size="24" fill="#000" text-anchor="start" font-weight="bold" >*O + 2H<tspan dy="-8" font-size="15">+</tspan><tspan dy="8"> + H</tspan><tspan dy="6" font-size="15">2</tspan><tspan dy="-6">O</tspan></text>
<text x="1861.8" y="1533.5" font-size="24" fill="#000" text-anchor="start" font-weight="bold" >*OOH + 3H<tspan dy="-8" font-size="15">+</tspan></text>
<text x="2034.1" y="1645.4" font-size="23.9" fill="#000" text-anchor="end" font-weight="bold" >U = 1.23 V</text>
<text x="2033.0" y="1316.8" font-size="26.5" fill="#000" text-anchor="end" font-weight="bold" >OER</text>
<line x1="1549.5" y1="1307.2" x2="1588.0" y2="1307.2" stroke="#ee2a24" stroke-width="6" stroke-linecap="round"/>
<line x1="1549.5" y1="1341.7" x2="1588.0" y2="1341.7" stroke="#1c14f0" stroke-width="6" stroke-linecap="round"/>
<text x="1604.3" y="1316.8" font-size="24" fill="#e8231c" text-anchor="start" font-weight="bold" >4H-IrPtNiFeCo</text>
<text x="1606.0" y="1351.7" font-size="24" fill="#1a0fe0" text-anchor="start" font-weight="bold" ><tspan font-style="italic">fcc</tspan>-IrPtNiFeCo</text>
<text x="1787.8" y="1713.5" font-size="27" fill="#000" text-anchor="middle" font-weight="bold" >Reaction coordinate</text>
<text transform="translate(1441.0,1474.0) rotate(-90)" font-size="27" fill="#000" text-anchor="middle" font-weight="bold">Energy (eV)</text>
<text transform="translate(1428.0,1307.5) scale(1.0,1)" font-size="50" fill="#000" font-weight="bold">j</text>
</svg>
</body></html>
